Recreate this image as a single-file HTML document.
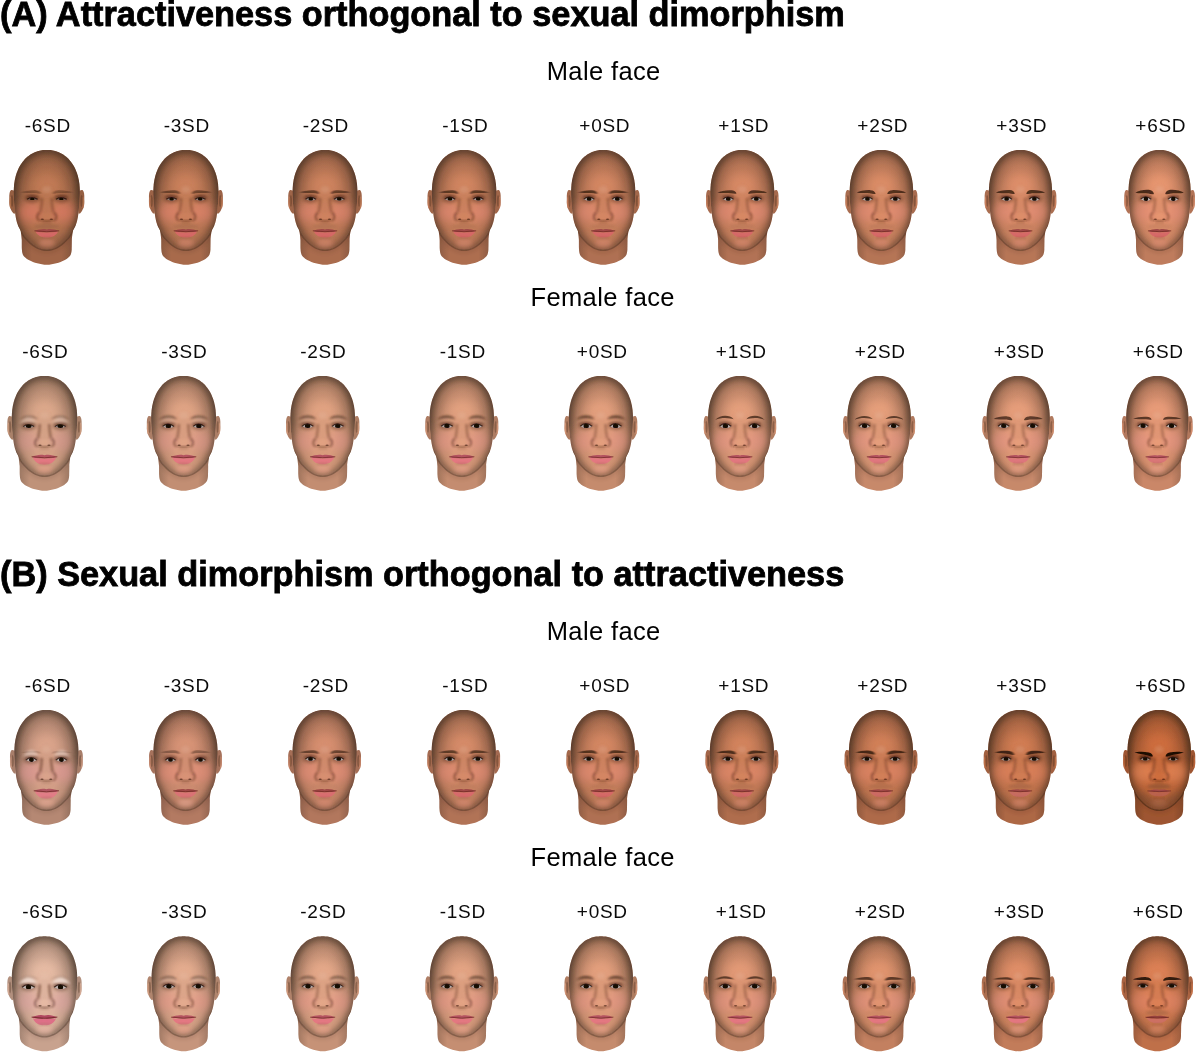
<!DOCTYPE html>
<html><head><meta charset="utf-8"><title>Attractiveness and sexual dimorphism</title>
<style>
html,body{margin:0;padding:0;background:#fff;}
body{width:1200px;height:1056px;overflow:hidden;}
svg{display:block;}
.t{font-family:"Liberation Sans",Arial,sans-serif;font-weight:bold;font-size:34.3px;letter-spacing:0.0px;fill:#000;stroke:#000;stroke-width:0.8px;}
.s{font-family:"Liberation Sans",Arial,sans-serif;font-size:25.5px;letter-spacing:0.38px;fill:#000;}
.l{font-family:"Liberation Sans",Arial,sans-serif;font-size:19px;letter-spacing:0.7px;fill:#0a0a0a;}
</style></head><body>
<svg width="1200" height="1056" viewBox="0 0 1200 1056">
<defs>
<filter id="bf" x="-10%" y="-10%" width="120%" height="120%"><feGaussianBlur stdDeviation="0.45"/></filter>
<filter id="b04" x="-50%" y="-50%" width="200%" height="200%"><feGaussianBlur stdDeviation="0.4"/></filter>
<filter id="b05" x="-50%" y="-50%" width="200%" height="200%"><feGaussianBlur stdDeviation="0.5"/></filter>
<filter id="b06" x="-50%" y="-50%" width="200%" height="200%"><feGaussianBlur stdDeviation="0.6"/></filter>
<filter id="b08" x="-50%" y="-50%" width="200%" height="200%"><feGaussianBlur stdDeviation="0.8"/></filter>
<filter id="b1" x="-50%" y="-50%" width="200%" height="200%"><feGaussianBlur stdDeviation="1"/></filter>
<filter id="b12" x="-50%" y="-50%" width="200%" height="200%"><feGaussianBlur stdDeviation="1.2"/></filter>
<filter id="b15" x="-50%" y="-50%" width="200%" height="200%"><feGaussianBlur stdDeviation="1.5"/></filter>
<filter id="b2" x="-50%" y="-50%" width="200%" height="200%"><feGaussianBlur stdDeviation="2"/></filter>
<filter id="b3" x="-50%" y="-50%" width="200%" height="200%"><feGaussianBlur stdDeviation="3"/></filter>
<filter id="b4" x="-50%" y="-50%" width="200%" height="200%"><feGaussianBlur stdDeviation="4"/></filter>
<radialGradient id="rimg" cx="0" cy="0" r="1" gradientUnits="userSpaceOnUse" gradientTransform="translate(0,62) scale(33,75)"><stop offset="0" stop-color="#2a2018" stop-opacity="0"/><stop offset="0.35" stop-color="#2a2018" stop-opacity="0"/><stop offset="0.56" stop-color="#2a2018" stop-opacity="0.10"/><stop offset="0.77" stop-color="#2a2018" stop-opacity="0.23"/><stop offset="0.93" stop-color="#2a2018" stop-opacity="0.34"/><stop offset="1" stop-color="#2a2018" stop-opacity="0.44"/></radialGradient>
<linearGradient id="topg" x1="0" x2="0" y1="4" y2="40" gradientUnits="userSpaceOnUse"><stop offset="0" stop-color="#24160e" stop-opacity="0.12"/><stop offset="0.5" stop-color="#24160e" stop-opacity="0.04"/><stop offset="1" stop-color="#24160e" stop-opacity="0"/></linearGradient>
<linearGradient id="neckg" x1="-24" x2="24" y1="0" y2="0" gradientUnits="userSpaceOnUse"><stop offset="0" stop-color="#2a2018" stop-opacity="0.22"/><stop offset="0.2" stop-color="#2a2018" stop-opacity="0"/><stop offset="0.8" stop-color="#2a2018" stop-opacity="0"/><stop offset="1" stop-color="#2a2018" stop-opacity="0.22"/></linearGradient>
<radialGradient id="cranig" cx="0" cy="0" r="1" gradientUnits="userSpaceOnUse" gradientTransform="translate(0,40) scale(32,42)"><stop offset="0" stop-color="#2a2018" stop-opacity="0"/><stop offset="0.6" stop-color="#2a2018" stop-opacity="0"/><stop offset="0.85" stop-color="#2a2018" stop-opacity="0.17"/><stop offset="0.97" stop-color="#2a2018" stop-opacity="0.17"/><stop offset="1" stop-color="#2a2018" stop-opacity="0"/></radialGradient>
<path id="head" d="M0.0,4.9C0.8,4.9 1.7,4.9 2.5,5.0C3.3,5.0 4.1,5.1 4.8,5.2C5.6,5.4 6.3,5.5 7.0,5.7C7.7,5.8 8.4,6.0 9.1,6.2C9.8,6.5 10.5,6.7 11.2,7.0C11.8,7.3 12.5,7.6 13.1,7.9C13.8,8.2 14.4,8.6 15.0,8.9C15.6,9.3 16.3,9.7 16.9,10.2C17.4,10.6 18.0,11.1 18.6,11.5C19.1,12.0 19.7,12.5 20.2,13.1C20.8,13.6 21.3,14.1 21.8,14.7C22.3,15.3 22.8,15.9 23.2,16.5C23.7,17.1 24.2,17.8 24.6,18.4C25.1,19.1 25.5,19.8 25.9,20.5C26.3,21.2 26.7,21.9 27.0,22.6C27.4,23.4 27.8,24.1 28.1,24.9C28.4,25.7 28.7,26.5 29.0,27.3C29.3,28.1 29.6,28.9 29.8,29.8C30.1,30.6 30.3,31.5 30.5,32.4C30.7,33.2 30.9,34.1 31.1,35.0C31.2,35.9 31.4,36.9 31.5,37.8C31.7,38.7 31.8,39.7 31.8,40.7C31.9,41.7 32.0,42.5 32.0,43.7C32.1,44.8 32.1,45.4 32.1,47.5C32.1,49.6 31.9,53.6 31.8,56.0C31.7,58.4 31.5,59.8 31.3,62.0C31.1,64.2 30.9,66.8 30.6,69.0C30.3,71.2 30.0,73.2 29.6,75.0C29.2,76.8 28.8,78.2 28.3,79.5C27.9,80.8 27.4,81.7 26.9,82.8C26.4,83.9 25.8,84.9 25.2,86.0C24.6,87.1 24.2,88.4 23.6,89.4C23.0,90.4 22.2,91.3 21.6,92.1C21.0,92.9 20.8,93.2 19.9,94.2C19.0,95.2 17.4,96.8 16.2,98.0C14.9,99.2 13.7,100.2 12.4,101.1C11.1,102.0 9.9,102.7 8.6,103.3C7.3,103.9 5.9,104.4 4.5,104.7C3.1,105.0 1.5,105.2 0.0,105.2C-1.5,105.2 -3.1,105.0 -4.5,104.7C-5.9,104.4 -7.3,103.9 -8.6,103.3C-9.9,102.7 -11.1,102.0 -12.4,101.1C-13.7,100.2 -14.9,99.2 -16.2,98.0C-17.4,96.8 -19.0,95.2 -19.9,94.2C-20.8,93.2 -21.0,92.9 -21.6,92.1C-22.2,91.3 -23.0,90.4 -23.6,89.4C-24.2,88.4 -24.6,87.1 -25.2,86.0C-25.8,84.9 -26.4,83.9 -26.9,82.8C-27.4,81.7 -27.9,80.8 -28.3,79.5C-28.8,78.2 -29.2,76.8 -29.6,75.0C-30.0,73.2 -30.3,71.2 -30.6,69.0C-30.9,66.8 -31.1,64.2 -31.3,62.0C-31.5,59.8 -31.7,58.4 -31.8,56.0C-31.9,53.6 -32.1,49.6 -32.1,47.5C-32.1,45.4 -32.1,44.8 -32.0,43.7C-32.0,42.5 -31.9,41.7 -31.8,40.7C-31.8,39.7 -31.7,38.7 -31.5,37.8C-31.4,36.9 -31.2,35.9 -31.1,35.0C-30.9,34.1 -30.7,33.2 -30.5,32.4C-30.3,31.5 -30.1,30.6 -29.8,29.8C-29.6,28.9 -29.3,28.1 -29.0,27.3C-28.7,26.5 -28.4,25.7 -28.1,24.9C-27.8,24.1 -27.4,23.4 -27.0,22.6C-26.7,21.9 -26.3,21.2 -25.9,20.5C-25.5,19.8 -25.1,19.1 -24.6,18.4C-24.2,17.8 -23.7,17.1 -23.2,16.5C-22.8,15.9 -22.3,15.3 -21.8,14.7C-21.3,14.1 -20.8,13.6 -20.2,13.1C-19.7,12.5 -19.1,12.0 -18.6,11.5C-18.0,11.1 -17.4,10.6 -16.9,10.2C-16.3,9.7 -15.6,9.3 -15.0,8.9C-14.4,8.6 -13.8,8.2 -13.1,7.9C-12.5,7.6 -11.8,7.3 -11.2,7.0C-10.5,6.7 -9.8,6.5 -9.1,6.2C-8.4,6.0 -7.7,5.8 -7.0,5.7C-6.3,5.5 -5.6,5.4 -4.8,5.2C-4.1,5.1 -3.3,5.0 -2.5,5.0C-1.7,4.9 -0.8,4.9 0.0,4.9Z"/>
<path id="cran" d="M-31.8,56.0C-31.9,54.6 -32.1,49.6 -32.1,47.5C-32.1,45.4 -32.1,44.8 -32.0,43.7C-32.0,42.5 -31.9,41.7 -31.8,40.7C-31.8,39.7 -31.7,38.7 -31.5,37.8C-31.4,36.9 -31.2,35.9 -31.1,35.0C-30.9,34.1 -30.7,33.2 -30.5,32.4C-30.3,31.5 -30.1,30.6 -29.8,29.8C-29.6,28.9 -29.3,28.1 -29.0,27.3C-28.7,26.5 -28.4,25.7 -28.1,24.9C-27.8,24.1 -27.4,23.4 -27.0,22.6C-26.7,21.9 -26.3,21.2 -25.9,20.5C-25.5,19.8 -25.1,19.1 -24.6,18.4C-24.2,17.8 -23.7,17.1 -23.2,16.5C-22.8,15.9 -22.3,15.3 -21.8,14.7C-21.3,14.1 -20.8,13.6 -20.2,13.1C-19.7,12.5 -19.1,12.0 -18.6,11.5C-18.0,11.1 -17.4,10.6 -16.9,10.2C-16.3,9.7 -15.6,9.3 -15.0,8.9C-14.4,8.6 -13.8,8.2 -13.1,7.9C-12.5,7.6 -11.8,7.3 -11.2,7.0C-10.5,6.7 -9.8,6.5 -9.1,6.2C-8.4,6.0 -7.7,5.8 -7.0,5.7C-6.3,5.5 -5.6,5.4 -4.8,5.2C-4.1,5.1 -3.3,5.0 -2.5,5.0C-1.7,4.9 -0.8,4.9 0.0,4.9C0.8,4.9 1.7,4.9 2.5,5.0C3.3,5.0 4.1,5.1 4.8,5.2C5.6,5.4 6.3,5.5 7.0,5.7C7.7,5.8 8.4,6.0 9.1,6.2C9.8,6.5 10.5,6.7 11.2,7.0C11.8,7.3 12.5,7.6 13.1,7.9C13.8,8.2 14.4,8.6 15.0,8.9C15.6,9.3 16.3,9.7 16.9,10.2C17.4,10.6 18.0,11.1 18.6,11.5C19.1,12.0 19.7,12.5 20.2,13.1C20.8,13.6 21.3,14.1 21.8,14.7C22.3,15.3 22.8,15.9 23.2,16.5C23.7,17.1 24.2,17.8 24.6,18.4C25.1,19.1 25.5,19.8 25.9,20.5C26.3,21.2 26.7,21.9 27.0,22.6C27.4,23.4 27.8,24.1 28.1,24.9C28.4,25.7 28.7,26.5 29.0,27.3C29.3,28.1 29.6,28.9 29.8,29.8C30.1,30.6 30.3,31.5 30.5,32.4C30.7,33.2 30.9,34.1 31.1,35.0C31.2,35.9 31.4,36.9 31.5,37.8C31.7,38.7 31.8,39.7 31.8,40.7C31.9,41.7 32.0,42.5 32.0,43.7C32.1,44.8 32.1,45.4 32.1,47.5C32.1,49.6 31.9,54.6 31.8,56.0" fill="none"/>
<path id="neck" d="M0.0,70.0C8.1,70.0 20.1,65.8 24.2,70.0C28.2,74.2 24.3,89.3 24.3,95.0C24.3,100.7 24.3,101.7 24.2,104.0C24.1,106.3 23.9,107.4 23.5,108.7C23.1,110.0 22.6,110.8 21.5,111.9C20.4,113.0 19.0,114.1 17.0,115.2C15.0,116.3 12.1,117.5 9.3,118.3C6.5,119.1 3.1,119.8 0.0,119.8C-3.1,119.8 -6.5,119.1 -9.3,118.3C-12.1,117.5 -15.0,116.3 -17.0,115.2C-19.0,114.1 -20.4,113.0 -21.5,111.9C-22.6,110.8 -23.1,110.0 -23.5,108.7C-23.9,107.4 -24.1,106.3 -24.2,104.0C-24.3,101.7 -24.3,100.7 -24.3,95.0C-24.3,89.3 -28.2,74.2 -24.2,70.0C-20.1,65.8 -8.1,70.0 0.0,70.0Z"/>
<path id="jaw" d="M28.3,79.5C28.1,80.0 27.4,81.7 26.9,82.8C26.4,83.9 25.8,84.9 25.2,86.0C24.6,87.1 24.2,88.4 23.6,89.4C23.0,90.4 22.2,91.3 21.6,92.1C21.0,92.9 20.8,93.2 19.9,94.2C19.0,95.2 17.4,96.8 16.2,98.0C14.9,99.2 13.7,100.2 12.4,101.1C11.1,102.0 9.9,102.7 8.6,103.3C7.3,103.9 5.9,104.4 4.5,104.7C3.1,105.0 1.5,105.2 0.0,105.2C-1.5,105.2 -3.1,105.0 -4.5,104.7C-5.9,104.4 -7.3,103.9 -8.6,103.3C-9.9,102.7 -11.1,102.0 -12.4,101.1C-13.7,100.2 -14.9,99.2 -16.2,98.0C-17.4,96.8 -19.0,95.2 -19.9,94.2C-20.8,93.2 -21.0,92.9 -21.6,92.1C-22.2,91.3 -23.0,90.4 -23.6,89.4C-24.2,88.4 -24.6,87.1 -25.2,86.0C-25.8,84.9 -26.4,83.9 -26.9,82.8C-27.4,81.7 -28.1,80.0 -28.3,79.5" fill="none"/>
<path id="earL" d="M-32.2,45.6C-32.9,45.1 -33.9,44.6 -34.6,45.1C-35.3,45.6 -35.9,47.1 -36.2,48.5C-36.5,49.9 -36.4,51.4 -36.4,53.3C-36.4,55.2 -36.5,58.0 -36.2,59.9C-35.9,61.8 -35.3,63.5 -34.6,64.9C-33.9,66.4 -32.6,68.4 -31.9,68.6C-31.2,68.8 -30.7,69.4 -30.5,66.0C-30.3,62.6 -30.2,51.4 -30.5,48.0C-30.8,44.6 -31.5,46.1 -32.2,45.6Z"/>
<path id="earR" d="M32.2,45.6C32.9,45.1 33.9,44.6 34.6,45.1C35.3,45.6 35.9,47.1 36.2,48.5C36.5,49.9 36.4,51.4 36.4,53.3C36.4,55.2 36.5,58.0 36.2,59.9C35.9,61.8 35.3,63.5 34.6,64.9C33.9,66.4 32.6,68.4 31.9,68.6C31.2,68.8 30.7,69.4 30.5,66.0C30.3,62.6 30.2,51.4 30.5,48.0C30.8,44.6 31.5,46.1 32.2,45.6Z"/>
<clipPath id="hc"><use href="#head"/></clipPath>
<clipPath id="nc"><use href="#neck"/></clipPath>
<clipPath id="hnc"><use href="#neck"/><use href="#head"/></clipPath>
<g id="earsh"><ellipse cx="-33.8" cy="56" rx="1.2" ry="6"/><ellipse cx="33.8" cy="56" rx="1.2" ry="6"/></g>
<g id="cheeks"><ellipse cx="-16.5" cy="67" rx="10" ry="9"/><ellipse cx="16.5" cy="67" rx="10" ry="9"/></g>
<g id="sockets"><ellipse cx="-14.1" cy="53.5" rx="7.8" ry="4.4"/><ellipse cx="14.1" cy="53.5" rx="7.8" ry="4.4"/></g>
<path id="fbrowL" d="M-24.8,48.2 C-22.2,45.5 -18.5,44 -15,44 C-11.3,44 -8.4,45.1 -6.4,47.6 C-8.4,47.3 -11.4,46.4 -15,46.4 C-18.5,46.4 -21.6,47.1 -24.8,48.2Z"/><path id="fbrowR" d="M24.8,48.2 C22.2,45.5 18.5,44 15,44 C11.3,44 8.4,45.1 6.4,47.6 C8.4,47.3 11.4,46.4 15,46.4 C18.5,46.4 21.6,47.1 24.8,48.2Z"/>
<path id="browL" d="M-25,47.6 C-22,45.4 -16,44.0 -11,44.4 C-8.2,44.7 -6.4,46.2 -5.8,48.8 C-7.6,49.6 -9.6,48.6 -11.8,48.3 C-16.5,47.8 -21,48.5 -25,47.6Z"/><path id="browR" d="M25,47.6 C22,45.4 16,44.0 11,44.4 C8.2,44.7 6.4,46.2 5.8,48.8 C7.6,49.6 9.6,48.6 11.8,48.3 C16.5,47.8 21,48.5 25,47.6Z"/>
<g id="nsides" fill="none"><path d="M-4.6,53 Q-4.8,60 -6.2,67"/><path d="M4.6,53 Q4.8,60 6.2,67"/></g>
<g id="alae" fill="none"><path d="M-6.6,67.6 C-10,69 -10.2,73.8 -7.4,75.5"/><path d="M6.6,67.6 C10,69 10.2,73.8 7.4,75.5"/></g>
<g id="nostrils"><ellipse cx="-4.4" cy="74.3" rx="1.6" ry="0.8"/><ellipse cx="4.4" cy="74.3" rx="1.6" ry="0.8"/></g>
<path id="nostril" d="M-7,75.2 Q-3,75.3 0,76.4 Q3,75.3 7,75.2" fill="none"/>
<g id="lidhi"><ellipse cx="-14.5" cy="49.4" rx="8.5" ry="2.3"/><ellipse cx="14.5" cy="49.4" rx="8.5" ry="2.3"/></g>
<g id="lids"><ellipse cx="-14.1" cy="52" rx="6" ry="1.4"/><ellipse cx="14.1" cy="52" rx="6" ry="1.4"/></g>
<path id="lipu" d="M-12.3,86 C-8,84.6 -4,83.6 0,84.6 C4,83.6 8,84.6 12.1,86 C8,87.2 4,87.3 0,87.2 C-4,87.3 -8,87.2 -12.3,86Z"/>
<path id="lipl" d="M-10.8,86.7 C-6,87.6 6,87.6 10.8,86.7 C9,90.5 5,92.2 0,92.2 C-5,92.2 -9,90.5 -10.8,86.7Z"/>
<path id="lipline" d="M-12,85.8 Q0,87.6 12,85.8" fill="none"/>
</defs>
<text class="t" x="0" y="25.8">(A) Attractiveness orthogonal to sexual dimorphism</text>
<text class="s" x="603.7" y="79.7" text-anchor="middle">Male face</text>
<text class="s" x="602.7" y="305.8" text-anchor="middle">Female face</text>
<text class="t" x="0" y="585.8">(B) Sexual dimorphism orthogonal to attractiveness</text>
<text class="s" x="603.7" y="639.5" text-anchor="middle">Male face</text>
<text class="s" x="602.7" y="865.8" text-anchor="middle">Female face</text>

<text class="l" x="47.8" y="132.2" text-anchor="middle">-6SD</text>
<text class="l" x="186.8" y="132.2" text-anchor="middle">-3SD</text>
<text class="l" x="325.8" y="132.2" text-anchor="middle">-2SD</text>
<text class="l" x="465.3" y="132.2" text-anchor="middle">-1SD</text>
<text class="l" x="604.8" y="132.2" text-anchor="middle">+0SD</text>
<text class="l" x="743.8" y="132.2" text-anchor="middle">+1SD</text>
<text class="l" x="882.8" y="132.2" text-anchor="middle">+2SD</text>
<text class="l" x="1021.8" y="132.2" text-anchor="middle">+3SD</text>
<text class="l" x="1160.8" y="132.2" text-anchor="middle">+6SD</text>
<text class="l" x="45.3" y="358.0" text-anchor="middle">-6SD</text>
<text class="l" x="184.3" y="358.0" text-anchor="middle">-3SD</text>
<text class="l" x="323.3" y="358.0" text-anchor="middle">-2SD</text>
<text class="l" x="462.8" y="358.0" text-anchor="middle">-1SD</text>
<text class="l" x="602.3" y="358.0" text-anchor="middle">+0SD</text>
<text class="l" x="741.3" y="358.0" text-anchor="middle">+1SD</text>
<text class="l" x="880.3" y="358.0" text-anchor="middle">+2SD</text>
<text class="l" x="1019.3" y="358.0" text-anchor="middle">+3SD</text>
<text class="l" x="1158.3" y="358.0" text-anchor="middle">+6SD</text>
<text class="l" x="47.8" y="692.2" text-anchor="middle">-6SD</text>
<text class="l" x="186.8" y="692.2" text-anchor="middle">-3SD</text>
<text class="l" x="325.8" y="692.2" text-anchor="middle">-2SD</text>
<text class="l" x="465.3" y="692.2" text-anchor="middle">-1SD</text>
<text class="l" x="604.8" y="692.2" text-anchor="middle">+0SD</text>
<text class="l" x="743.8" y="692.2" text-anchor="middle">+1SD</text>
<text class="l" x="882.8" y="692.2" text-anchor="middle">+2SD</text>
<text class="l" x="1021.8" y="692.2" text-anchor="middle">+3SD</text>
<text class="l" x="1160.8" y="692.2" text-anchor="middle">+6SD</text>
<text class="l" x="45.3" y="918.2" text-anchor="middle">-6SD</text>
<text class="l" x="184.3" y="918.2" text-anchor="middle">-3SD</text>
<text class="l" x="323.3" y="918.2" text-anchor="middle">-2SD</text>
<text class="l" x="462.8" y="918.2" text-anchor="middle">-1SD</text>
<text class="l" x="602.3" y="918.2" text-anchor="middle">+0SD</text>
<text class="l" x="741.3" y="918.2" text-anchor="middle">+1SD</text>
<text class="l" x="880.3" y="918.2" text-anchor="middle">+2SD</text>
<text class="l" x="1019.3" y="918.2" text-anchor="middle">+3SD</text>
<text class="l" x="1158.3" y="918.2" text-anchor="middle">+6SD</text>
<g transform="translate(46.80,145.00) scale(1.030,1)" filter="url(#bf)"><defs><clipPath id="f0e0"><path d="M-19.30,54.20 Q-14.62,51.44 -8.90,54.20 Q-13.58,56.02 -19.30,54.20 Z"/></clipPath><clipPath id="f0e2"><path d="M8.90,54.20 Q13.58,51.44 19.30,54.20 Q14.62,56.02 8.90,54.20 Z"/></clipPath></defs><use href="#neck" fill="#a06547"/><use href="#neck" fill="url(#neckg)"/><g clip-path="url(#nc)"><use href="#jaw" stroke="#2a1008" stroke-width="5" opacity="0.12" filter="url(#b2)"/></g><use href="#earL" fill="#955e42"/><use href="#earR" fill="#955e42"/><g fill="#b67450" opacity="0.8" filter="url(#b06)"><ellipse cx="-35.2" cy="57.5" rx="1.1" ry="6"/><ellipse cx="35.2" cy="57.5" rx="1.1" ry="6"/></g><use href="#earsh" fill="#3a2010" opacity="0.3" filter="url(#b05)"/><use href="#head" fill="#ba7652"/><g clip-path="url(#hc)"><rect x="-33" y="0" width="66" height="42" fill="url(#topg)" opacity="1.00"/><use href="#head" fill="url(#rimg)" opacity="1.00"/><use href="#cran" stroke="#2a2018" stroke-width="12" opacity="0.22" filter="url(#b4)"/><use href="#head" fill="none" stroke="#2a2018" stroke-width="7" opacity="0.30" filter="url(#b2)"/><ellipse cx="0" cy="38" rx="13" ry="9" fill="#c57d57" opacity="0.60" filter="url(#b4)"/><ellipse cx="0" cy="44.5" rx="4.5" ry="3.5" fill="#cb9070" opacity="0.60" filter="url(#b15)"/><g fill="#e47c68" opacity="0.60" filter="url(#b4)"><ellipse cx="-16" cy="67.0" rx="11" ry="10"/><ellipse cx="16" cy="67.0" rx="11" ry="10"/></g><g fill="#3a1a10" opacity="0.32" filter="url(#b15)"><ellipse cx="-14.10" cy="53.50" rx="7.8" ry="4.4"/><ellipse cx="14.10" cy="53.50" rx="7.8" ry="4.4"/></g><g fill="#301a0e" opacity="0.35" filter="url(#b08)" transform="translate(0,46.90) scale(1,0.70) translate(0,-46.6)"><use href="#browL" transform="rotate(0.00,-15,46.6)"/><use href="#browR" transform="rotate(-0.00,15,46.6)"/></g><path d="M0,49 L0,69" stroke="#c97f59" stroke-width="3.5" opacity="0.35" filter="url(#b1)"/><use href="#nsides" stroke="#4a2010" stroke-width="2.6" opacity="0.30" filter="url(#b1)"/><ellipse cx="0" cy="71.3" rx="4.6" ry="3.6" fill="#c97f59" opacity="0.45" filter="url(#b1)"/><use href="#alae" stroke="#3a140a" stroke-width="1.8" opacity="0.45" filter="url(#b1)"/><use href="#nostril" stroke="#3a140a" stroke-width="1.3" opacity="0.39" filter="url(#b08)"/><use href="#nostrils" fill="#2a0a04" opacity="0.55" filter="url(#b06)"/><g fill="#3a1208" opacity="0.45" filter="url(#b08)"><ellipse cx="-14.10" cy="52.00" rx="5.98" ry="1.4"/><ellipse cx="14.10" cy="52.00" rx="5.98" ry="1.4"/></g><ellipse cx="0" cy="77" rx="5" ry="1.3" fill="#4a2012" opacity="0.15" filter="url(#b08)"/><ellipse cx="0" cy="81.4" rx="12" ry="3" fill="#3a3028" opacity="0.16" filter="url(#b15)"/><path d="M-22,84 Q-16,100 0,104 Q16,100 22,84 Q12,90 0,95 Q-12,90 -22,84Z" fill="#3a3028" opacity="0.14" filter="url(#b3)"/><g transform="translate(0,86.3) scale(1.00,1.05) translate(0,-86.3)"><use href="#lipu" fill="#a04a46" filter="url(#b05)"/><use href="#lipl" fill="#d66868" opacity="0.95" filter="url(#b06)"/><use href="#lipline" stroke="#5a1a14" stroke-width="0.8" opacity="0.60" filter="url(#b04)"/></g><ellipse cx="0" cy="93.2" rx="6" ry="1.2" fill="#4a2012" opacity="0.20" filter="url(#b08)"/><ellipse cx="0" cy="98" rx="8" ry="4.5" fill="#dc8c76" opacity="0.50" filter="url(#b2)"/><g filter="url(#b04)"><path d="M-19.30,54.20 Q-14.62,51.44 -8.90,54.20 Q-13.58,56.02 -19.30,54.20 Z" fill="#785a50"/><ellipse cx="-14.10" cy="53.90" rx="2.00" ry="2.10" fill="#140806" clip-path="url(#f0e0)"/><path d="M-19.30,54.20 Q-14.62,51.44 -8.90,54.20" stroke="#1e0c06" stroke-width="1.10" fill="none" opacity="0.8"/></g><g filter="url(#b04)"><path d="M8.90,54.20 Q13.58,51.44 19.30,54.20 Q14.62,56.02 8.90,54.20 Z" fill="#785a50"/><ellipse cx="14.10" cy="53.90" rx="2.00" ry="2.10" fill="#140806" clip-path="url(#f0e2)"/><path d="M8.90,54.20 Q13.58,51.44 19.30,54.20" stroke="#1e0c06" stroke-width="1.10" fill="none" opacity="0.8"/></g></g><g clip-path="url(#hnc)"><use href="#jaw" stroke="#2a1a10" stroke-width="1.3" opacity="0.32" filter="url(#b06)" transform="translate(0,0.2)"/></g></g>
<g transform="translate(185.90,145.00) scale(1.015,1)" filter="url(#bf)"><defs><clipPath id="f1e0"><path d="M-19.30,54.20 Q-14.62,50.67 -8.90,54.20 Q-13.58,56.62 -19.30,54.20 Z"/></clipPath><clipPath id="f1e2"><path d="M8.90,54.20 Q13.58,50.67 19.30,54.20 Q14.62,56.62 8.90,54.20 Z"/></clipPath></defs><use href="#neck" fill="#a86b4c"/><use href="#neck" fill="url(#neckg)"/><g clip-path="url(#nc)"><use href="#jaw" stroke="#2a1008" stroke-width="5" opacity="0.12" filter="url(#b2)"/></g><use href="#earL" fill="#9c6347"/><use href="#earR" fill="#9c6347"/><g fill="#bf7a57" opacity="0.8" filter="url(#b06)"><ellipse cx="-35.2" cy="57.5" rx="1.1" ry="6"/><ellipse cx="35.2" cy="57.5" rx="1.1" ry="6"/></g><use href="#earsh" fill="#3a2010" opacity="0.3" filter="url(#b05)"/><use href="#head" fill="#c37c58"/><g clip-path="url(#hc)"><rect x="-33" y="0" width="66" height="42" fill="url(#topg)" opacity="1.00"/><use href="#head" fill="url(#rimg)" opacity="1.00"/><use href="#cran" stroke="#2a2018" stroke-width="12" opacity="0.22" filter="url(#b4)"/><use href="#head" fill="none" stroke="#2a2018" stroke-width="7" opacity="0.30" filter="url(#b2)"/><ellipse cx="0" cy="38" rx="13" ry="9" fill="#cf835e" opacity="0.60" filter="url(#b4)"/><ellipse cx="0" cy="44.5" rx="4.5" ry="3.5" fill="#d29474" opacity="0.60" filter="url(#b15)"/><g fill="#e88673" opacity="0.55" filter="url(#b4)"><ellipse cx="-16" cy="67.0" rx="11" ry="10"/><ellipse cx="16" cy="67.0" rx="11" ry="10"/></g><g fill="#3a1a10" opacity="0.32" filter="url(#b15)"><ellipse cx="-14.10" cy="53.50" rx="7.8" ry="4.4"/><ellipse cx="14.10" cy="53.50" rx="7.8" ry="4.4"/></g><g fill="#301a0e" opacity="0.55" filter="url(#b08)" transform="translate(0,46.90) scale(1,0.71) translate(0,-46.6)"><use href="#browL" transform="rotate(0.00,-15,46.6)"/><use href="#browR" transform="rotate(-0.00,15,46.6)"/></g><path d="M0,49 L0,69" stroke="#d38660" stroke-width="3.5" opacity="0.35" filter="url(#b1)"/><use href="#nsides" stroke="#4a2010" stroke-width="2.6" opacity="0.30" filter="url(#b1)"/><ellipse cx="0" cy="71.3" rx="4.6" ry="3.6" fill="#d38660" opacity="0.45" filter="url(#b1)"/><use href="#alae" stroke="#3a140a" stroke-width="1.8" opacity="0.45" filter="url(#b1)"/><use href="#nostril" stroke="#3a140a" stroke-width="1.3" opacity="0.39" filter="url(#b08)"/><use href="#nostrils" fill="#2a0a04" opacity="0.55" filter="url(#b06)"/><g fill="#3a1208" opacity="0.45" filter="url(#b08)"><ellipse cx="-14.10" cy="52.00" rx="5.98" ry="1.4"/><ellipse cx="14.10" cy="52.00" rx="5.98" ry="1.4"/></g><ellipse cx="0" cy="77" rx="5" ry="1.3" fill="#4a2012" opacity="0.15" filter="url(#b08)"/><ellipse cx="0" cy="81.4" rx="12" ry="3" fill="#3a3028" opacity="0.13" filter="url(#b15)"/><path d="M-22,84 Q-16,100 0,104 Q16,100 22,84 Q12,90 0,95 Q-12,90 -22,84Z" fill="#3a3028" opacity="0.10" filter="url(#b3)"/><g transform="translate(0,86.3) scale(1.00,1.05) translate(0,-86.3)"><use href="#lipu" fill="#a04a46" filter="url(#b05)"/><use href="#lipl" fill="#d66868" opacity="0.95" filter="url(#b06)"/><use href="#lipline" stroke="#5a1a14" stroke-width="0.8" opacity="0.60" filter="url(#b04)"/></g><ellipse cx="0" cy="93.2" rx="6" ry="1.2" fill="#4a2012" opacity="0.20" filter="url(#b08)"/><ellipse cx="0" cy="98" rx="8" ry="4.5" fill="#dc8c76" opacity="0.50" filter="url(#b2)"/><g filter="url(#b04)"><path d="M-19.30,54.20 Q-14.62,50.67 -8.90,54.20 Q-13.58,56.62 -19.30,54.20 Z" fill="#94807a"/><ellipse cx="-14.10" cy="53.90" rx="2.15" ry="2.26" fill="#140806" clip-path="url(#f1e0)"/><path d="M-19.30,54.20 Q-14.62,50.67 -8.90,54.20" stroke="#1e0c06" stroke-width="1.10" fill="none" opacity="0.8"/></g><g filter="url(#b04)"><path d="M8.90,54.20 Q13.58,50.67 19.30,54.20 Q14.62,56.62 8.90,54.20 Z" fill="#94807a"/><ellipse cx="14.10" cy="53.90" rx="2.15" ry="2.26" fill="#140806" clip-path="url(#f1e2)"/><path d="M8.90,54.20 Q13.58,50.67 19.30,54.20" stroke="#1e0c06" stroke-width="1.10" fill="none" opacity="0.8"/></g></g><g clip-path="url(#hnc)"><use href="#jaw" stroke="#2a1a10" stroke-width="1.3" opacity="0.32" filter="url(#b06)" transform="translate(0,0.2)"/></g></g>
<g transform="translate(325.00,145.00) scale(1.010,1)" filter="url(#bf)"><defs><clipPath id="f2e0"><path d="M-19.30,54.20 Q-14.62,50.42 -8.90,54.20 Q-13.58,56.83 -19.30,54.20 Z"/></clipPath><clipPath id="f2e2"><path d="M8.90,54.20 Q13.58,50.42 19.30,54.20 Q14.62,56.83 8.90,54.20 Z"/></clipPath></defs><use href="#neck" fill="#aa6c4e"/><use href="#neck" fill="url(#neckg)"/><g clip-path="url(#nc)"><use href="#jaw" stroke="#2a1008" stroke-width="5" opacity="0.12" filter="url(#b2)"/></g><use href="#earL" fill="#9e6549"/><use href="#earR" fill="#9e6549"/><g fill="#c27b59" opacity="0.8" filter="url(#b06)"><ellipse cx="-35.2" cy="57.5" rx="1.1" ry="6"/><ellipse cx="35.2" cy="57.5" rx="1.1" ry="6"/></g><use href="#earsh" fill="#3a2010" opacity="0.3" filter="url(#b05)"/><use href="#head" fill="#c67e5b"/><g clip-path="url(#hc)"><rect x="-33" y="0" width="66" height="42" fill="url(#topg)" opacity="1.00"/><use href="#head" fill="url(#rimg)" opacity="1.00"/><use href="#cran" stroke="#2a2018" stroke-width="12" opacity="0.22" filter="url(#b4)"/><use href="#head" fill="none" stroke="#2a2018" stroke-width="7" opacity="0.30" filter="url(#b2)"/><ellipse cx="0" cy="38" rx="13" ry="9" fill="#d28660" opacity="0.60" filter="url(#b4)"/><ellipse cx="0" cy="44.5" rx="4.5" ry="3.5" fill="#d49676" opacity="0.60" filter="url(#b15)"/><g fill="#e98977" opacity="0.53" filter="url(#b4)"><ellipse cx="-16" cy="67.0" rx="11" ry="10"/><ellipse cx="16" cy="67.0" rx="11" ry="10"/></g><g fill="#3a1a10" opacity="0.32" filter="url(#b15)"><ellipse cx="-14.10" cy="53.50" rx="7.8" ry="4.4"/><ellipse cx="14.10" cy="53.50" rx="7.8" ry="4.4"/></g><g fill="#301a0e" opacity="0.62" filter="url(#b08)" transform="translate(0,46.90) scale(1,0.71) translate(0,-46.6)"><use href="#browL" transform="rotate(0.00,-15,46.6)"/><use href="#browR" transform="rotate(-0.00,15,46.6)"/></g><path d="M0,49 L0,69" stroke="#d68862" stroke-width="3.5" opacity="0.35" filter="url(#b1)"/><use href="#nsides" stroke="#4a2010" stroke-width="2.6" opacity="0.30" filter="url(#b1)"/><ellipse cx="0" cy="71.3" rx="4.6" ry="3.6" fill="#d68862" opacity="0.45" filter="url(#b1)"/><use href="#alae" stroke="#3a140a" stroke-width="1.8" opacity="0.45" filter="url(#b1)"/><use href="#nostril" stroke="#3a140a" stroke-width="1.3" opacity="0.39" filter="url(#b08)"/><use href="#nostrils" fill="#2a0a04" opacity="0.55" filter="url(#b06)"/><g fill="#3a1208" opacity="0.45" filter="url(#b08)"><ellipse cx="-14.10" cy="52.00" rx="5.98" ry="1.4"/><ellipse cx="14.10" cy="52.00" rx="5.98" ry="1.4"/></g><ellipse cx="0" cy="77" rx="5" ry="1.3" fill="#4a2012" opacity="0.15" filter="url(#b08)"/><ellipse cx="0" cy="81.4" rx="12" ry="3" fill="#3a3028" opacity="0.12" filter="url(#b15)"/><path d="M-22,84 Q-16,100 0,104 Q16,100 22,84 Q12,90 0,95 Q-12,90 -22,84Z" fill="#3a3028" opacity="0.09" filter="url(#b3)"/><g transform="translate(0,86.3) scale(1.00,1.05) translate(0,-86.3)"><use href="#lipu" fill="#a04a46" filter="url(#b05)"/><use href="#lipl" fill="#d66868" opacity="0.95" filter="url(#b06)"/><use href="#lipline" stroke="#5a1a14" stroke-width="0.8" opacity="0.60" filter="url(#b04)"/></g><ellipse cx="0" cy="93.2" rx="6" ry="1.2" fill="#4a2012" opacity="0.20" filter="url(#b08)"/><ellipse cx="0" cy="98" rx="8" ry="4.5" fill="#dc8c76" opacity="0.50" filter="url(#b2)"/><g filter="url(#b04)"><path d="M-19.30,54.20 Q-14.62,50.42 -8.90,54.20 Q-13.58,56.83 -19.30,54.20 Z" fill="#9d8d88"/><ellipse cx="-14.10" cy="53.90" rx="2.20" ry="2.31" fill="#140806" clip-path="url(#f2e0)"/><path d="M-19.30,54.20 Q-14.62,50.42 -8.90,54.20" stroke="#1e0c06" stroke-width="1.10" fill="none" opacity="0.8"/></g><g filter="url(#b04)"><path d="M8.90,54.20 Q13.58,50.42 19.30,54.20 Q14.62,56.83 8.90,54.20 Z" fill="#9d8d88"/><ellipse cx="14.10" cy="53.90" rx="2.20" ry="2.31" fill="#140806" clip-path="url(#f2e2)"/><path d="M8.90,54.20 Q13.58,50.42 19.30,54.20" stroke="#1e0c06" stroke-width="1.10" fill="none" opacity="0.8"/></g></g><g clip-path="url(#hnc)"><use href="#jaw" stroke="#2a1a10" stroke-width="1.3" opacity="0.32" filter="url(#b06)" transform="translate(0,0.2)"/></g></g>
<g transform="translate(464.10,145.00) scale(1.005,1)" filter="url(#bf)"><defs><clipPath id="f3e0"><path d="M-19.30,54.20 Q-14.62,50.17 -8.90,54.20 Q-13.58,57.02 -19.30,54.20 Z"/></clipPath><clipPath id="f3e2"><path d="M8.90,54.20 Q13.58,50.17 19.30,54.20 Q14.62,57.02 8.90,54.20 Z"/></clipPath></defs><use href="#neck" fill="#ad6e50"/><use href="#neck" fill="url(#neckg)"/><g clip-path="url(#nc)"><use href="#jaw" stroke="#2a1008" stroke-width="5" opacity="0.12" filter="url(#b2)"/></g><use href="#earL" fill="#a1664a"/><use href="#earR" fill="#a1664a"/><g fill="#c57d5b" opacity="0.8" filter="url(#b06)"><ellipse cx="-35.2" cy="57.5" rx="1.1" ry="6"/><ellipse cx="35.2" cy="57.5" rx="1.1" ry="6"/></g><use href="#earsh" fill="#3a2010" opacity="0.3" filter="url(#b05)"/><use href="#head" fill="#c9805d"/><g clip-path="url(#hc)"><rect x="-33" y="0" width="66" height="42" fill="url(#topg)" opacity="1.00"/><use href="#head" fill="url(#rimg)" opacity="1.00"/><use href="#cran" stroke="#2a2018" stroke-width="12" opacity="0.22" filter="url(#b4)"/><use href="#head" fill="none" stroke="#2a2018" stroke-width="7" opacity="0.30" filter="url(#b2)"/><ellipse cx="0" cy="38" rx="13" ry="9" fill="#d58862" opacity="0.60" filter="url(#b4)"/><ellipse cx="0" cy="44.5" rx="4.5" ry="3.5" fill="#d69778" opacity="0.60" filter="url(#b15)"/><g fill="#eb8d7a" opacity="0.52" filter="url(#b4)"><ellipse cx="-16" cy="67.0" rx="11" ry="10"/><ellipse cx="16" cy="67.0" rx="11" ry="10"/></g><g fill="#3a1a10" opacity="0.32" filter="url(#b15)"><ellipse cx="-14.10" cy="53.50" rx="7.8" ry="4.4"/><ellipse cx="14.10" cy="53.50" rx="7.8" ry="4.4"/></g><g fill="#301a0e" opacity="0.68" filter="url(#b08)" transform="translate(0,46.90) scale(1,0.72) translate(0,-46.6)"><use href="#browL" transform="rotate(0.00,-15,46.6)"/><use href="#browR" transform="rotate(-0.00,15,46.6)"/></g><path d="M0,49 L0,69" stroke="#d98a64" stroke-width="3.5" opacity="0.35" filter="url(#b1)"/><use href="#nsides" stroke="#4a2010" stroke-width="2.6" opacity="0.30" filter="url(#b1)"/><ellipse cx="0" cy="71.3" rx="4.6" ry="3.6" fill="#d98a64" opacity="0.45" filter="url(#b1)"/><use href="#alae" stroke="#3a140a" stroke-width="1.8" opacity="0.45" filter="url(#b1)"/><use href="#nostril" stroke="#3a140a" stroke-width="1.3" opacity="0.39" filter="url(#b08)"/><use href="#nostrils" fill="#2a0a04" opacity="0.55" filter="url(#b06)"/><g fill="#3a1208" opacity="0.45" filter="url(#b08)"><ellipse cx="-14.10" cy="52.00" rx="5.98" ry="1.4"/><ellipse cx="14.10" cy="52.00" rx="5.98" ry="1.4"/></g><ellipse cx="0" cy="77" rx="5" ry="1.3" fill="#4a2012" opacity="0.15" filter="url(#b08)"/><ellipse cx="0" cy="81.4" rx="12" ry="3" fill="#3a3028" opacity="0.11" filter="url(#b15)"/><path d="M-22,84 Q-16,100 0,104 Q16,100 22,84 Q12,90 0,95 Q-12,90 -22,84Z" fill="#3a3028" opacity="0.07" filter="url(#b3)"/><g transform="translate(0,86.3) scale(1.00,1.05) translate(0,-86.3)"><use href="#lipu" fill="#a04a46" filter="url(#b05)"/><use href="#lipl" fill="#d66868" opacity="0.95" filter="url(#b06)"/><use href="#lipline" stroke="#5a1a14" stroke-width="0.8" opacity="0.60" filter="url(#b04)"/></g><ellipse cx="0" cy="93.2" rx="6" ry="1.2" fill="#4a2012" opacity="0.20" filter="url(#b08)"/><ellipse cx="0" cy="98" rx="8" ry="4.5" fill="#dc8c76" opacity="0.50" filter="url(#b2)"/><g filter="url(#b04)"><path d="M-19.30,54.20 Q-14.62,50.17 -8.90,54.20 Q-13.58,57.02 -19.30,54.20 Z" fill="#a79996"/><ellipse cx="-14.10" cy="53.90" rx="2.25" ry="2.36" fill="#140806" clip-path="url(#f3e0)"/><path d="M-19.30,54.20 Q-14.62,50.17 -8.90,54.20" stroke="#1e0c06" stroke-width="1.10" fill="none" opacity="0.8"/></g><g filter="url(#b04)"><path d="M8.90,54.20 Q13.58,50.17 19.30,54.20 Q14.62,57.02 8.90,54.20 Z" fill="#a79996"/><ellipse cx="14.10" cy="53.90" rx="2.25" ry="2.36" fill="#140806" clip-path="url(#f3e2)"/><path d="M8.90,54.20 Q13.58,50.17 19.30,54.20" stroke="#1e0c06" stroke-width="1.10" fill="none" opacity="0.8"/></g></g><g clip-path="url(#hnc)"><use href="#jaw" stroke="#2a1a10" stroke-width="1.3" opacity="0.32" filter="url(#b06)" transform="translate(0,0.2)"/></g></g>
<g transform="translate(603.20,145.00) scale(1.000,1)" filter="url(#bf)"><defs><clipPath id="f4e0"><path d="M-19.30,54.20 Q-14.62,49.91 -8.90,54.20 Q-13.58,57.23 -19.30,54.20 Z"/></clipPath><clipPath id="f4e2"><path d="M8.90,54.20 Q13.58,49.91 19.30,54.20 Q14.62,57.23 8.90,54.20 Z"/></clipPath></defs><use href="#neck" fill="#af7052"/><use href="#neck" fill="url(#neckg)"/><g clip-path="url(#nc)"><use href="#jaw" stroke="#2a1008" stroke-width="5" opacity="0.12" filter="url(#b2)"/></g><use href="#earL" fill="#a3684c"/><use href="#earR" fill="#a3684c"/><g fill="#c87f5d" opacity="0.8" filter="url(#b06)"><ellipse cx="-35.2" cy="57.5" rx="1.1" ry="6"/><ellipse cx="35.2" cy="57.5" rx="1.1" ry="6"/></g><use href="#earsh" fill="#3a2010" opacity="0.3" filter="url(#b05)"/><use href="#head" fill="#cc825f"/><g clip-path="url(#hc)"><rect x="-33" y="0" width="66" height="42" fill="url(#topg)" opacity="1.00"/><use href="#head" fill="url(#rimg)" opacity="1.00"/><use href="#cran" stroke="#2a2018" stroke-width="12" opacity="0.22" filter="url(#b4)"/><use href="#head" fill="none" stroke="#2a2018" stroke-width="7" opacity="0.30" filter="url(#b2)"/><ellipse cx="0" cy="38" rx="13" ry="9" fill="#d88a65" opacity="0.60" filter="url(#b4)"/><ellipse cx="0" cy="44.5" rx="4.5" ry="3.5" fill="#d99879" opacity="0.60" filter="url(#b15)"/><g fill="#ec907e" opacity="0.50" filter="url(#b4)"><ellipse cx="-16" cy="67.0" rx="11" ry="10"/><ellipse cx="16" cy="67.0" rx="11" ry="10"/></g><g fill="#3a1a10" opacity="0.32" filter="url(#b15)"><ellipse cx="-14.10" cy="53.50" rx="7.8" ry="4.4"/><ellipse cx="14.10" cy="53.50" rx="7.8" ry="4.4"/></g><g fill="#301a0e" opacity="0.75" filter="url(#b08)" transform="translate(0,46.90) scale(1,0.72) translate(0,-46.6)"><use href="#browL" transform="rotate(0.00,-15,46.6)"/><use href="#browR" transform="rotate(-0.00,15,46.6)"/></g><path d="M0,49 L0,69" stroke="#dc8c67" stroke-width="3.5" opacity="0.35" filter="url(#b1)"/><use href="#nsides" stroke="#4a2010" stroke-width="2.6" opacity="0.30" filter="url(#b1)"/><ellipse cx="0" cy="71.3" rx="4.6" ry="3.6" fill="#dc8c67" opacity="0.45" filter="url(#b1)"/><use href="#alae" stroke="#3a140a" stroke-width="1.8" opacity="0.45" filter="url(#b1)"/><use href="#nostril" stroke="#3a140a" stroke-width="1.3" opacity="0.39" filter="url(#b08)"/><use href="#nostrils" fill="#2a0a04" opacity="0.55" filter="url(#b06)"/><g fill="#3a1208" opacity="0.45" filter="url(#b08)"><ellipse cx="-14.10" cy="52.00" rx="5.98" ry="1.4"/><ellipse cx="14.10" cy="52.00" rx="5.98" ry="1.4"/></g><ellipse cx="0" cy="77" rx="5" ry="1.3" fill="#4a2012" opacity="0.15" filter="url(#b08)"/><ellipse cx="0" cy="81.4" rx="12" ry="3" fill="#3a3028" opacity="0.10" filter="url(#b15)"/><path d="M-22,84 Q-16,100 0,104 Q16,100 22,84 Q12,90 0,95 Q-12,90 -22,84Z" fill="#3a3028" opacity="0.06" filter="url(#b3)"/><g transform="translate(0,86.3) scale(1.00,1.05) translate(0,-86.3)"><use href="#lipu" fill="#a04a46" filter="url(#b05)"/><use href="#lipl" fill="#d66868" opacity="0.95" filter="url(#b06)"/><use href="#lipline" stroke="#5a1a14" stroke-width="0.8" opacity="0.60" filter="url(#b04)"/></g><ellipse cx="0" cy="93.2" rx="6" ry="1.2" fill="#4a2012" opacity="0.20" filter="url(#b08)"/><ellipse cx="0" cy="98" rx="8" ry="4.5" fill="#dc8c76" opacity="0.50" filter="url(#b2)"/><g filter="url(#b04)"><path d="M-19.30,54.20 Q-14.62,49.91 -8.90,54.20 Q-13.58,57.23 -19.30,54.20 Z" fill="#b0a6a4"/><ellipse cx="-14.10" cy="53.90" rx="2.30" ry="2.42" fill="#140806" clip-path="url(#f4e0)"/><path d="M-19.30,54.20 Q-14.62,49.91 -8.90,54.20" stroke="#1e0c06" stroke-width="1.10" fill="none" opacity="0.8"/></g><g filter="url(#b04)"><path d="M8.90,54.20 Q13.58,49.91 19.30,54.20 Q14.62,57.23 8.90,54.20 Z" fill="#b0a6a4"/><ellipse cx="14.10" cy="53.90" rx="2.30" ry="2.42" fill="#140806" clip-path="url(#f4e2)"/><path d="M8.90,54.20 Q13.58,49.91 19.30,54.20" stroke="#1e0c06" stroke-width="1.10" fill="none" opacity="0.8"/></g></g><g clip-path="url(#hnc)"><use href="#jaw" stroke="#2a1a10" stroke-width="1.3" opacity="0.32" filter="url(#b06)" transform="translate(0,0.2)"/></g></g>
<g transform="translate(742.30,145.00) scale(0.995,1)" filter="url(#bf)"><defs><clipPath id="f5e0"><path d="M-19.33,54.20 Q-14.62,49.84 -8.87,54.20 Q-13.58,57.29 -19.33,54.20 Z"/></clipPath><clipPath id="f5e2"><path d="M8.87,54.20 Q13.58,49.84 19.33,54.20 Q14.62,57.29 8.87,54.20 Z"/></clipPath></defs><use href="#neck" fill="#b27254"/><use href="#neck" fill="url(#neckg)"/><g clip-path="url(#nc)"><use href="#jaw" stroke="#2a1008" stroke-width="5" opacity="0.12" filter="url(#b2)"/></g><use href="#earL" fill="#a66a4e"/><use href="#earR" fill="#a66a4e"/><g fill="#cb825f" opacity="0.8" filter="url(#b06)"><ellipse cx="-35.2" cy="57.5" rx="1.1" ry="6"/><ellipse cx="35.2" cy="57.5" rx="1.1" ry="6"/></g><use href="#earsh" fill="#3a2010" opacity="0.3" filter="url(#b05)"/><use href="#head" fill="#cf8461"/><g clip-path="url(#hc)"><rect x="-33" y="0" width="66" height="42" fill="url(#topg)" opacity="1.00"/><use href="#head" fill="url(#rimg)" opacity="1.00"/><use href="#cran" stroke="#2a2018" stroke-width="12" opacity="0.22" filter="url(#b4)"/><use href="#head" fill="none" stroke="#2a2018" stroke-width="7" opacity="0.30" filter="url(#b2)"/><ellipse cx="0" cy="38" rx="13" ry="9" fill="#db8c67" opacity="0.60" filter="url(#b4)"/><ellipse cx="0" cy="44.5" rx="4.5" ry="3.5" fill="#db9a7b" opacity="0.60" filter="url(#b15)"/><g fill="#ec907e" opacity="0.49" filter="url(#b4)"><ellipse cx="-16" cy="67.0" rx="11" ry="10"/><ellipse cx="16" cy="67.0" rx="11" ry="10"/></g><g fill="#3a1a10" opacity="0.32" filter="url(#b15)"><ellipse cx="-14.10" cy="53.50" rx="7.8" ry="4.4"/><ellipse cx="14.10" cy="53.50" rx="7.8" ry="4.4"/></g><g fill="#301a0e" opacity="0.77" filter="url(#b08)" transform="translate(0,46.90) scale(1,0.76) translate(0,-46.6)"><use href="#browL" transform="rotate(0.00,-15,46.6)"/><use href="#browR" transform="rotate(-0.00,15,46.6)"/></g><path d="M0,49 L0,69" stroke="#e08f69" stroke-width="3.5" opacity="0.35" filter="url(#b1)"/><use href="#nsides" stroke="#4a2010" stroke-width="2.6" opacity="0.30" filter="url(#b1)"/><ellipse cx="0" cy="71.3" rx="4.6" ry="3.6" fill="#e08f69" opacity="0.45" filter="url(#b1)"/><use href="#alae" stroke="#3a140a" stroke-width="1.8" opacity="0.45" filter="url(#b1)"/><use href="#nostril" stroke="#3a140a" stroke-width="1.3" opacity="0.39" filter="url(#b08)"/><use href="#nostrils" fill="#2a0a04" opacity="0.55" filter="url(#b06)"/><g fill="#3a1208" opacity="0.35" filter="url(#b08)"><ellipse cx="-14.10" cy="52.00" rx="6.02" ry="1.4"/><ellipse cx="14.10" cy="52.00" rx="6.02" ry="1.4"/></g><ellipse cx="0" cy="77" rx="5" ry="1.3" fill="#4a2012" opacity="0.15" filter="url(#b08)"/><ellipse cx="0" cy="81.4" rx="12" ry="3" fill="#3a3028" opacity="0.10" filter="url(#b15)"/><path d="M-22,84 Q-16,100 0,104 Q16,100 22,84 Q12,90 0,95 Q-12,90 -22,84Z" fill="#3a3028" opacity="0.06" filter="url(#b3)"/><g transform="translate(0,86.3) scale(1.00,1.05) translate(0,-86.3)"><use href="#lipu" fill="#a04a46" filter="url(#b05)"/><use href="#lipl" fill="#d66868" opacity="0.95" filter="url(#b06)"/><use href="#lipline" stroke="#5a1a14" stroke-width="0.8" opacity="0.60" filter="url(#b04)"/></g><ellipse cx="0" cy="93.2" rx="6" ry="1.2" fill="#4a2012" opacity="0.20" filter="url(#b08)"/><ellipse cx="0" cy="98" rx="8" ry="4.5" fill="#dc8c76" opacity="0.50" filter="url(#b2)"/><g filter="url(#b04)"><path d="M-19.33,54.20 Q-14.62,49.84 -8.87,54.20 Q-13.58,57.29 -19.33,54.20 Z" fill="#b3a9a7"/><ellipse cx="-14.10" cy="53.90" rx="2.30" ry="2.42" fill="#140806" clip-path="url(#f5e0)"/><path d="M-19.33,54.20 Q-14.62,49.84 -8.87,54.20" stroke="#1e0c06" stroke-width="1.10" fill="none" opacity="0.8"/></g><g filter="url(#b04)"><path d="M8.87,54.20 Q13.58,49.84 19.33,54.20 Q14.62,57.29 8.87,54.20 Z" fill="#b3a9a7"/><ellipse cx="14.10" cy="53.90" rx="2.30" ry="2.42" fill="#140806" clip-path="url(#f5e2)"/><path d="M8.87,54.20 Q13.58,49.84 19.33,54.20" stroke="#1e0c06" stroke-width="1.10" fill="none" opacity="0.8"/></g></g><g clip-path="url(#hnc)"><use href="#jaw" stroke="#2a1a10" stroke-width="1.3" opacity="0.32" filter="url(#b06)" transform="translate(0,0.2)"/></g></g>
<g transform="translate(881.40,145.00) scale(0.990,1)" filter="url(#bf)"><defs><clipPath id="f6e0"><path d="M-19.37,54.20 Q-14.63,49.76 -8.83,54.20 Q-13.57,57.35 -19.37,54.20 Z"/></clipPath><clipPath id="f6e2"><path d="M8.83,54.20 Q13.57,49.76 19.37,54.20 Q14.63,57.35 8.83,54.20 Z"/></clipPath></defs><use href="#neck" fill="#b57455"/><use href="#neck" fill="url(#neckg)"/><g clip-path="url(#nc)"><use href="#jaw" stroke="#2a1008" stroke-width="5" opacity="0.12" filter="url(#b2)"/></g><use href="#earL" fill="#a86c4f"/><use href="#earR" fill="#a86c4f"/><g fill="#ce8461" opacity="0.8" filter="url(#b06)"><ellipse cx="-35.2" cy="57.5" rx="1.1" ry="6"/><ellipse cx="35.2" cy="57.5" rx="1.1" ry="6"/></g><use href="#earsh" fill="#3a2010" opacity="0.3" filter="url(#b05)"/><use href="#head" fill="#d28763"/><g clip-path="url(#hc)"><rect x="-33" y="0" width="66" height="42" fill="url(#topg)" opacity="1.00"/><use href="#head" fill="url(#rimg)" opacity="1.00"/><use href="#cran" stroke="#2a2018" stroke-width="12" opacity="0.22" filter="url(#b4)"/><use href="#head" fill="none" stroke="#2a2018" stroke-width="7" opacity="0.30" filter="url(#b2)"/><ellipse cx="0" cy="38" rx="13" ry="9" fill="#df8f69" opacity="0.60" filter="url(#b4)"/><ellipse cx="0" cy="44.5" rx="4.5" ry="3.5" fill="#dd9c7c" opacity="0.60" filter="url(#b15)"/><g fill="#ec907e" opacity="0.48" filter="url(#b4)"><ellipse cx="-16" cy="67.0" rx="11" ry="10"/><ellipse cx="16" cy="67.0" rx="11" ry="10"/></g><g fill="#3a1a10" opacity="0.32" filter="url(#b15)"><ellipse cx="-14.10" cy="53.50" rx="7.8" ry="4.4"/><ellipse cx="14.10" cy="53.50" rx="7.8" ry="4.4"/></g><g fill="#301a0e" opacity="0.78" filter="url(#b08)" transform="translate(0,46.90) scale(1,0.80) translate(0,-46.6)"><use href="#browL" transform="rotate(0.00,-15,46.6)"/><use href="#browR" transform="rotate(-0.00,15,46.6)"/></g><path d="M0,49 L0,69" stroke="#e3916b" stroke-width="3.5" opacity="0.35" filter="url(#b1)"/><use href="#nsides" stroke="#4a2010" stroke-width="2.6" opacity="0.30" filter="url(#b1)"/><ellipse cx="0" cy="71.3" rx="4.6" ry="3.6" fill="#e3916b" opacity="0.45" filter="url(#b1)"/><use href="#alae" stroke="#3a140a" stroke-width="1.8" opacity="0.45" filter="url(#b1)"/><use href="#nostril" stroke="#3a140a" stroke-width="1.3" opacity="0.39" filter="url(#b08)"/><use href="#nostrils" fill="#2a0a04" opacity="0.55" filter="url(#b06)"/><g fill="#3a1208" opacity="0.35" filter="url(#b08)"><ellipse cx="-14.10" cy="52.00" rx="6.06" ry="1.4"/><ellipse cx="14.10" cy="52.00" rx="6.06" ry="1.4"/></g><ellipse cx="0" cy="77" rx="5" ry="1.3" fill="#4a2012" opacity="0.15" filter="url(#b08)"/><ellipse cx="0" cy="81.4" rx="12" ry="3" fill="#3a3028" opacity="0.10" filter="url(#b15)"/><path d="M-22,84 Q-16,100 0,104 Q16,100 22,84 Q12,90 0,95 Q-12,90 -22,84Z" fill="#3a3028" opacity="0.06" filter="url(#b3)"/><g transform="translate(0,86.3) scale(1.00,1.05) translate(0,-86.3)"><use href="#lipu" fill="#a04a46" filter="url(#b05)"/><use href="#lipl" fill="#d66868" opacity="0.95" filter="url(#b06)"/><use href="#lipline" stroke="#5a1a14" stroke-width="0.8" opacity="0.60" filter="url(#b04)"/></g><ellipse cx="0" cy="93.2" rx="6" ry="1.2" fill="#4a2012" opacity="0.20" filter="url(#b08)"/><ellipse cx="0" cy="98" rx="8" ry="4.5" fill="#dc8c76" opacity="0.50" filter="url(#b2)"/><g filter="url(#b04)"><path d="M-19.37,54.20 Q-14.63,49.76 -8.83,54.20 Q-13.57,57.35 -19.37,54.20 Z" fill="#b7adab"/><ellipse cx="-14.10" cy="53.90" rx="2.30" ry="2.42" fill="#140806" clip-path="url(#f6e0)"/><path d="M-19.37,54.20 Q-14.63,49.76 -8.83,54.20" stroke="#1e0c06" stroke-width="1.10" fill="none" opacity="0.8"/></g><g filter="url(#b04)"><path d="M8.83,54.20 Q13.57,49.76 19.37,54.20 Q14.63,57.35 8.83,54.20 Z" fill="#b7adab"/><ellipse cx="14.10" cy="53.90" rx="2.30" ry="2.42" fill="#140806" clip-path="url(#f6e2)"/><path d="M8.83,54.20 Q13.57,49.76 19.37,54.20" stroke="#1e0c06" stroke-width="1.10" fill="none" opacity="0.8"/></g></g><g clip-path="url(#hnc)"><use href="#jaw" stroke="#2a1a10" stroke-width="1.3" opacity="0.32" filter="url(#b06)" transform="translate(0,0.2)"/></g></g>
<g transform="translate(1020.50,145.00) scale(0.985,1)" filter="url(#bf)"><defs><clipPath id="f7e0"><path d="M-19.40,54.20 Q-14.63,49.68 -8.80,54.20 Q-13.57,57.41 -19.40,54.20 Z"/></clipPath><clipPath id="f7e2"><path d="M8.80,54.20 Q13.57,49.68 19.40,54.20 Q14.63,57.41 8.80,54.20 Z"/></clipPath></defs><use href="#neck" fill="#b77657"/><use href="#neck" fill="url(#neckg)"/><g clip-path="url(#nc)"><use href="#jaw" stroke="#2a1008" stroke-width="5" opacity="0.12" filter="url(#b2)"/></g><use href="#earL" fill="#aa6e51"/><use href="#earR" fill="#aa6e51"/><g fill="#d18663" opacity="0.8" filter="url(#b06)"><ellipse cx="-35.2" cy="57.5" rx="1.1" ry="6"/><ellipse cx="35.2" cy="57.5" rx="1.1" ry="6"/></g><use href="#earsh" fill="#3a2010" opacity="0.3" filter="url(#b05)"/><use href="#head" fill="#d58966"/><g clip-path="url(#hc)"><rect x="-33" y="0" width="66" height="42" fill="url(#topg)" opacity="1.00"/><use href="#head" fill="url(#rimg)" opacity="1.00"/><use href="#cran" stroke="#2a2018" stroke-width="12" opacity="0.22" filter="url(#b4)"/><use href="#head" fill="none" stroke="#2a2018" stroke-width="7" opacity="0.30" filter="url(#b2)"/><ellipse cx="0" cy="38" rx="13" ry="9" fill="#e2916c" opacity="0.60" filter="url(#b4)"/><ellipse cx="0" cy="44.5" rx="4.5" ry="3.5" fill="#e09e7e" opacity="0.60" filter="url(#b15)"/><g fill="#ec907e" opacity="0.47" filter="url(#b4)"><ellipse cx="-16" cy="67.0" rx="11" ry="10"/><ellipse cx="16" cy="67.0" rx="11" ry="10"/></g><g fill="#3a1a10" opacity="0.32" filter="url(#b15)"><ellipse cx="-14.10" cy="53.50" rx="7.8" ry="4.4"/><ellipse cx="14.10" cy="53.50" rx="7.8" ry="4.4"/></g><g fill="#301a0e" opacity="0.80" filter="url(#b08)" transform="translate(0,46.90) scale(1,0.83) translate(0,-46.6)"><use href="#browL" transform="rotate(0.00,-15,46.6)"/><use href="#browR" transform="rotate(-0.00,15,46.6)"/></g><path d="M0,49 L0,69" stroke="#e6946e" stroke-width="3.5" opacity="0.35" filter="url(#b1)"/><use href="#nsides" stroke="#4a2010" stroke-width="2.6" opacity="0.30" filter="url(#b1)"/><ellipse cx="0" cy="71.3" rx="4.6" ry="3.6" fill="#e6946e" opacity="0.45" filter="url(#b1)"/><use href="#alae" stroke="#3a140a" stroke-width="1.8" opacity="0.45" filter="url(#b1)"/><use href="#nostril" stroke="#3a140a" stroke-width="1.3" opacity="0.39" filter="url(#b08)"/><use href="#nostrils" fill="#2a0a04" opacity="0.55" filter="url(#b06)"/><g fill="#3a1208" opacity="0.35" filter="url(#b08)"><ellipse cx="-14.10" cy="52.00" rx="6.10" ry="1.4"/><ellipse cx="14.10" cy="52.00" rx="6.10" ry="1.4"/></g><ellipse cx="0" cy="77" rx="5" ry="1.3" fill="#4a2012" opacity="0.15" filter="url(#b08)"/><ellipse cx="0" cy="81.4" rx="12" ry="3" fill="#3a3028" opacity="0.10" filter="url(#b15)"/><path d="M-22,84 Q-16,100 0,104 Q16,100 22,84 Q12,90 0,95 Q-12,90 -22,84Z" fill="#3a3028" opacity="0.06" filter="url(#b3)"/><g transform="translate(0,86.3) scale(1.00,1.05) translate(0,-86.3)"><use href="#lipu" fill="#a04a46" filter="url(#b05)"/><use href="#lipl" fill="#d66868" opacity="0.95" filter="url(#b06)"/><use href="#lipline" stroke="#5a1a14" stroke-width="0.8" opacity="0.60" filter="url(#b04)"/></g><ellipse cx="0" cy="93.2" rx="6" ry="1.2" fill="#4a2012" opacity="0.20" filter="url(#b08)"/><ellipse cx="0" cy="98" rx="8" ry="4.5" fill="#dc8c76" opacity="0.50" filter="url(#b2)"/><g filter="url(#b04)"><path d="M-19.40,54.20 Q-14.63,49.68 -8.80,54.20 Q-13.57,57.41 -19.40,54.20 Z" fill="#bab0ae"/><ellipse cx="-14.10" cy="53.90" rx="2.30" ry="2.42" fill="#140806" clip-path="url(#f7e0)"/><path d="M-19.40,54.20 Q-14.63,49.68 -8.80,54.20" stroke="#1e0c06" stroke-width="1.10" fill="none" opacity="0.8"/></g><g filter="url(#b04)"><path d="M8.80,54.20 Q13.57,49.68 19.40,54.20 Q14.63,57.41 8.80,54.20 Z" fill="#bab0ae"/><ellipse cx="14.10" cy="53.90" rx="2.30" ry="2.42" fill="#140806" clip-path="url(#f7e2)"/><path d="M8.80,54.20 Q13.57,49.68 19.40,54.20" stroke="#1e0c06" stroke-width="1.10" fill="none" opacity="0.8"/></g></g><g clip-path="url(#hnc)"><use href="#jaw" stroke="#2a1a10" stroke-width="1.3" opacity="0.32" filter="url(#b06)" transform="translate(0,0.2)"/></g></g>
<g transform="translate(1159.60,145.00) scale(0.970,1)" filter="url(#bf)"><defs><clipPath id="f8e0"><path d="M-19.50,54.20 Q-14.64,49.44 -8.70,54.20 Q-13.56,57.60 -19.50,54.20 Z"/></clipPath><clipPath id="f8e2"><path d="M8.70,54.20 Q13.56,49.44 19.50,54.20 Q14.64,57.60 8.70,54.20 Z"/></clipPath></defs><use href="#neck" fill="#bf7c5d"/><use href="#neck" fill="url(#neckg)"/><g clip-path="url(#nc)"><use href="#jaw" stroke="#2a1008" stroke-width="5" opacity="0.12" filter="url(#b2)"/></g><use href="#earL" fill="#b27356"/><use href="#earR" fill="#b27356"/><g fill="#da8d6a" opacity="0.8" filter="url(#b06)"><ellipse cx="-35.2" cy="57.5" rx="1.1" ry="6"/><ellipse cx="35.2" cy="57.5" rx="1.1" ry="6"/></g><use href="#earsh" fill="#3a2010" opacity="0.3" filter="url(#b05)"/><use href="#head" fill="#de906c"/><g clip-path="url(#hc)"><rect x="-33" y="0" width="66" height="42" fill="url(#topg)" opacity="1.00"/><use href="#head" fill="url(#rimg)" opacity="1.00"/><use href="#cran" stroke="#2a2018" stroke-width="12" opacity="0.22" filter="url(#b4)"/><use href="#head" fill="none" stroke="#2a2018" stroke-width="7" opacity="0.30" filter="url(#b2)"/><ellipse cx="0" cy="38" rx="13" ry="9" fill="#eb9972" opacity="0.60" filter="url(#b4)"/><ellipse cx="0" cy="44.5" rx="4.5" ry="3.5" fill="#e6a383" opacity="0.60" filter="url(#b15)"/><g fill="#ec907e" opacity="0.45" filter="url(#b4)"><ellipse cx="-16" cy="67.0" rx="11" ry="10"/><ellipse cx="16" cy="67.0" rx="11" ry="10"/></g><g fill="#3a1a10" opacity="0.32" filter="url(#b15)"><ellipse cx="-14.10" cy="53.50" rx="7.8" ry="4.4"/><ellipse cx="14.10" cy="53.50" rx="7.8" ry="4.4"/></g><g fill="#301a0e" opacity="0.85" filter="url(#b08)" transform="translate(0,46.90) scale(1,0.95) translate(0,-46.6)"><use href="#browL" transform="rotate(0.00,-15,46.6)"/><use href="#browR" transform="rotate(-0.00,15,46.6)"/></g><path d="M0,49 L0,69" stroke="#f09c75" stroke-width="3.5" opacity="0.35" filter="url(#b1)"/><use href="#nsides" stroke="#4a2010" stroke-width="2.6" opacity="0.30" filter="url(#b1)"/><ellipse cx="0" cy="71.3" rx="4.6" ry="3.6" fill="#f09c75" opacity="0.45" filter="url(#b1)"/><use href="#alae" stroke="#3a140a" stroke-width="1.8" opacity="0.45" filter="url(#b1)"/><use href="#nostril" stroke="#3a140a" stroke-width="1.3" opacity="0.39" filter="url(#b08)"/><use href="#nostrils" fill="#2a0a04" opacity="0.55" filter="url(#b06)"/><g fill="#3a1208" opacity="0.35" filter="url(#b08)"><ellipse cx="-14.10" cy="52.00" rx="6.21" ry="1.4"/><ellipse cx="14.10" cy="52.00" rx="6.21" ry="1.4"/></g><ellipse cx="0" cy="77" rx="5" ry="1.3" fill="#4a2012" opacity="0.15" filter="url(#b08)"/><ellipse cx="0" cy="81.4" rx="12" ry="3" fill="#3a3028" opacity="0.10" filter="url(#b15)"/><path d="M-22,84 Q-16,100 0,104 Q16,100 22,84 Q12,90 0,95 Q-12,90 -22,84Z" fill="#3a3028" opacity="0.05" filter="url(#b3)"/><g transform="translate(0,86.3) scale(1.00,1.05) translate(0,-86.3)"><use href="#lipu" fill="#a04a46" filter="url(#b05)"/><use href="#lipl" fill="#d66868" opacity="0.95" filter="url(#b06)"/><use href="#lipline" stroke="#5a1a14" stroke-width="0.8" opacity="0.60" filter="url(#b04)"/></g><ellipse cx="0" cy="93.2" rx="6" ry="1.2" fill="#4a2012" opacity="0.20" filter="url(#b08)"/><ellipse cx="0" cy="98" rx="8" ry="4.5" fill="#dc8c76" opacity="0.50" filter="url(#b2)"/><g filter="url(#b04)"><path d="M-19.50,54.20 Q-14.64,49.44 -8.70,54.20 Q-13.56,57.60 -19.50,54.20 Z" fill="#c4bab8"/><ellipse cx="-14.10" cy="53.90" rx="2.30" ry="2.42" fill="#140806" clip-path="url(#f8e0)"/><path d="M-19.50,54.20 Q-14.64,49.44 -8.70,54.20" stroke="#1e0c06" stroke-width="1.10" fill="none" opacity="0.8"/></g><g filter="url(#b04)"><path d="M8.70,54.20 Q13.56,49.44 19.50,54.20 Q14.64,57.60 8.70,54.20 Z" fill="#c4bab8"/><ellipse cx="14.10" cy="53.90" rx="2.30" ry="2.42" fill="#140806" clip-path="url(#f8e2)"/><path d="M8.70,54.20 Q13.56,49.44 19.50,54.20" stroke="#1e0c06" stroke-width="1.10" fill="none" opacity="0.8"/></g></g><g clip-path="url(#hnc)"><use href="#jaw" stroke="#2a1a10" stroke-width="1.3" opacity="0.32" filter="url(#b06)" transform="translate(0,0.2)"/></g></g>
<g transform="translate(44.50,371.00) scale(1.020,1)" filter="url(#bf)"><defs><clipPath id="f9e0"><path d="M-20.80,55.60 Q-16.03,51.60 -10.20,55.60 Q-14.97,58.40 -20.80,55.60 Z"/></clipPath><clipPath id="f9e2"><path d="M10.20,55.60 Q14.97,51.60 20.80,55.60 Q16.03,58.40 10.20,55.60 Z"/></clipPath></defs><use href="#neck" fill="#bf9279"/><use href="#neck" fill="url(#neckg)"/><g clip-path="url(#nc)"><use href="#jaw" stroke="#2a1008" stroke-width="5" opacity="0.12" filter="url(#b2)"/></g><use href="#earL" fill="#aa826b"/><use href="#earR" fill="#aa826b"/><g fill="#d09f83" opacity="0.8" filter="url(#b06)"><ellipse cx="-35.2" cy="57.5" rx="1.1" ry="6"/><ellipse cx="35.2" cy="57.5" rx="1.1" ry="6"/></g><use href="#earsh" fill="#3a2010" opacity="0.3" filter="url(#b05)"/><use href="#head" fill="#d4a286"/><g clip-path="url(#hc)"><rect x="-33" y="0" width="66" height="42" fill="url(#topg)" opacity="1.00"/><use href="#head" fill="url(#rimg)" opacity="1.00"/><use href="#cran" stroke="#2a2018" stroke-width="12" opacity="0.22" filter="url(#b4)"/><use href="#head" fill="none" stroke="#2a2018" stroke-width="7" opacity="0.30" filter="url(#b2)"/><ellipse cx="0" cy="38" rx="13" ry="9" fill="#e1ac8e" opacity="0.60" filter="url(#b4)"/><ellipse cx="0" cy="44.5" rx="4.5" ry="3.5" fill="#dfb096" opacity="0.60" filter="url(#b15)"/><g fill="#dc9696" opacity="0.42" filter="url(#b4)"><ellipse cx="-16" cy="70.0" rx="11" ry="10"/><ellipse cx="16" cy="70.0" rx="11" ry="10"/></g><g fill="#3a1a10" opacity="0.32" filter="url(#b15)"><ellipse cx="-15.50" cy="54.90" rx="7.8" ry="4.4"/><ellipse cx="15.50" cy="54.90" rx="7.8" ry="4.4"/></g><g fill="#3a2214" opacity="0.35" filter="url(#b08)" transform="translate(0,47.20) scale(1,1.00) translate(0,-46.6)"><use href="#fbrowL" transform="rotate(0.00,-15,46.6)"/><use href="#fbrowR" transform="rotate(-0.00,15,46.6)"/></g><path d="M0,49 L0,69" stroke="#e5af91" stroke-width="3.5" opacity="0.35" filter="url(#b1)"/><use href="#nsides" stroke="#4a2010" stroke-width="2.6" opacity="0.40" filter="url(#b1)"/><ellipse cx="0" cy="71.3" rx="4.6" ry="3.6" fill="#e5af91" opacity="0.45" filter="url(#b1)"/><use href="#alae" stroke="#3a140a" stroke-width="1.8" opacity="0.45" filter="url(#b1)"/><use href="#nostril" stroke="#3a140a" stroke-width="1.3" opacity="0.39" filter="url(#b08)"/><use href="#nostrils" fill="#2a0a04" opacity="0.55" filter="url(#b06)"/><g fill="#f4e4dc" opacity="0.35" filter="url(#b15)"><path d="M-24.00,52.20 Q-15.50,38.90 -7.85,51.80 Q-15.50,50.80 -24.00,52.20 Z"/><path d="M24.00,52.20 Q15.50,38.90 7.85,51.80 Q15.50,50.80 24.00,52.20 Z"/></g><g fill="#3a1208" opacity="0.35" filter="url(#b08)"><ellipse cx="-15.50" cy="53.40" rx="6.09" ry="1.4"/><ellipse cx="15.50" cy="53.40" rx="6.09" ry="1.4"/></g><ellipse cx="0" cy="77" rx="5" ry="1.3" fill="#4a2012" opacity="0.15" filter="url(#b08)"/><ellipse cx="0" cy="81.4" rx="12" ry="3" fill="#3a3028" opacity="0.00" filter="url(#b15)"/><path d="M-22,84 Q-16,100 0,104 Q16,100 22,84 Q12,90 0,95 Q-12,90 -22,84Z" fill="#3a3028" opacity="0.00" filter="url(#b3)"/><g transform="translate(0,86.3) scale(1.05,1.25) translate(0,-86.3)"><use href="#lipu" fill="#b45260" filter="url(#b05)"/><use href="#lipl" fill="#e47682" opacity="0.95" filter="url(#b06)"/><use href="#lipline" stroke="#5a1a14" stroke-width="0.8" opacity="0.60" filter="url(#b04)"/></g><ellipse cx="0" cy="93.2" rx="6" ry="1.2" fill="#4a2012" opacity="0.20" filter="url(#b08)"/><ellipse cx="0" cy="98" rx="8" ry="4.5" fill="#e8a08c" opacity="0.50" filter="url(#b2)"/><g filter="url(#b04)"><path d="M-20.80,55.60 Q-16.03,51.60 -10.20,55.60 Q-14.97,58.40 -20.80,55.60 Z" fill="#b4aaa8"/><ellipse cx="-15.50" cy="55.30" rx="2.65" ry="2.78" fill="#140806" clip-path="url(#f9e0)"/><path d="M-20.80,55.60 Q-16.03,51.60 -10.20,55.60" stroke="#1e0c06" stroke-width="1.20" fill="none" opacity="0.8"/></g><g filter="url(#b04)"><path d="M10.20,55.60 Q14.97,51.60 20.80,55.60 Q16.03,58.40 10.20,55.60 Z" fill="#b4aaa8"/><ellipse cx="15.50" cy="55.30" rx="2.65" ry="2.78" fill="#140806" clip-path="url(#f9e2)"/><path d="M10.20,55.60 Q14.97,51.60 20.80,55.60" stroke="#1e0c06" stroke-width="1.20" fill="none" opacity="0.8"/></g></g><g clip-path="url(#hnc)"><use href="#jaw" stroke="#2a1a10" stroke-width="1.3" opacity="0.32" filter="url(#b06)" transform="translate(0,0.2)"/></g></g>
<g transform="translate(183.60,371.00) scale(1.010,1)" filter="url(#bf)"><defs><clipPath id="f10e0"><path d="M-20.70,55.40 Q-15.66,50.83 -9.50,55.40 Q-14.54,58.65 -20.70,55.40 Z"/></clipPath><clipPath id="f10e2"><path d="M9.50,55.40 Q14.54,50.83 20.70,55.40 Q15.66,58.65 9.50,55.40 Z"/></clipPath></defs><use href="#neck" fill="#c28e73"/><use href="#neck" fill="url(#neckg)"/><g clip-path="url(#nc)"><use href="#jaw" stroke="#2a1008" stroke-width="5" opacity="0.12" filter="url(#b2)"/></g><use href="#earL" fill="#ac7e66"/><use href="#earR" fill="#ac7e66"/><g fill="#d39b7d" opacity="0.8" filter="url(#b06)"><ellipse cx="-35.2" cy="57.5" rx="1.1" ry="6"/><ellipse cx="35.2" cy="57.5" rx="1.1" ry="6"/></g><use href="#earsh" fill="#3a2010" opacity="0.3" filter="url(#b05)"/><use href="#head" fill="#d89e80"/><g clip-path="url(#hc)"><rect x="-33" y="0" width="66" height="42" fill="url(#topg)" opacity="1.00"/><use href="#head" fill="url(#rimg)" opacity="1.00"/><use href="#cran" stroke="#2a2018" stroke-width="12" opacity="0.22" filter="url(#b4)"/><use href="#head" fill="none" stroke="#2a2018" stroke-width="7" opacity="0.30" filter="url(#b2)"/><ellipse cx="0" cy="38" rx="13" ry="9" fill="#e4a787" opacity="0.60" filter="url(#b4)"/><ellipse cx="0" cy="44.5" rx="4.5" ry="3.5" fill="#e1ae92" opacity="0.60" filter="url(#b15)"/><g fill="#e49691" opacity="0.42" filter="url(#b4)"><ellipse cx="-16" cy="70.0" rx="11" ry="10"/><ellipse cx="16" cy="70.0" rx="11" ry="10"/></g><g fill="#3a1a10" opacity="0.32" filter="url(#b15)"><ellipse cx="-15.10" cy="54.70" rx="7.8" ry="4.4"/><ellipse cx="15.10" cy="54.70" rx="7.8" ry="4.4"/></g><g fill="#3a2214" opacity="0.55" filter="url(#b08)" transform="translate(0,47.20) scale(1,1.00) translate(0,-46.6)"><use href="#fbrowL" transform="rotate(0.00,-15,46.6)"/><use href="#fbrowR" transform="rotate(-0.00,15,46.6)"/></g><path d="M0,49 L0,69" stroke="#e9ab8a" stroke-width="3.5" opacity="0.35" filter="url(#b1)"/><use href="#nsides" stroke="#4a2010" stroke-width="2.6" opacity="0.35" filter="url(#b1)"/><ellipse cx="0" cy="71.3" rx="4.6" ry="3.6" fill="#e9ab8a" opacity="0.45" filter="url(#b1)"/><use href="#alae" stroke="#3a140a" stroke-width="1.8" opacity="0.45" filter="url(#b1)"/><use href="#nostril" stroke="#3a140a" stroke-width="1.3" opacity="0.39" filter="url(#b08)"/><use href="#nostrils" fill="#2a0a04" opacity="0.55" filter="url(#b06)"/><g fill="#f4e4dc" opacity="0.17" filter="url(#b15)"><path d="M-23.60,52.00 Q-15.10,38.70 -7.45,51.60 Q-15.10,50.60 -23.60,52.00 Z"/><path d="M23.60,52.00 Q15.10,38.70 7.45,51.60 Q15.10,50.60 23.60,52.00 Z"/></g><g fill="#3a1208" opacity="0.35" filter="url(#b08)"><ellipse cx="-15.10" cy="53.20" rx="6.44" ry="1.4"/><ellipse cx="15.10" cy="53.20" rx="6.44" ry="1.4"/></g><ellipse cx="0" cy="77" rx="5" ry="1.3" fill="#4a2012" opacity="0.15" filter="url(#b08)"/><ellipse cx="0" cy="81.4" rx="12" ry="3" fill="#3a3028" opacity="0.00" filter="url(#b15)"/><path d="M-22,84 Q-16,100 0,104 Q16,100 22,84 Q12,90 0,95 Q-12,90 -22,84Z" fill="#3a3028" opacity="0.00" filter="url(#b3)"/><g transform="translate(0,86.3) scale(1.04,1.20) translate(0,-86.3)"><use href="#lipu" fill="#b45260" filter="url(#b05)"/><use href="#lipl" fill="#e47682" opacity="0.95" filter="url(#b06)"/><use href="#lipline" stroke="#5a1a14" stroke-width="0.8" opacity="0.60" filter="url(#b04)"/></g><ellipse cx="0" cy="93.2" rx="6" ry="1.2" fill="#4a2012" opacity="0.20" filter="url(#b08)"/><ellipse cx="0" cy="98" rx="8" ry="4.5" fill="#e8a08c" opacity="0.50" filter="url(#b2)"/><g filter="url(#b04)"><path d="M-20.70,55.40 Q-15.66,50.83 -9.50,55.40 Q-14.54,58.65 -20.70,55.40 Z" fill="#b4aaa8"/><ellipse cx="-15.10" cy="55.10" rx="2.65" ry="2.78" fill="#140806" clip-path="url(#f10e0)"/><path d="M-20.70,55.40 Q-15.66,50.83 -9.50,55.40" stroke="#1e0c06" stroke-width="1.20" fill="none" opacity="0.8"/></g><g filter="url(#b04)"><path d="M9.50,55.40 Q14.54,50.83 20.70,55.40 Q15.66,58.65 9.50,55.40 Z" fill="#b4aaa8"/><ellipse cx="15.10" cy="55.10" rx="2.65" ry="2.78" fill="#140806" clip-path="url(#f10e2)"/><path d="M9.50,55.40 Q14.54,50.83 20.70,55.40" stroke="#1e0c06" stroke-width="1.20" fill="none" opacity="0.8"/></g></g><g clip-path="url(#hnc)"><use href="#jaw" stroke="#2a1a10" stroke-width="1.3" opacity="0.32" filter="url(#b06)" transform="translate(0,0.2)"/></g></g>
<g transform="translate(322.70,371.00) scale(1.007,1)" filter="url(#bf)"><defs><clipPath id="f11e0"><path d="M-20.67,55.33 Q-15.54,50.57 -9.27,55.33 Q-14.40,58.73 -20.67,55.33 Z"/></clipPath><clipPath id="f11e2"><path d="M9.27,55.33 Q14.40,50.57 20.67,55.33 Q15.54,58.73 9.27,55.33 Z"/></clipPath></defs><use href="#neck" fill="#c38d71"/><use href="#neck" fill="url(#neckg)"/><g clip-path="url(#nc)"><use href="#jaw" stroke="#2a1008" stroke-width="5" opacity="0.12" filter="url(#b2)"/></g><use href="#earL" fill="#ad7d64"/><use href="#earR" fill="#ad7d64"/><g fill="#d49a7b" opacity="0.8" filter="url(#b06)"><ellipse cx="-35.2" cy="57.5" rx="1.1" ry="6"/><ellipse cx="35.2" cy="57.5" rx="1.1" ry="6"/></g><use href="#earsh" fill="#3a2010" opacity="0.3" filter="url(#b05)"/><use href="#head" fill="#d99d7d"/><g clip-path="url(#hc)"><rect x="-33" y="0" width="66" height="42" fill="url(#topg)" opacity="1.00"/><use href="#head" fill="url(#rimg)" opacity="1.00"/><use href="#cran" stroke="#2a2018" stroke-width="12" opacity="0.22" filter="url(#b4)"/><use href="#head" fill="none" stroke="#2a2018" stroke-width="7" opacity="0.30" filter="url(#b2)"/><ellipse cx="0" cy="38" rx="13" ry="9" fill="#e6a685" opacity="0.60" filter="url(#b4)"/><ellipse cx="0" cy="44.5" rx="4.5" ry="3.5" fill="#e2ac90" opacity="0.60" filter="url(#b15)"/><g fill="#e7968f" opacity="0.42" filter="url(#b4)"><ellipse cx="-16" cy="70.0" rx="11" ry="10"/><ellipse cx="16" cy="70.0" rx="11" ry="10"/></g><g fill="#3a1a10" opacity="0.32" filter="url(#b15)"><ellipse cx="-14.97" cy="54.63" rx="7.8" ry="4.4"/><ellipse cx="14.97" cy="54.63" rx="7.8" ry="4.4"/></g><g fill="#3a2214" opacity="0.62" filter="url(#b08)" transform="translate(0,47.20) scale(1,1.00) translate(0,-46.6)"><use href="#fbrowL" transform="rotate(0.00,-15,46.6)"/><use href="#fbrowR" transform="rotate(-0.00,15,46.6)"/></g><path d="M0,49 L0,69" stroke="#eaa987" stroke-width="3.5" opacity="0.35" filter="url(#b1)"/><use href="#nsides" stroke="#4a2010" stroke-width="2.6" opacity="0.33" filter="url(#b1)"/><ellipse cx="0" cy="71.3" rx="4.6" ry="3.6" fill="#eaa987" opacity="0.45" filter="url(#b1)"/><use href="#alae" stroke="#3a140a" stroke-width="1.8" opacity="0.45" filter="url(#b1)"/><use href="#nostril" stroke="#3a140a" stroke-width="1.3" opacity="0.39" filter="url(#b08)"/><use href="#nostrils" fill="#2a0a04" opacity="0.55" filter="url(#b06)"/><g fill="#f4e4dc" opacity="0.12" filter="url(#b15)"><path d="M-23.47,51.93 Q-14.97,38.63 -7.32,51.53 Q-14.97,50.53 -23.47,51.93 Z"/><path d="M23.47,51.93 Q14.97,38.63 7.32,51.53 Q14.97,50.53 23.47,51.93 Z"/></g><g fill="#3a1208" opacity="0.35" filter="url(#b08)"><ellipse cx="-14.97" cy="53.13" rx="6.55" ry="1.4"/><ellipse cx="14.97" cy="53.13" rx="6.55" ry="1.4"/></g><ellipse cx="0" cy="77" rx="5" ry="1.3" fill="#4a2012" opacity="0.15" filter="url(#b08)"/><ellipse cx="0" cy="81.4" rx="12" ry="3" fill="#3a3028" opacity="0.00" filter="url(#b15)"/><path d="M-22,84 Q-16,100 0,104 Q16,100 22,84 Q12,90 0,95 Q-12,90 -22,84Z" fill="#3a3028" opacity="0.00" filter="url(#b3)"/><g transform="translate(0,86.3) scale(1.04,1.18) translate(0,-86.3)"><use href="#lipu" fill="#b45260" filter="url(#b05)"/><use href="#lipl" fill="#e47682" opacity="0.95" filter="url(#b06)"/><use href="#lipline" stroke="#5a1a14" stroke-width="0.8" opacity="0.60" filter="url(#b04)"/></g><ellipse cx="0" cy="93.2" rx="6" ry="1.2" fill="#4a2012" opacity="0.20" filter="url(#b08)"/><ellipse cx="0" cy="98" rx="8" ry="4.5" fill="#e8a08c" opacity="0.50" filter="url(#b2)"/><g filter="url(#b04)"><path d="M-20.67,55.33 Q-15.54,50.57 -9.27,55.33 Q-14.40,58.73 -20.67,55.33 Z" fill="#b4aaa8"/><ellipse cx="-14.97" cy="55.03" rx="2.65" ry="2.78" fill="#140806" clip-path="url(#f11e0)"/><path d="M-20.67,55.33 Q-15.54,50.57 -9.27,55.33" stroke="#1e0c06" stroke-width="1.20" fill="none" opacity="0.8"/></g><g filter="url(#b04)"><path d="M9.27,55.33 Q14.40,50.57 20.67,55.33 Q15.54,58.73 9.27,55.33 Z" fill="#b4aaa8"/><ellipse cx="14.97" cy="55.03" rx="2.65" ry="2.78" fill="#140806" clip-path="url(#f11e2)"/><path d="M9.27,55.33 Q14.40,50.57 20.67,55.33" stroke="#1e0c06" stroke-width="1.20" fill="none" opacity="0.8"/></g></g><g clip-path="url(#hnc)"><use href="#jaw" stroke="#2a1a10" stroke-width="1.3" opacity="0.32" filter="url(#b06)" transform="translate(0,0.2)"/></g></g>
<g transform="translate(461.80,371.00) scale(1.003,1)" filter="url(#bf)"><defs><clipPath id="f12e0"><path d="M-20.63,55.27 Q-15.41,50.32 -9.03,55.27 Q-14.25,58.82 -20.63,55.27 Z"/></clipPath><clipPath id="f12e2"><path d="M9.03,55.27 Q14.25,50.32 20.63,55.27 Q15.41,58.82 9.03,55.27 Z"/></clipPath></defs><use href="#neck" fill="#c48c6f"/><use href="#neck" fill="url(#neckg)"/><g clip-path="url(#nc)"><use href="#jaw" stroke="#2a1008" stroke-width="5" opacity="0.12" filter="url(#b2)"/></g><use href="#earL" fill="#ae7c63"/><use href="#earR" fill="#ae7c63"/><g fill="#d59879" opacity="0.8" filter="url(#b06)"><ellipse cx="-35.2" cy="57.5" rx="1.1" ry="6"/><ellipse cx="35.2" cy="57.5" rx="1.1" ry="6"/></g><use href="#earsh" fill="#3a2010" opacity="0.3" filter="url(#b05)"/><use href="#head" fill="#da9b7b"/><g clip-path="url(#hc)"><rect x="-33" y="0" width="66" height="42" fill="url(#topg)" opacity="1.00"/><use href="#head" fill="url(#rimg)" opacity="1.00"/><use href="#cran" stroke="#2a2018" stroke-width="12" opacity="0.22" filter="url(#b4)"/><use href="#head" fill="none" stroke="#2a2018" stroke-width="7" opacity="0.30" filter="url(#b2)"/><ellipse cx="0" cy="38" rx="13" ry="9" fill="#e7a583" opacity="0.60" filter="url(#b4)"/><ellipse cx="0" cy="44.5" rx="4.5" ry="3.5" fill="#e3ac8e" opacity="0.60" filter="url(#b15)"/><g fill="#e9968e" opacity="0.42" filter="url(#b4)"><ellipse cx="-16" cy="70.0" rx="11" ry="10"/><ellipse cx="16" cy="70.0" rx="11" ry="10"/></g><g fill="#3a1a10" opacity="0.32" filter="url(#b15)"><ellipse cx="-14.83" cy="54.57" rx="7.8" ry="4.4"/><ellipse cx="14.83" cy="54.57" rx="7.8" ry="4.4"/></g><g fill="#3a2214" opacity="0.68" filter="url(#b08)" transform="translate(0,47.20) scale(1,1.00) translate(0,-46.6)"><use href="#fbrowL" transform="rotate(0.00,-15,46.6)"/><use href="#fbrowR" transform="rotate(-0.00,15,46.6)"/></g><path d="M0,49 L0,69" stroke="#eba885" stroke-width="3.5" opacity="0.35" filter="url(#b1)"/><use href="#nsides" stroke="#4a2010" stroke-width="2.6" opacity="0.32" filter="url(#b1)"/><ellipse cx="0" cy="71.3" rx="4.6" ry="3.6" fill="#eba885" opacity="0.45" filter="url(#b1)"/><use href="#alae" stroke="#3a140a" stroke-width="1.8" opacity="0.45" filter="url(#b1)"/><use href="#nostril" stroke="#3a140a" stroke-width="1.3" opacity="0.39" filter="url(#b08)"/><use href="#nostrils" fill="#2a0a04" opacity="0.55" filter="url(#b06)"/><g fill="#f4e4dc" opacity="0.06" filter="url(#b15)"><path d="M-23.33,51.87 Q-14.83,38.57 -7.18,51.47 Q-14.83,50.47 -23.33,51.87 Z"/><path d="M23.33,51.87 Q14.83,38.57 7.18,51.47 Q14.83,50.47 23.33,51.87 Z"/></g><g fill="#3a1208" opacity="0.35" filter="url(#b08)"><ellipse cx="-14.83" cy="53.07" rx="6.67" ry="1.4"/><ellipse cx="14.83" cy="53.07" rx="6.67" ry="1.4"/></g><ellipse cx="0" cy="77" rx="5" ry="1.3" fill="#4a2012" opacity="0.15" filter="url(#b08)"/><ellipse cx="0" cy="81.4" rx="12" ry="3" fill="#3a3028" opacity="0.00" filter="url(#b15)"/><path d="M-22,84 Q-16,100 0,104 Q16,100 22,84 Q12,90 0,95 Q-12,90 -22,84Z" fill="#3a3028" opacity="0.00" filter="url(#b3)"/><g transform="translate(0,86.3) scale(1.04,1.17) translate(0,-86.3)"><use href="#lipu" fill="#b45260" filter="url(#b05)"/><use href="#lipl" fill="#e47682" opacity="0.95" filter="url(#b06)"/><use href="#lipline" stroke="#5a1a14" stroke-width="0.8" opacity="0.60" filter="url(#b04)"/></g><ellipse cx="0" cy="93.2" rx="6" ry="1.2" fill="#4a2012" opacity="0.20" filter="url(#b08)"/><ellipse cx="0" cy="98" rx="8" ry="4.5" fill="#e8a08c" opacity="0.50" filter="url(#b2)"/><g filter="url(#b04)"><path d="M-20.63,55.27 Q-15.41,50.32 -9.03,55.27 Q-14.25,58.82 -20.63,55.27 Z" fill="#b4aaa8"/><ellipse cx="-14.83" cy="54.97" rx="2.65" ry="2.78" fill="#140806" clip-path="url(#f12e0)"/><path d="M-20.63,55.27 Q-15.41,50.32 -9.03,55.27" stroke="#1e0c06" stroke-width="1.20" fill="none" opacity="0.8"/></g><g filter="url(#b04)"><path d="M9.03,55.27 Q14.25,50.32 20.63,55.27 Q15.41,58.82 9.03,55.27 Z" fill="#b4aaa8"/><ellipse cx="14.83" cy="54.97" rx="2.65" ry="2.78" fill="#140806" clip-path="url(#f12e2)"/><path d="M9.03,55.27 Q14.25,50.32 20.63,55.27" stroke="#1e0c06" stroke-width="1.20" fill="none" opacity="0.8"/></g></g><g clip-path="url(#hnc)"><use href="#jaw" stroke="#2a1a10" stroke-width="1.3" opacity="0.32" filter="url(#b06)" transform="translate(0,0.2)"/></g></g>
<g transform="translate(600.90,371.00) scale(1.000,1)" filter="url(#bf)"><defs><clipPath id="f13e0"><path d="M-20.60,55.20 Q-15.29,50.06 -8.80,55.20 Q-14.11,58.90 -20.60,55.20 Z"/></clipPath><clipPath id="f13e2"><path d="M8.80,55.20 Q14.11,50.06 20.60,55.20 Q15.29,58.90 8.80,55.20 Z"/></clipPath></defs><use href="#neck" fill="#c58b6d"/><use href="#neck" fill="url(#neckg)"/><g clip-path="url(#nc)"><use href="#jaw" stroke="#2a1008" stroke-width="5" opacity="0.12" filter="url(#b2)"/></g><use href="#earL" fill="#af7b61"/><use href="#earR" fill="#af7b61"/><g fill="#d79777" opacity="0.8" filter="url(#b06)"><ellipse cx="-35.2" cy="57.5" rx="1.1" ry="6"/><ellipse cx="35.2" cy="57.5" rx="1.1" ry="6"/></g><use href="#earsh" fill="#3a2010" opacity="0.3" filter="url(#b05)"/><use href="#head" fill="#db9a79"/><g clip-path="url(#hc)"><rect x="-33" y="0" width="66" height="42" fill="url(#topg)" opacity="1.00"/><use href="#head" fill="url(#rimg)" opacity="1.00"/><use href="#cran" stroke="#2a2018" stroke-width="12" opacity="0.22" filter="url(#b4)"/><use href="#head" fill="none" stroke="#2a2018" stroke-width="7" opacity="0.30" filter="url(#b2)"/><ellipse cx="0" cy="38" rx="13" ry="9" fill="#e8a380" opacity="0.60" filter="url(#b4)"/><ellipse cx="0" cy="44.5" rx="4.5" ry="3.5" fill="#e4aa8d" opacity="0.60" filter="url(#b15)"/><g fill="#ec968c" opacity="0.42" filter="url(#b4)"><ellipse cx="-16" cy="70.0" rx="11" ry="10"/><ellipse cx="16" cy="70.0" rx="11" ry="10"/></g><g fill="#3a1a10" opacity="0.32" filter="url(#b15)"><ellipse cx="-14.70" cy="54.50" rx="7.8" ry="4.4"/><ellipse cx="14.70" cy="54.50" rx="7.8" ry="4.4"/></g><g fill="#3a2214" opacity="0.75" filter="url(#b08)" transform="translate(0,47.20) scale(1,1.00) translate(0,-46.6)"><use href="#fbrowL" transform="rotate(0.00,-15,46.6)"/><use href="#fbrowR" transform="rotate(-0.00,15,46.6)"/></g><path d="M0,49 L0,69" stroke="#eda683" stroke-width="3.5" opacity="0.35" filter="url(#b1)"/><use href="#nsides" stroke="#4a2010" stroke-width="2.6" opacity="0.30" filter="url(#b1)"/><ellipse cx="0" cy="71.3" rx="4.6" ry="3.6" fill="#eda683" opacity="0.45" filter="url(#b1)"/><use href="#alae" stroke="#3a140a" stroke-width="1.8" opacity="0.45" filter="url(#b1)"/><use href="#nostril" stroke="#3a140a" stroke-width="1.3" opacity="0.39" filter="url(#b08)"/><use href="#nostrils" fill="#2a0a04" opacity="0.55" filter="url(#b06)"/><g fill="#3a1208" opacity="0.35" filter="url(#b08)"><ellipse cx="-14.70" cy="53.00" rx="6.79" ry="1.4"/><ellipse cx="14.70" cy="53.00" rx="6.79" ry="1.4"/></g><ellipse cx="0" cy="77" rx="5" ry="1.3" fill="#4a2012" opacity="0.15" filter="url(#b08)"/><ellipse cx="0" cy="81.4" rx="12" ry="3" fill="#3a3028" opacity="0.00" filter="url(#b15)"/><path d="M-22,84 Q-16,100 0,104 Q16,100 22,84 Q12,90 0,95 Q-12,90 -22,84Z" fill="#3a3028" opacity="0.00" filter="url(#b3)"/><g transform="translate(0,86.3) scale(1.04,1.15) translate(0,-86.3)"><use href="#lipu" fill="#b45260" filter="url(#b05)"/><use href="#lipl" fill="#e47682" opacity="0.95" filter="url(#b06)"/><use href="#lipline" stroke="#5a1a14" stroke-width="0.8" opacity="0.60" filter="url(#b04)"/></g><ellipse cx="0" cy="93.2" rx="6" ry="1.2" fill="#4a2012" opacity="0.20" filter="url(#b08)"/><ellipse cx="0" cy="98" rx="8" ry="4.5" fill="#e8a08c" opacity="0.50" filter="url(#b2)"/><g filter="url(#b04)"><path d="M-20.60,55.20 Q-15.29,50.06 -8.80,55.20 Q-14.11,58.90 -20.60,55.20 Z" fill="#b4aaa8"/><ellipse cx="-14.70" cy="54.90" rx="2.65" ry="2.78" fill="#140806" clip-path="url(#f13e0)"/><path d="M-20.60,55.20 Q-15.29,50.06 -8.80,55.20" stroke="#1e0c06" stroke-width="1.20" fill="none" opacity="0.8"/></g><g filter="url(#b04)"><path d="M8.80,55.20 Q14.11,50.06 20.60,55.20 Q15.29,58.90 8.80,55.20 Z" fill="#b4aaa8"/><ellipse cx="14.70" cy="54.90" rx="2.65" ry="2.78" fill="#140806" clip-path="url(#f13e2)"/><path d="M8.80,55.20 Q14.11,50.06 20.60,55.20" stroke="#1e0c06" stroke-width="1.20" fill="none" opacity="0.8"/></g></g><g clip-path="url(#hnc)"><use href="#jaw" stroke="#2a1a10" stroke-width="1.3" opacity="0.32" filter="url(#b06)" transform="translate(0,0.2)"/></g></g>
<g transform="translate(740.00,371.00) scale(0.995,1)" filter="url(#bf)"><defs><clipPath id="f14e0"><path d="M-20.53,55.20 Q-15.28,50.09 -8.87,55.20 Q-14.12,58.88 -20.53,55.20 Z"/></clipPath><clipPath id="f14e2"><path d="M8.87,55.20 Q14.12,50.09 20.53,55.20 Q15.28,58.88 8.87,55.20 Z"/></clipPath></defs><use href="#neck" fill="#c68a6c"/><use href="#neck" fill="url(#neckg)"/><g clip-path="url(#nc)"><use href="#jaw" stroke="#2a1008" stroke-width="5" opacity="0.12" filter="url(#b2)"/></g><use href="#earL" fill="#b07b60"/><use href="#earR" fill="#b07b60"/><g fill="#d79676" opacity="0.8" filter="url(#b06)"><ellipse cx="-35.2" cy="57.5" rx="1.1" ry="6"/><ellipse cx="35.2" cy="57.5" rx="1.1" ry="6"/></g><use href="#earsh" fill="#3a2010" opacity="0.3" filter="url(#b05)"/><use href="#head" fill="#dc9978"/><g clip-path="url(#hc)"><rect x="-33" y="0" width="66" height="42" fill="url(#topg)" opacity="1.00"/><use href="#head" fill="url(#rimg)" opacity="1.00"/><use href="#cran" stroke="#2a2018" stroke-width="12" opacity="0.22" filter="url(#b4)"/><use href="#head" fill="none" stroke="#2a2018" stroke-width="7" opacity="0.30" filter="url(#b2)"/><ellipse cx="0" cy="38" rx="13" ry="9" fill="#e9a37f" opacity="0.60" filter="url(#b4)"/><ellipse cx="0" cy="44.5" rx="4.5" ry="3.5" fill="#e5aa8c" opacity="0.60" filter="url(#b15)"/><g fill="#ec968c" opacity="0.42" filter="url(#b4)"><ellipse cx="-16" cy="70.0" rx="11" ry="10"/><ellipse cx="16" cy="70.0" rx="11" ry="10"/></g><g fill="#3a1a10" opacity="0.32" filter="url(#b15)"><ellipse cx="-14.70" cy="54.50" rx="7.8" ry="4.4"/><ellipse cx="14.70" cy="54.50" rx="7.8" ry="4.4"/></g><g fill="#3a2214" opacity="0.76" filter="url(#b08)" transform="translate(0,47.20) scale(1,0.94) translate(0,-46.6)"><use href="#fbrowL" transform="rotate(0.00,-15,46.6)"/><use href="#fbrowR" transform="rotate(-0.00,15,46.6)"/></g><path d="M0,49 L0,69" stroke="#eda682" stroke-width="3.5" opacity="0.35" filter="url(#b1)"/><use href="#nsides" stroke="#4a2010" stroke-width="2.6" opacity="0.30" filter="url(#b1)"/><ellipse cx="0" cy="71.3" rx="4.6" ry="3.6" fill="#eda682" opacity="0.45" filter="url(#b1)"/><use href="#alae" stroke="#3a140a" stroke-width="1.8" opacity="0.45" filter="url(#b1)"/><use href="#nostril" stroke="#3a140a" stroke-width="1.3" opacity="0.39" filter="url(#b08)"/><use href="#nostrils" fill="#2a0a04" opacity="0.55" filter="url(#b06)"/><g fill="#3a1208" opacity="0.35" filter="url(#b08)"><ellipse cx="-14.70" cy="53.00" rx="6.71" ry="1.4"/><ellipse cx="14.70" cy="53.00" rx="6.71" ry="1.4"/></g><ellipse cx="0" cy="77" rx="5" ry="1.3" fill="#4a2012" opacity="0.15" filter="url(#b08)"/><ellipse cx="0" cy="81.4" rx="12" ry="3" fill="#3a3028" opacity="0.00" filter="url(#b15)"/><path d="M-22,84 Q-16,100 0,104 Q16,100 22,84 Q12,90 0,95 Q-12,90 -22,84Z" fill="#3a3028" opacity="0.00" filter="url(#b3)"/><g transform="translate(0,86.3) scale(1.03,1.12) translate(0,-86.3)"><use href="#lipu" fill="#b45260" filter="url(#b05)"/><use href="#lipl" fill="#e27680" opacity="0.95" filter="url(#b06)"/><use href="#lipline" stroke="#5a1a14" stroke-width="0.8" opacity="0.60" filter="url(#b04)"/></g><ellipse cx="0" cy="93.2" rx="6" ry="1.2" fill="#4a2012" opacity="0.20" filter="url(#b08)"/><ellipse cx="0" cy="98" rx="8" ry="4.5" fill="#e8a08c" opacity="0.50" filter="url(#b2)"/><g filter="url(#b04)"><path d="M-20.53,55.20 Q-15.28,50.09 -8.87,55.20 Q-14.12,58.88 -20.53,55.20 Z" fill="#b7adab"/><ellipse cx="-14.70" cy="54.90" rx="2.65" ry="2.78" fill="#140806" clip-path="url(#f14e0)"/><path d="M-20.53,55.20 Q-15.28,50.09 -8.87,55.20" stroke="#1e0c06" stroke-width="1.20" fill="none" opacity="0.8"/></g><g filter="url(#b04)"><path d="M8.87,55.20 Q14.12,50.09 20.53,55.20 Q15.28,58.88 8.87,55.20 Z" fill="#b7adab"/><ellipse cx="14.70" cy="54.90" rx="2.65" ry="2.78" fill="#140806" clip-path="url(#f14e2)"/><path d="M8.87,55.20 Q14.12,50.09 20.53,55.20" stroke="#1e0c06" stroke-width="1.20" fill="none" opacity="0.8"/></g></g><g clip-path="url(#hnc)"><use href="#jaw" stroke="#2a1a10" stroke-width="1.3" opacity="0.32" filter="url(#b06)" transform="translate(0,0.2)"/></g></g>
<g transform="translate(879.10,371.00) scale(0.990,1)" filter="url(#bf)"><defs><clipPath id="f15e0"><path d="M-20.47,55.20 Q-15.28,50.12 -8.93,55.20 Q-14.12,58.85 -20.47,55.20 Z"/></clipPath><clipPath id="f15e2"><path d="M8.93,55.20 Q14.12,50.12 20.47,55.20 Q15.28,58.85 8.93,55.20 Z"/></clipPath></defs><use href="#neck" fill="#c7896b"/><use href="#neck" fill="url(#neckg)"/><g clip-path="url(#nc)"><use href="#jaw" stroke="#2a1008" stroke-width="5" opacity="0.12" filter="url(#b2)"/></g><use href="#earL" fill="#b17a5f"/><use href="#earR" fill="#b17a5f"/><g fill="#d89675" opacity="0.8" filter="url(#b06)"><ellipse cx="-35.2" cy="57.5" rx="1.1" ry="6"/><ellipse cx="35.2" cy="57.5" rx="1.1" ry="6"/></g><use href="#earsh" fill="#3a2010" opacity="0.3" filter="url(#b05)"/><use href="#head" fill="#dd9977"/><g clip-path="url(#hc)"><rect x="-33" y="0" width="66" height="42" fill="url(#topg)" opacity="1.00"/><use href="#head" fill="url(#rimg)" opacity="1.00"/><use href="#cran" stroke="#2a2018" stroke-width="12" opacity="0.22" filter="url(#b4)"/><use href="#head" fill="none" stroke="#2a2018" stroke-width="7" opacity="0.30" filter="url(#b2)"/><ellipse cx="0" cy="38" rx="13" ry="9" fill="#eaa27e" opacity="0.60" filter="url(#b4)"/><ellipse cx="0" cy="44.5" rx="4.5" ry="3.5" fill="#e5aa8c" opacity="0.60" filter="url(#b15)"/><g fill="#ec968c" opacity="0.42" filter="url(#b4)"><ellipse cx="-16" cy="70.0" rx="11" ry="10"/><ellipse cx="16" cy="70.0" rx="11" ry="10"/></g><g fill="#3a1a10" opacity="0.32" filter="url(#b15)"><ellipse cx="-14.70" cy="54.50" rx="7.8" ry="4.4"/><ellipse cx="14.70" cy="54.50" rx="7.8" ry="4.4"/></g><g fill="#3a2214" opacity="0.77" filter="url(#b08)" transform="translate(0,47.20) scale(1,0.88) translate(0,-46.6)"><use href="#fbrowL" transform="rotate(0.00,-15,46.6)"/><use href="#fbrowR" transform="rotate(-0.00,15,46.6)"/></g><path d="M0,49 L0,69" stroke="#eea581" stroke-width="3.5" opacity="0.35" filter="url(#b1)"/><use href="#nsides" stroke="#4a2010" stroke-width="2.6" opacity="0.30" filter="url(#b1)"/><ellipse cx="0" cy="71.3" rx="4.6" ry="3.6" fill="#eea581" opacity="0.45" filter="url(#b1)"/><use href="#alae" stroke="#3a140a" stroke-width="1.8" opacity="0.45" filter="url(#b1)"/><use href="#nostril" stroke="#3a140a" stroke-width="1.3" opacity="0.39" filter="url(#b08)"/><use href="#nostrils" fill="#2a0a04" opacity="0.55" filter="url(#b06)"/><g fill="#3a1208" opacity="0.35" filter="url(#b08)"><ellipse cx="-14.70" cy="53.00" rx="6.63" ry="1.4"/><ellipse cx="14.70" cy="53.00" rx="6.63" ry="1.4"/></g><ellipse cx="0" cy="77" rx="5" ry="1.3" fill="#4a2012" opacity="0.15" filter="url(#b08)"/><ellipse cx="0" cy="81.4" rx="12" ry="3" fill="#3a3028" opacity="0.00" filter="url(#b15)"/><path d="M-22,84 Q-16,100 0,104 Q16,100 22,84 Q12,90 0,95 Q-12,90 -22,84Z" fill="#3a3028" opacity="0.00" filter="url(#b3)"/><g transform="translate(0,86.3) scale(1.03,1.10) translate(0,-86.3)"><use href="#lipu" fill="#b45260" filter="url(#b05)"/><use href="#lipl" fill="#e0757f" opacity="0.95" filter="url(#b06)"/><use href="#lipline" stroke="#5a1a14" stroke-width="0.8" opacity="0.60" filter="url(#b04)"/></g><ellipse cx="0" cy="93.2" rx="6" ry="1.2" fill="#4a2012" opacity="0.20" filter="url(#b08)"/><ellipse cx="0" cy="98" rx="8" ry="4.5" fill="#e8a08c" opacity="0.50" filter="url(#b2)"/><g filter="url(#b04)"><path d="M-20.47,55.20 Q-15.28,50.12 -8.93,55.20 Q-14.12,58.85 -20.47,55.20 Z" fill="#b9afad"/><ellipse cx="-14.70" cy="54.90" rx="2.65" ry="2.78" fill="#140806" clip-path="url(#f15e0)"/><path d="M-20.47,55.20 Q-15.28,50.12 -8.93,55.20" stroke="#1e0c06" stroke-width="1.20" fill="none" opacity="0.8"/></g><g filter="url(#b04)"><path d="M8.93,55.20 Q14.12,50.12 20.47,55.20 Q15.28,58.85 8.93,55.20 Z" fill="#b9afad"/><ellipse cx="14.70" cy="54.90" rx="2.65" ry="2.78" fill="#140806" clip-path="url(#f15e2)"/><path d="M8.93,55.20 Q14.12,50.12 20.47,55.20" stroke="#1e0c06" stroke-width="1.20" fill="none" opacity="0.8"/></g></g><g clip-path="url(#hnc)"><use href="#jaw" stroke="#2a1a10" stroke-width="1.3" opacity="0.32" filter="url(#b06)" transform="translate(0,0.2)"/></g></g>
<g transform="translate(1018.20,371.00) scale(0.985,1)" filter="url(#bf)"><defs><clipPath id="f16e0"><path d="M-20.40,55.20 Q-15.27,50.16 -9.00,55.20 Q-14.13,58.83 -20.40,55.20 Z"/></clipPath><clipPath id="f16e2"><path d="M9.00,55.20 Q14.13,50.16 20.40,55.20 Q15.27,58.83 9.00,55.20 Z"/></clipPath></defs><use href="#neck" fill="#c7896b"/><use href="#neck" fill="url(#neckg)"/><g clip-path="url(#nc)"><use href="#jaw" stroke="#2a1008" stroke-width="5" opacity="0.12" filter="url(#b2)"/></g><use href="#earL" fill="#b17a5f"/><use href="#earR" fill="#b17a5f"/><g fill="#d99574" opacity="0.8" filter="url(#b06)"><ellipse cx="-35.2" cy="57.5" rx="1.1" ry="6"/><ellipse cx="35.2" cy="57.5" rx="1.1" ry="6"/></g><use href="#earsh" fill="#3a2010" opacity="0.3" filter="url(#b05)"/><use href="#head" fill="#de9876"/><g clip-path="url(#hc)"><rect x="-33" y="0" width="66" height="42" fill="url(#topg)" opacity="1.00"/><use href="#head" fill="url(#rimg)" opacity="1.00"/><use href="#cran" stroke="#2a2018" stroke-width="12" opacity="0.22" filter="url(#b4)"/><use href="#head" fill="none" stroke="#2a2018" stroke-width="7" opacity="0.30" filter="url(#b2)"/><ellipse cx="0" cy="38" rx="13" ry="9" fill="#eba17e" opacity="0.60" filter="url(#b4)"/><ellipse cx="0" cy="44.5" rx="4.5" ry="3.5" fill="#e6a98b" opacity="0.60" filter="url(#b15)"/><g fill="#ec968c" opacity="0.42" filter="url(#b4)"><ellipse cx="-16" cy="70.0" rx="11" ry="10"/><ellipse cx="16" cy="70.0" rx="11" ry="10"/></g><g fill="#3a1a10" opacity="0.32" filter="url(#b15)"><ellipse cx="-14.70" cy="54.50" rx="7.8" ry="4.4"/><ellipse cx="14.70" cy="54.50" rx="7.8" ry="4.4"/></g><g fill="#3a2014" opacity="0.78" filter="url(#b08)" transform="translate(0,47.20) scale(1,0.82) translate(0,-46.6)"><use href="#browL" transform="rotate(0.00,-15,46.6)"/><use href="#browR" transform="rotate(-0.00,15,46.6)"/></g><path d="M0,49 L0,69" stroke="#efa480" stroke-width="3.5" opacity="0.35" filter="url(#b1)"/><use href="#nsides" stroke="#4a2010" stroke-width="2.6" opacity="0.30" filter="url(#b1)"/><ellipse cx="0" cy="71.3" rx="4.6" ry="3.6" fill="#efa480" opacity="0.45" filter="url(#b1)"/><use href="#alae" stroke="#3a140a" stroke-width="1.8" opacity="0.45" filter="url(#b1)"/><use href="#nostril" stroke="#3a140a" stroke-width="1.3" opacity="0.39" filter="url(#b08)"/><use href="#nostrils" fill="#2a0a04" opacity="0.55" filter="url(#b06)"/><g fill="#3a1208" opacity="0.35" filter="url(#b08)"><ellipse cx="-14.70" cy="53.00" rx="6.55" ry="1.4"/><ellipse cx="14.70" cy="53.00" rx="6.55" ry="1.4"/></g><ellipse cx="0" cy="77" rx="5" ry="1.3" fill="#4a2012" opacity="0.15" filter="url(#b08)"/><ellipse cx="0" cy="81.4" rx="12" ry="3" fill="#3a3028" opacity="0.00" filter="url(#b15)"/><path d="M-22,84 Q-16,100 0,104 Q16,100 22,84 Q12,90 0,95 Q-12,90 -22,84Z" fill="#3a3028" opacity="0.00" filter="url(#b3)"/><g transform="translate(0,86.3) scale(1.02,1.07) translate(0,-86.3)"><use href="#lipu" fill="#b45260" filter="url(#b05)"/><use href="#lipl" fill="#de757d" opacity="0.95" filter="url(#b06)"/><use href="#lipline" stroke="#5a1a14" stroke-width="0.8" opacity="0.60" filter="url(#b04)"/></g><ellipse cx="0" cy="93.2" rx="6" ry="1.2" fill="#4a2012" opacity="0.20" filter="url(#b08)"/><ellipse cx="0" cy="98" rx="8" ry="4.5" fill="#e8a08c" opacity="0.50" filter="url(#b2)"/><g filter="url(#b04)"><path d="M-20.40,55.20 Q-15.27,50.16 -9.00,55.20 Q-14.13,58.83 -20.40,55.20 Z" fill="#bcb2b0"/><ellipse cx="-14.70" cy="54.90" rx="2.65" ry="2.78" fill="#140806" clip-path="url(#f16e0)"/><path d="M-20.40,55.20 Q-15.27,50.16 -9.00,55.20" stroke="#1e0c06" stroke-width="1.20" fill="none" opacity="0.8"/></g><g filter="url(#b04)"><path d="M9.00,55.20 Q14.13,50.16 20.40,55.20 Q15.27,58.83 9.00,55.20 Z" fill="#bcb2b0"/><ellipse cx="14.70" cy="54.90" rx="2.65" ry="2.78" fill="#140806" clip-path="url(#f16e2)"/><path d="M9.00,55.20 Q14.13,50.16 20.40,55.20" stroke="#1e0c06" stroke-width="1.20" fill="none" opacity="0.8"/></g></g><g clip-path="url(#hnc)"><use href="#jaw" stroke="#2a1a10" stroke-width="1.3" opacity="0.32" filter="url(#b06)" transform="translate(0,0.2)"/></g></g>
<g transform="translate(1157.30,371.00) scale(0.970,1)" filter="url(#bf)"><defs><clipPath id="f17e0"><path d="M-20.20,55.20 Q-15.25,50.25 -9.20,55.20 Q-14.15,58.75 -20.20,55.20 Z"/></clipPath><clipPath id="f17e2"><path d="M9.20,55.20 Q14.15,50.25 20.20,55.20 Q15.25,58.75 9.20,55.20 Z"/></clipPath></defs><use href="#neck" fill="#ca8768"/><use href="#neck" fill="url(#neckg)"/><g clip-path="url(#nc)"><use href="#jaw" stroke="#2a1008" stroke-width="5" opacity="0.12" filter="url(#b2)"/></g><use href="#earL" fill="#b3785d"/><use href="#earR" fill="#b3785d"/><g fill="#dc9372" opacity="0.8" filter="url(#b06)"><ellipse cx="-35.2" cy="57.5" rx="1.1" ry="6"/><ellipse cx="35.2" cy="57.5" rx="1.1" ry="6"/></g><use href="#earsh" fill="#3a2010" opacity="0.3" filter="url(#b05)"/><use href="#head" fill="#e09674"/><g clip-path="url(#hc)"><rect x="-33" y="0" width="66" height="42" fill="url(#topg)" opacity="1.00"/><use href="#head" fill="url(#rimg)" opacity="1.00"/><use href="#cran" stroke="#2a2018" stroke-width="12" opacity="0.22" filter="url(#b4)"/><use href="#head" fill="none" stroke="#2a2018" stroke-width="7" opacity="0.30" filter="url(#b2)"/><ellipse cx="0" cy="38" rx="13" ry="9" fill="#ed9f7b" opacity="0.60" filter="url(#b4)"/><ellipse cx="0" cy="44.5" rx="4.5" ry="3.5" fill="#e8a889" opacity="0.60" filter="url(#b15)"/><g fill="#ec968c" opacity="0.42" filter="url(#b4)"><ellipse cx="-16" cy="70.0" rx="11" ry="10"/><ellipse cx="16" cy="70.0" rx="11" ry="10"/></g><g fill="#3a1a10" opacity="0.32" filter="url(#b15)"><ellipse cx="-14.70" cy="54.50" rx="7.8" ry="4.4"/><ellipse cx="14.70" cy="54.50" rx="7.8" ry="4.4"/></g><g fill="#3a2014" opacity="0.80" filter="url(#b08)" transform="translate(0,47.20) scale(1,0.65) translate(0,-46.6)"><use href="#browL" transform="rotate(0.00,-15,46.6)"/><use href="#browR" transform="rotate(-0.00,15,46.6)"/></g><path d="M0,49 L0,69" stroke="#f2a27d" stroke-width="3.5" opacity="0.35" filter="url(#b1)"/><use href="#nsides" stroke="#4a2010" stroke-width="2.6" opacity="0.30" filter="url(#b1)"/><ellipse cx="0" cy="71.3" rx="4.6" ry="3.6" fill="#f2a27d" opacity="0.45" filter="url(#b1)"/><use href="#alae" stroke="#3a140a" stroke-width="1.8" opacity="0.45" filter="url(#b1)"/><use href="#nostril" stroke="#3a140a" stroke-width="1.3" opacity="0.39" filter="url(#b08)"/><use href="#nostrils" fill="#2a0a04" opacity="0.55" filter="url(#b06)"/><g fill="#3a1208" opacity="0.35" filter="url(#b08)"><ellipse cx="-14.70" cy="53.00" rx="6.32" ry="1.4"/><ellipse cx="14.70" cy="53.00" rx="6.32" ry="1.4"/></g><ellipse cx="0" cy="77" rx="5" ry="1.3" fill="#4a2012" opacity="0.15" filter="url(#b08)"/><ellipse cx="0" cy="81.4" rx="12" ry="3" fill="#3a3028" opacity="0.00" filter="url(#b15)"/><path d="M-22,84 Q-16,100 0,104 Q16,100 22,84 Q12,90 0,95 Q-12,90 -22,84Z" fill="#3a3028" opacity="0.00" filter="url(#b3)"/><g transform="translate(0,86.3) scale(1.00,1.00) translate(0,-86.3)"><use href="#lipu" fill="#b45260" filter="url(#b05)"/><use href="#lipl" fill="#d87478" opacity="0.95" filter="url(#b06)"/><use href="#lipline" stroke="#5a1a14" stroke-width="0.8" opacity="0.60" filter="url(#b04)"/></g><ellipse cx="0" cy="93.2" rx="6" ry="1.2" fill="#4a2012" opacity="0.20" filter="url(#b08)"/><ellipse cx="0" cy="98" rx="8" ry="4.5" fill="#e8a08c" opacity="0.50" filter="url(#b2)"/><g filter="url(#b04)"><path d="M-20.20,55.20 Q-15.25,50.25 -9.20,55.20 Q-14.15,58.75 -20.20,55.20 Z" fill="#c4bab8"/><ellipse cx="-14.70" cy="54.90" rx="2.65" ry="2.78" fill="#140806" clip-path="url(#f17e0)"/><path d="M-20.20,55.20 Q-15.25,50.25 -9.20,55.20" stroke="#1e0c06" stroke-width="1.20" fill="none" opacity="0.8"/></g><g filter="url(#b04)"><path d="M9.20,55.20 Q14.15,50.25 20.20,55.20 Q15.25,58.75 9.20,55.20 Z" fill="#c4bab8"/><ellipse cx="14.70" cy="54.90" rx="2.65" ry="2.78" fill="#140806" clip-path="url(#f17e2)"/><path d="M9.20,55.20 Q14.15,50.25 20.20,55.20" stroke="#1e0c06" stroke-width="1.20" fill="none" opacity="0.8"/></g></g><g clip-path="url(#hnc)"><use href="#jaw" stroke="#2a1a10" stroke-width="1.3" opacity="0.32" filter="url(#b06)" transform="translate(0,0.2)"/></g></g>
<g transform="translate(46.40,705.00) scale(1.000,1)" filter="url(#bf)"><defs><clipPath id="f18e0"><path d="M-20.50,55.10 Q-15.55,50.15 -9.50,55.10 Q-14.45,58.65 -20.50,55.10 Z"/></clipPath><clipPath id="f18e2"><path d="M9.50,55.10 Q14.45,50.15 20.50,55.10 Q15.55,58.65 9.50,55.10 Z"/></clipPath></defs><use href="#neck" fill="#b58873"/><use href="#neck" fill="url(#neckg)"/><g clip-path="url(#nc)"><use href="#jaw" stroke="#2a1008" stroke-width="5" opacity="0.12" filter="url(#b2)"/></g><use href="#earL" fill="#a87e6b"/><use href="#earR" fill="#a87e6b"/><g fill="#ce9b83" opacity="0.8" filter="url(#b06)"><ellipse cx="-35.2" cy="57.5" rx="1.1" ry="6"/><ellipse cx="35.2" cy="57.5" rx="1.1" ry="6"/></g><use href="#earsh" fill="#3a2010" opacity="0.3" filter="url(#b05)"/><use href="#head" fill="#d29e86"/><g clip-path="url(#hc)"><rect x="-33" y="0" width="66" height="42" fill="url(#topg)" opacity="1.00"/><use href="#head" fill="url(#rimg)" opacity="1.00"/><use href="#cran" stroke="#2a2018" stroke-width="12" opacity="0.22" filter="url(#b4)"/><use href="#head" fill="none" stroke="#2a2018" stroke-width="7" opacity="0.30" filter="url(#b2)"/><ellipse cx="0" cy="38" rx="13" ry="9" fill="#dfa78e" opacity="0.60" filter="url(#b4)"/><ellipse cx="0" cy="44.5" rx="4.5" ry="3.5" fill="#ddae96" opacity="0.60" filter="url(#b15)"/><g fill="#de9696" opacity="0.60" filter="url(#b4)"><ellipse cx="-16" cy="67.0" rx="11" ry="10"/><ellipse cx="16" cy="67.0" rx="11" ry="10"/></g><g fill="#3a1a10" opacity="0.32" filter="url(#b15)"><ellipse cx="-15.00" cy="54.40" rx="7.8" ry="4.4"/><ellipse cx="15.00" cy="54.40" rx="7.8" ry="4.4"/></g><g fill="#5a3a2a" opacity="0.25" filter="url(#b08)" transform="translate(0,47.10) scale(1,0.60) translate(0,-46.6)"><use href="#browL" transform="rotate(0.00,-15,46.6)"/><use href="#browR" transform="rotate(-0.00,15,46.6)"/></g><path d="M0,49 L0,69" stroke="#e3ab91" stroke-width="3.5" opacity="0.35" filter="url(#b1)"/><use href="#nsides" stroke="#4a2010" stroke-width="2.6" opacity="0.45" filter="url(#b1)"/><ellipse cx="0" cy="71.3" rx="4.6" ry="3.6" fill="#e3ab91" opacity="0.45" filter="url(#b1)"/><use href="#alae" stroke="#3a140a" stroke-width="1.8" opacity="0.45" filter="url(#b1)"/><use href="#nostril" stroke="#3a140a" stroke-width="1.3" opacity="0.39" filter="url(#b08)"/><use href="#nostrils" fill="#2a0a04" opacity="0.55" filter="url(#b06)"/><g fill="#f4e4dc" opacity="0.50" filter="url(#b15)"><path d="M-23.50,51.70 Q-15.00,38.40 -7.35,51.30 Q-15.00,50.30 -23.50,51.70 Z"/><path d="M23.50,51.70 Q15.00,38.40 7.35,51.30 Q15.00,50.30 23.50,51.70 Z"/></g><g fill="#3a1208" opacity="0.35" filter="url(#b08)"><ellipse cx="-15.00" cy="52.90" rx="6.32" ry="1.4"/><ellipse cx="15.00" cy="52.90" rx="6.32" ry="1.4"/></g><ellipse cx="0" cy="77" rx="5" ry="1.3" fill="#4a2012" opacity="0.15" filter="url(#b08)"/><ellipse cx="0" cy="81.4" rx="12" ry="3" fill="#3a3028" opacity="0.00" filter="url(#b15)"/><path d="M-22,84 Q-16,100 0,104 Q16,100 22,84 Q12,90 0,95 Q-12,90 -22,84Z" fill="#3a3028" opacity="0.00" filter="url(#b3)"/><g transform="translate(0,86.3) scale(1.05,1.25) translate(0,-86.3)"><use href="#lipu" fill="#b05460" filter="url(#b05)"/><use href="#lipl" fill="#e47a88" opacity="0.90" filter="url(#b06)"/><use href="#lipline" stroke="#5a1a14" stroke-width="0.8" opacity="0.60" filter="url(#b04)"/></g><ellipse cx="0" cy="93.2" rx="6" ry="1.2" fill="#4a2012" opacity="0.20" filter="url(#b08)"/><ellipse cx="0" cy="98" rx="8" ry="4.5" fill="#e8aa96" opacity="0.50" filter="url(#b2)"/><g filter="url(#b04)"><path d="M-20.50,55.10 Q-15.55,50.15 -9.50,55.10 Q-14.45,58.65 -20.50,55.10 Z" fill="#beb4b2"/><ellipse cx="-15.00" cy="54.80" rx="2.40" ry="2.52" fill="#140806" clip-path="url(#f18e0)"/><path d="M-20.50,55.10 Q-15.55,50.15 -9.50,55.10" stroke="#1e0c06" stroke-width="1.10" fill="none" opacity="0.8"/></g><g filter="url(#b04)"><path d="M9.50,55.10 Q14.45,50.15 20.50,55.10 Q15.55,58.65 9.50,55.10 Z" fill="#beb4b2"/><ellipse cx="15.00" cy="54.80" rx="2.40" ry="2.52" fill="#140806" clip-path="url(#f18e2)"/><path d="M9.50,55.10 Q14.45,50.15 20.50,55.10" stroke="#1e0c06" stroke-width="1.10" fill="none" opacity="0.8"/></g></g><g clip-path="url(#hnc)"><use href="#jaw" stroke="#2a1a10" stroke-width="1.3" opacity="0.32" filter="url(#b06)" transform="translate(0,0.2)"/></g></g>
<g transform="translate(185.50,705.00) scale(1.000,1)" filter="url(#bf)"><defs><clipPath id="f19e0"><path d="M-20.20,55.10 Q-15.52,50.72 -9.80,55.10 Q-14.48,58.20 -20.20,55.10 Z"/></clipPath><clipPath id="f19e2"><path d="M9.80,55.10 Q14.48,50.72 20.20,55.10 Q15.52,58.20 9.80,55.10 Z"/></clipPath></defs><use href="#neck" fill="#b37a62"/><use href="#neck" fill="url(#neckg)"/><g clip-path="url(#nc)"><use href="#jaw" stroke="#2a1008" stroke-width="5" opacity="0.12" filter="url(#b2)"/></g><use href="#earL" fill="#a6725b"/><use href="#earR" fill="#a6725b"/><g fill="#cc8b70" opacity="0.8" filter="url(#b06)"><ellipse cx="-35.2" cy="57.5" rx="1.1" ry="6"/><ellipse cx="35.2" cy="57.5" rx="1.1" ry="6"/></g><use href="#earsh" fill="#3a2010" opacity="0.3" filter="url(#b05)"/><use href="#head" fill="#d08e72"/><g clip-path="url(#hc)"><rect x="-33" y="0" width="66" height="42" fill="url(#topg)" opacity="1.00"/><use href="#head" fill="url(#rimg)" opacity="1.00"/><use href="#cran" stroke="#2a2018" stroke-width="12" opacity="0.22" filter="url(#b4)"/><use href="#head" fill="none" stroke="#2a2018" stroke-width="7" opacity="0.30" filter="url(#b2)"/><ellipse cx="0" cy="38" rx="13" ry="9" fill="#dc9779" opacity="0.60" filter="url(#b4)"/><ellipse cx="0" cy="44.5" rx="4.5" ry="3.5" fill="#dca288" opacity="0.60" filter="url(#b15)"/><g fill="#ec907e" opacity="0.50" filter="url(#b4)"><ellipse cx="-16" cy="67.0" rx="11" ry="10"/><ellipse cx="16" cy="67.0" rx="11" ry="10"/></g><g fill="#3a1a10" opacity="0.32" filter="url(#b15)"><ellipse cx="-15.00" cy="54.40" rx="7.8" ry="4.4"/><ellipse cx="15.00" cy="54.40" rx="7.8" ry="4.4"/></g><g fill="#5a3a2a" opacity="0.55" filter="url(#b08)" transform="translate(0,46.90) scale(1,0.72) translate(0,-46.6)"><use href="#browL" transform="rotate(0.00,-15,46.6)"/><use href="#browR" transform="rotate(-0.00,15,46.6)"/></g><path d="M0,49 L0,69" stroke="#e1997b" stroke-width="3.5" opacity="0.35" filter="url(#b1)"/><use href="#nsides" stroke="#4a2010" stroke-width="2.6" opacity="0.30" filter="url(#b1)"/><ellipse cx="0" cy="71.3" rx="4.6" ry="3.6" fill="#e1997b" opacity="0.45" filter="url(#b1)"/><use href="#alae" stroke="#3a140a" stroke-width="1.8" opacity="0.45" filter="url(#b1)"/><use href="#nostril" stroke="#3a140a" stroke-width="1.3" opacity="0.39" filter="url(#b08)"/><use href="#nostrils" fill="#2a0a04" opacity="0.55" filter="url(#b06)"/><g fill="#3a1208" opacity="0.35" filter="url(#b08)"><ellipse cx="-15.00" cy="52.90" rx="5.98" ry="1.4"/><ellipse cx="15.00" cy="52.90" rx="5.98" ry="1.4"/></g><ellipse cx="0" cy="77" rx="5" ry="1.3" fill="#4a2012" opacity="0.15" filter="url(#b08)"/><ellipse cx="0" cy="81.4" rx="12" ry="3" fill="#3a3028" opacity="0.03" filter="url(#b15)"/><path d="M-22,84 Q-16,100 0,104 Q16,100 22,84 Q12,90 0,95 Q-12,90 -22,84Z" fill="#3a3028" opacity="0.02" filter="url(#b3)"/><g transform="translate(0,86.3) scale(1.02,1.10) translate(0,-86.3)"><use href="#lipu" fill="#a04a46" filter="url(#b05)"/><use href="#lipl" fill="#dc7076" opacity="0.90" filter="url(#b06)"/><use href="#lipline" stroke="#5a1a14" stroke-width="0.8" opacity="0.60" filter="url(#b04)"/></g><ellipse cx="0" cy="93.2" rx="6" ry="1.2" fill="#4a2012" opacity="0.20" filter="url(#b08)"/><ellipse cx="0" cy="98" rx="8" ry="4.5" fill="#e8aa96" opacity="0.50" filter="url(#b2)"/><g filter="url(#b04)"><path d="M-20.20,55.10 Q-15.52,50.72 -9.80,55.10 Q-14.48,58.20 -20.20,55.10 Z" fill="#b0a6a4"/><ellipse cx="-15.00" cy="54.80" rx="2.30" ry="2.42" fill="#140806" clip-path="url(#f19e0)"/><path d="M-20.20,55.10 Q-15.52,50.72 -9.80,55.10" stroke="#1e0c06" stroke-width="1.10" fill="none" opacity="0.8"/></g><g filter="url(#b04)"><path d="M9.80,55.10 Q14.48,50.72 20.20,55.10 Q15.52,58.20 9.80,55.10 Z" fill="#b0a6a4"/><ellipse cx="15.00" cy="54.80" rx="2.30" ry="2.42" fill="#140806" clip-path="url(#f19e2)"/><path d="M9.80,55.10 Q14.48,50.72 20.20,55.10" stroke="#1e0c06" stroke-width="1.10" fill="none" opacity="0.8"/></g></g><g clip-path="url(#hnc)"><use href="#jaw" stroke="#2a1a10" stroke-width="1.3" opacity="0.32" filter="url(#b06)" transform="translate(0,0.2)"/></g></g>
<g transform="translate(324.60,705.00) scale(1.000,1)" filter="url(#bf)"><defs><clipPath id="f20e0"><path d="M-19.30,54.20 Q-14.62,49.85 -8.90,54.20 Q-13.58,57.27 -19.30,54.20 Z"/></clipPath><clipPath id="f20e2"><path d="M8.90,54.20 Q13.58,49.85 19.30,54.20 Q14.62,57.27 8.90,54.20 Z"/></clipPath></defs><use href="#neck" fill="#b2775d"/><use href="#neck" fill="url(#neckg)"/><g clip-path="url(#nc)"><use href="#jaw" stroke="#2a1008" stroke-width="5" opacity="0.12" filter="url(#b2)"/></g><use href="#earL" fill="#a56e56"/><use href="#earR" fill="#a56e56"/><g fill="#cb876a" opacity="0.8" filter="url(#b06)"><ellipse cx="-35.2" cy="57.5" rx="1.1" ry="6"/><ellipse cx="35.2" cy="57.5" rx="1.1" ry="6"/></g><use href="#earsh" fill="#3a2010" opacity="0.3" filter="url(#b05)"/><use href="#head" fill="#cf8a6c"/><g clip-path="url(#hc)"><rect x="-33" y="0" width="66" height="42" fill="url(#topg)" opacity="1.00"/><use href="#head" fill="url(#rimg)" opacity="1.00"/><use href="#cran" stroke="#2a2018" stroke-width="12" opacity="0.22" filter="url(#b4)"/><use href="#head" fill="none" stroke="#2a2018" stroke-width="7" opacity="0.30" filter="url(#b2)"/><ellipse cx="0" cy="38" rx="13" ry="9" fill="#db9272" opacity="0.60" filter="url(#b4)"/><ellipse cx="0" cy="44.5" rx="4.5" ry="3.5" fill="#db9e83" opacity="0.60" filter="url(#b15)"/><g fill="#ec907e" opacity="0.50" filter="url(#b4)"><ellipse cx="-16" cy="67.0" rx="11" ry="10"/><ellipse cx="16" cy="67.0" rx="11" ry="10"/></g><g fill="#3a1a10" opacity="0.32" filter="url(#b15)"><ellipse cx="-14.10" cy="53.50" rx="7.8" ry="4.4"/><ellipse cx="14.10" cy="53.50" rx="7.8" ry="4.4"/></g><g fill="#301a0e" opacity="0.62" filter="url(#b08)" transform="translate(0,46.90) scale(1,0.72) translate(0,-46.6)"><use href="#browL" transform="rotate(0.00,-15,46.6)"/><use href="#browR" transform="rotate(-0.00,15,46.6)"/></g><path d="M0,49 L0,69" stroke="#df9574" stroke-width="3.5" opacity="0.35" filter="url(#b1)"/><use href="#nsides" stroke="#4a2010" stroke-width="2.6" opacity="0.30" filter="url(#b1)"/><ellipse cx="0" cy="71.3" rx="4.6" ry="3.6" fill="#df9574" opacity="0.45" filter="url(#b1)"/><use href="#alae" stroke="#3a140a" stroke-width="1.8" opacity="0.45" filter="url(#b1)"/><use href="#nostril" stroke="#3a140a" stroke-width="1.3" opacity="0.39" filter="url(#b08)"/><use href="#nostrils" fill="#2a0a04" opacity="0.55" filter="url(#b06)"/><g fill="#3a1208" opacity="0.35" filter="url(#b08)"><ellipse cx="-14.10" cy="52.00" rx="5.98" ry="1.4"/><ellipse cx="14.10" cy="52.00" rx="5.98" ry="1.4"/></g><ellipse cx="0" cy="77" rx="5" ry="1.3" fill="#4a2012" opacity="0.15" filter="url(#b08)"/><ellipse cx="0" cy="81.4" rx="12" ry="3" fill="#3a3028" opacity="0.05" filter="url(#b15)"/><path d="M-22,84 Q-16,100 0,104 Q16,100 22,84 Q12,90 0,95 Q-12,90 -22,84Z" fill="#3a3028" opacity="0.03" filter="url(#b3)"/><g transform="translate(0,86.3) scale(1.01,1.08) translate(0,-86.3)"><use href="#lipu" fill="#a04a46" filter="url(#b05)"/><use href="#lipl" fill="#da6d71" opacity="0.95" filter="url(#b06)"/><use href="#lipline" stroke="#5a1a14" stroke-width="0.8" opacity="0.60" filter="url(#b04)"/></g><ellipse cx="0" cy="93.2" rx="6" ry="1.2" fill="#4a2012" opacity="0.20" filter="url(#b08)"/><ellipse cx="0" cy="98" rx="8" ry="4.5" fill="#dc8c76" opacity="0.50" filter="url(#b2)"/><g filter="url(#b04)"><path d="M-19.30,54.20 Q-14.62,49.85 -8.90,54.20 Q-13.58,57.27 -19.30,54.20 Z" fill="#b0a6a4"/><ellipse cx="-14.10" cy="53.90" rx="2.30" ry="2.42" fill="#140806" clip-path="url(#f20e0)"/><path d="M-19.30,54.20 Q-14.62,49.85 -8.90,54.20" stroke="#1e0c06" stroke-width="1.10" fill="none" opacity="0.8"/></g><g filter="url(#b04)"><path d="M8.90,54.20 Q13.58,49.85 19.30,54.20 Q14.62,57.27 8.90,54.20 Z" fill="#b0a6a4"/><ellipse cx="14.10" cy="53.90" rx="2.30" ry="2.42" fill="#140806" clip-path="url(#f20e2)"/><path d="M8.90,54.20 Q13.58,49.85 19.30,54.20" stroke="#1e0c06" stroke-width="1.10" fill="none" opacity="0.8"/></g></g><g clip-path="url(#hnc)"><use href="#jaw" stroke="#2a1a10" stroke-width="1.3" opacity="0.32" filter="url(#b06)" transform="translate(0,0.2)"/></g></g>
<g transform="translate(463.70,705.00) scale(1.000,1)" filter="url(#bf)"><defs><clipPath id="f21e0"><path d="M-19.30,54.20 Q-14.62,49.88 -8.90,54.20 Q-13.58,57.25 -19.30,54.20 Z"/></clipPath><clipPath id="f21e2"><path d="M8.90,54.20 Q13.58,49.88 19.30,54.20 Q14.62,57.25 8.90,54.20 Z"/></clipPath></defs><use href="#neck" fill="#b17357"/><use href="#neck" fill="url(#neckg)"/><g clip-path="url(#nc)"><use href="#jaw" stroke="#2a1008" stroke-width="5" opacity="0.12" filter="url(#b2)"/></g><use href="#earL" fill="#a46b51"/><use href="#earR" fill="#a46b51"/><g fill="#c98363" opacity="0.8" filter="url(#b06)"><ellipse cx="-35.2" cy="57.5" rx="1.1" ry="6"/><ellipse cx="35.2" cy="57.5" rx="1.1" ry="6"/></g><use href="#earsh" fill="#3a2010" opacity="0.3" filter="url(#b05)"/><use href="#head" fill="#cd8665"/><g clip-path="url(#hc)"><rect x="-33" y="0" width="66" height="42" fill="url(#topg)" opacity="1.00"/><use href="#head" fill="url(#rimg)" opacity="1.00"/><use href="#cran" stroke="#2a2018" stroke-width="12" opacity="0.22" filter="url(#b4)"/><use href="#head" fill="none" stroke="#2a2018" stroke-width="7" opacity="0.30" filter="url(#b2)"/><ellipse cx="0" cy="38" rx="13" ry="9" fill="#da8e6b" opacity="0.60" filter="url(#b4)"/><ellipse cx="0" cy="44.5" rx="4.5" ry="3.5" fill="#da9c7e" opacity="0.60" filter="url(#b15)"/><g fill="#ec907e" opacity="0.50" filter="url(#b4)"><ellipse cx="-16" cy="67.0" rx="11" ry="10"/><ellipse cx="16" cy="67.0" rx="11" ry="10"/></g><g fill="#3a1a10" opacity="0.32" filter="url(#b15)"><ellipse cx="-14.10" cy="53.50" rx="7.8" ry="4.4"/><ellipse cx="14.10" cy="53.50" rx="7.8" ry="4.4"/></g><g fill="#301a0e" opacity="0.68" filter="url(#b08)" transform="translate(0,46.90) scale(1,0.72) translate(0,-46.6)"><use href="#browL" transform="rotate(0.00,-15,46.6)"/><use href="#browR" transform="rotate(-0.00,15,46.6)"/></g><path d="M0,49 L0,69" stroke="#de916d" stroke-width="3.5" opacity="0.35" filter="url(#b1)"/><use href="#nsides" stroke="#4a2010" stroke-width="2.6" opacity="0.30" filter="url(#b1)"/><ellipse cx="0" cy="71.3" rx="4.6" ry="3.6" fill="#de916d" opacity="0.45" filter="url(#b1)"/><use href="#alae" stroke="#3a140a" stroke-width="1.8" opacity="0.45" filter="url(#b1)"/><use href="#nostril" stroke="#3a140a" stroke-width="1.3" opacity="0.39" filter="url(#b08)"/><use href="#nostrils" fill="#2a0a04" opacity="0.55" filter="url(#b06)"/><g fill="#3a1208" opacity="0.35" filter="url(#b08)"><ellipse cx="-14.10" cy="52.00" rx="5.98" ry="1.4"/><ellipse cx="14.10" cy="52.00" rx="5.98" ry="1.4"/></g><ellipse cx="0" cy="77" rx="5" ry="1.3" fill="#4a2012" opacity="0.15" filter="url(#b08)"/><ellipse cx="0" cy="81.4" rx="12" ry="3" fill="#3a3028" opacity="0.08" filter="url(#b15)"/><path d="M-22,84 Q-16,100 0,104 Q16,100 22,84 Q12,90 0,95 Q-12,90 -22,84Z" fill="#3a3028" opacity="0.05" filter="url(#b3)"/><g transform="translate(0,86.3) scale(1.01,1.07) translate(0,-86.3)"><use href="#lipu" fill="#a04a46" filter="url(#b05)"/><use href="#lipl" fill="#d86b6d" opacity="0.95" filter="url(#b06)"/><use href="#lipline" stroke="#5a1a14" stroke-width="0.8" opacity="0.60" filter="url(#b04)"/></g><ellipse cx="0" cy="93.2" rx="6" ry="1.2" fill="#4a2012" opacity="0.20" filter="url(#b08)"/><ellipse cx="0" cy="98" rx="8" ry="4.5" fill="#dc8c76" opacity="0.50" filter="url(#b2)"/><g filter="url(#b04)"><path d="M-19.30,54.20 Q-14.62,49.88 -8.90,54.20 Q-13.58,57.25 -19.30,54.20 Z" fill="#b0a6a4"/><ellipse cx="-14.10" cy="53.90" rx="2.30" ry="2.42" fill="#140806" clip-path="url(#f21e0)"/><path d="M-19.30,54.20 Q-14.62,49.88 -8.90,54.20" stroke="#1e0c06" stroke-width="1.10" fill="none" opacity="0.8"/></g><g filter="url(#b04)"><path d="M8.90,54.20 Q13.58,49.88 19.30,54.20 Q14.62,57.25 8.90,54.20 Z" fill="#b0a6a4"/><ellipse cx="14.10" cy="53.90" rx="2.30" ry="2.42" fill="#140806" clip-path="url(#f21e2)"/><path d="M8.90,54.20 Q13.58,49.88 19.30,54.20" stroke="#1e0c06" stroke-width="1.10" fill="none" opacity="0.8"/></g></g><g clip-path="url(#hnc)"><use href="#jaw" stroke="#2a1a10" stroke-width="1.3" opacity="0.32" filter="url(#b06)" transform="translate(0,0.2)"/></g></g>
<g transform="translate(602.80,705.00) scale(1.000,1)" filter="url(#bf)"><defs><clipPath id="f22e0"><path d="M-19.30,54.20 Q-14.62,49.91 -8.90,54.20 Q-13.58,57.23 -19.30,54.20 Z"/></clipPath><clipPath id="f22e2"><path d="M8.90,54.20 Q13.58,49.91 19.30,54.20 Q14.62,57.23 8.90,54.20 Z"/></clipPath></defs><use href="#neck" fill="#af7052"/><use href="#neck" fill="url(#neckg)"/><g clip-path="url(#nc)"><use href="#jaw" stroke="#2a1008" stroke-width="5" opacity="0.12" filter="url(#b2)"/></g><use href="#earL" fill="#a3684c"/><use href="#earR" fill="#a3684c"/><g fill="#c87f5d" opacity="0.8" filter="url(#b06)"><ellipse cx="-35.2" cy="57.5" rx="1.1" ry="6"/><ellipse cx="35.2" cy="57.5" rx="1.1" ry="6"/></g><use href="#earsh" fill="#3a2010" opacity="0.3" filter="url(#b05)"/><use href="#head" fill="#cc825f"/><g clip-path="url(#hc)"><rect x="-33" y="0" width="66" height="42" fill="url(#topg)" opacity="1.00"/><use href="#head" fill="url(#rimg)" opacity="1.00"/><use href="#cran" stroke="#2a2018" stroke-width="12" opacity="0.22" filter="url(#b4)"/><use href="#head" fill="none" stroke="#2a2018" stroke-width="7" opacity="0.30" filter="url(#b2)"/><ellipse cx="0" cy="38" rx="13" ry="9" fill="#d88a65" opacity="0.60" filter="url(#b4)"/><ellipse cx="0" cy="44.5" rx="4.5" ry="3.5" fill="#d99879" opacity="0.60" filter="url(#b15)"/><g fill="#ec907e" opacity="0.50" filter="url(#b4)"><ellipse cx="-16" cy="67.0" rx="11" ry="10"/><ellipse cx="16" cy="67.0" rx="11" ry="10"/></g><g fill="#3a1a10" opacity="0.32" filter="url(#b15)"><ellipse cx="-14.10" cy="53.50" rx="7.8" ry="4.4"/><ellipse cx="14.10" cy="53.50" rx="7.8" ry="4.4"/></g><g fill="#301a0e" opacity="0.75" filter="url(#b08)" transform="translate(0,46.90) scale(1,0.72) translate(0,-46.6)"><use href="#browL" transform="rotate(0.00,-15,46.6)"/><use href="#browR" transform="rotate(-0.00,15,46.6)"/></g><path d="M0,49 L0,69" stroke="#dc8c67" stroke-width="3.5" opacity="0.35" filter="url(#b1)"/><use href="#nsides" stroke="#4a2010" stroke-width="2.6" opacity="0.30" filter="url(#b1)"/><ellipse cx="0" cy="71.3" rx="4.6" ry="3.6" fill="#dc8c67" opacity="0.45" filter="url(#b1)"/><use href="#alae" stroke="#3a140a" stroke-width="1.8" opacity="0.45" filter="url(#b1)"/><use href="#nostril" stroke="#3a140a" stroke-width="1.3" opacity="0.39" filter="url(#b08)"/><use href="#nostrils" fill="#2a0a04" opacity="0.55" filter="url(#b06)"/><g fill="#3a1208" opacity="0.35" filter="url(#b08)"><ellipse cx="-14.10" cy="52.00" rx="5.98" ry="1.4"/><ellipse cx="14.10" cy="52.00" rx="5.98" ry="1.4"/></g><ellipse cx="0" cy="77" rx="5" ry="1.3" fill="#4a2012" opacity="0.15" filter="url(#b08)"/><ellipse cx="0" cy="81.4" rx="12" ry="3" fill="#3a3028" opacity="0.10" filter="url(#b15)"/><path d="M-22,84 Q-16,100 0,104 Q16,100 22,84 Q12,90 0,95 Q-12,90 -22,84Z" fill="#3a3028" opacity="0.06" filter="url(#b3)"/><g transform="translate(0,86.3) scale(1.00,1.05) translate(0,-86.3)"><use href="#lipu" fill="#a04a46" filter="url(#b05)"/><use href="#lipl" fill="#d66868" opacity="0.95" filter="url(#b06)"/><use href="#lipline" stroke="#5a1a14" stroke-width="0.8" opacity="0.60" filter="url(#b04)"/></g><ellipse cx="0" cy="93.2" rx="6" ry="1.2" fill="#4a2012" opacity="0.20" filter="url(#b08)"/><ellipse cx="0" cy="98" rx="8" ry="4.5" fill="#dc8c76" opacity="0.50" filter="url(#b2)"/><g filter="url(#b04)"><path d="M-19.30,54.20 Q-14.62,49.91 -8.90,54.20 Q-13.58,57.23 -19.30,54.20 Z" fill="#b0a6a4"/><ellipse cx="-14.10" cy="53.90" rx="2.30" ry="2.42" fill="#140806" clip-path="url(#f22e0)"/><path d="M-19.30,54.20 Q-14.62,49.91 -8.90,54.20" stroke="#1e0c06" stroke-width="1.10" fill="none" opacity="0.8"/></g><g filter="url(#b04)"><path d="M8.90,54.20 Q13.58,49.91 19.30,54.20 Q14.62,57.23 8.90,54.20 Z" fill="#b0a6a4"/><ellipse cx="14.10" cy="53.90" rx="2.30" ry="2.42" fill="#140806" clip-path="url(#f22e2)"/><path d="M8.90,54.20 Q13.58,49.91 19.30,54.20" stroke="#1e0c06" stroke-width="1.10" fill="none" opacity="0.8"/></g></g><g clip-path="url(#hnc)"><use href="#jaw" stroke="#2a1a10" stroke-width="1.3" opacity="0.32" filter="url(#b06)" transform="translate(0,0.2)"/></g></g>
<g transform="translate(741.90,705.00) scale(1.000,1)" filter="url(#bf)"><defs><clipPath id="f23e0"><path d="M-19.30,54.20 Q-14.62,49.91 -8.90,54.20 Q-13.58,57.23 -19.30,54.20 Z"/></clipPath><clipPath id="f23e2"><path d="M8.90,54.20 Q13.58,49.91 19.30,54.20 Q14.62,57.23 8.90,54.20 Z"/></clipPath></defs><use href="#neck" fill="#af6d4d"/><use href="#neck" fill="url(#neckg)"/><g clip-path="url(#nc)"><use href="#jaw" stroke="#2a1008" stroke-width="5" opacity="0.12" filter="url(#b2)"/></g><use href="#earL" fill="#a26548"/><use href="#earR" fill="#a26548"/><g fill="#c77c58" opacity="0.8" filter="url(#b06)"><ellipse cx="-35.2" cy="57.5" rx="1.1" ry="6"/><ellipse cx="35.2" cy="57.5" rx="1.1" ry="6"/></g><use href="#earsh" fill="#3a2010" opacity="0.3" filter="url(#b05)"/><use href="#head" fill="#cb7f5a"/><g clip-path="url(#hc)"><rect x="-33" y="0" width="66" height="42" fill="url(#topg)" opacity="1.00"/><use href="#head" fill="url(#rimg)" opacity="1.00"/><use href="#cran" stroke="#2a2018" stroke-width="12" opacity="0.22" filter="url(#b4)"/><use href="#head" fill="none" stroke="#2a2018" stroke-width="7" opacity="0.30" filter="url(#b2)"/><ellipse cx="0" cy="38" rx="13" ry="9" fill="#d7865f" opacity="0.60" filter="url(#b4)"/><ellipse cx="0" cy="44.5" rx="4.5" ry="3.5" fill="#d89676" opacity="0.60" filter="url(#b15)"/><g fill="#eb8d75" opacity="0.50" filter="url(#b4)"><ellipse cx="-16" cy="67.0" rx="11" ry="10"/><ellipse cx="16" cy="67.0" rx="11" ry="10"/></g><g fill="#3a1a10" opacity="0.35" filter="url(#b15)"><ellipse cx="-14.10" cy="53.50" rx="7.8" ry="4.4"/><ellipse cx="14.10" cy="53.50" rx="7.8" ry="4.4"/></g><g fill="#301a0e" opacity="0.80" filter="url(#b08)" transform="translate(0,47.10) scale(1,0.75) translate(0,-46.6)"><use href="#browL" transform="rotate(1.67,-15,46.6)"/><use href="#browR" transform="rotate(-1.67,15,46.6)"/></g><path d="M0,49 L0,69" stroke="#db8961" stroke-width="3.5" opacity="0.35" filter="url(#b1)"/><use href="#nsides" stroke="#4a2010" stroke-width="2.6" opacity="0.30" filter="url(#b1)"/><ellipse cx="0" cy="71.3" rx="4.6" ry="3.6" fill="#db8961" opacity="0.45" filter="url(#b1)"/><use href="#alae" stroke="#3a140a" stroke-width="1.8" opacity="0.45" filter="url(#b1)"/><use href="#nostril" stroke="#3a140a" stroke-width="1.3" opacity="0.39" filter="url(#b08)"/><use href="#nostrils" fill="#2a0a04" opacity="0.55" filter="url(#b06)"/><g fill="#3a1208" opacity="0.35" filter="url(#b08)"><ellipse cx="-14.10" cy="52.00" rx="5.98" ry="1.4"/><ellipse cx="14.10" cy="52.00" rx="5.98" ry="1.4"/></g><ellipse cx="0" cy="77" rx="5" ry="1.3" fill="#4a2012" opacity="0.15" filter="url(#b08)"/><ellipse cx="0" cy="81.4" rx="12" ry="3" fill="#3a3028" opacity="0.13" filter="url(#b15)"/><path d="M-22,84 Q-16,100 0,104 Q16,100 22,84 Q12,90 0,95 Q-12,90 -22,84Z" fill="#3a3028" opacity="0.08" filter="url(#b3)"/><g transform="translate(0,86.3) scale(1.00,1.02) translate(0,-86.3)"><use href="#lipu" fill="#a04a46" filter="url(#b05)"/><use href="#lipl" fill="#d16967" opacity="0.95" filter="url(#b06)"/><use href="#lipline" stroke="#5a1a14" stroke-width="0.8" opacity="0.60" filter="url(#b04)"/></g><ellipse cx="0" cy="93.2" rx="6" ry="1.2" fill="#4a2012" opacity="0.20" filter="url(#b08)"/><ellipse cx="0" cy="98" rx="8" ry="4.5" fill="#dc8c76" opacity="0.50" filter="url(#b2)"/><g filter="url(#b04)"><path d="M-19.30,54.20 Q-14.62,49.91 -8.90,54.20 Q-13.58,57.23 -19.30,54.20 Z" fill="#ada19e"/><ellipse cx="-14.10" cy="53.90" rx="2.30" ry="2.42" fill="#140806" clip-path="url(#f23e0)"/><path d="M-19.30,54.20 Q-14.62,49.91 -8.90,54.20" stroke="#1e0c06" stroke-width="1.10" fill="none" opacity="0.8"/></g><g filter="url(#b04)"><path d="M8.90,54.20 Q13.58,49.91 19.30,54.20 Q14.62,57.23 8.90,54.20 Z" fill="#ada19e"/><ellipse cx="14.10" cy="53.90" rx="2.30" ry="2.42" fill="#140806" clip-path="url(#f23e2)"/><path d="M8.90,54.20 Q13.58,49.91 19.30,54.20" stroke="#1e0c06" stroke-width="1.10" fill="none" opacity="0.8"/></g></g><g clip-path="url(#hnc)"><use href="#jaw" stroke="#2a1a10" stroke-width="1.3" opacity="0.32" filter="url(#b06)" transform="translate(0,0.2)"/></g></g>
<g transform="translate(881.00,705.00) scale(1.000,1)" filter="url(#bf)"><defs><clipPath id="f24e0"><path d="M-19.30,54.20 Q-14.62,49.91 -8.90,54.20 Q-13.58,57.23 -19.30,54.20 Z"/></clipPath><clipPath id="f24e2"><path d="M8.90,54.20 Q13.58,49.91 19.30,54.20 Q14.62,57.23 8.90,54.20 Z"/></clipPath></defs><use href="#neck" fill="#ae6a49"/><use href="#neck" fill="url(#neckg)"/><g clip-path="url(#nc)"><use href="#jaw" stroke="#2a1008" stroke-width="5" opacity="0.12" filter="url(#b2)"/></g><use href="#earL" fill="#a26344"/><use href="#earR" fill="#a26344"/><g fill="#c67953" opacity="0.8" filter="url(#b06)"><ellipse cx="-35.2" cy="57.5" rx="1.1" ry="6"/><ellipse cx="35.2" cy="57.5" rx="1.1" ry="6"/></g><use href="#earsh" fill="#3a2010" opacity="0.3" filter="url(#b05)"/><use href="#head" fill="#ca7b55"/><g clip-path="url(#hc)"><rect x="-33" y="0" width="66" height="42" fill="url(#topg)" opacity="1.00"/><use href="#head" fill="url(#rimg)" opacity="1.00"/><use href="#cran" stroke="#2a2018" stroke-width="12" opacity="0.22" filter="url(#b4)"/><use href="#head" fill="none" stroke="#2a2018" stroke-width="7" opacity="0.30" filter="url(#b2)"/><ellipse cx="0" cy="38" rx="13" ry="9" fill="#d6835a" opacity="0.60" filter="url(#b4)"/><ellipse cx="0" cy="44.5" rx="4.5" ry="3.5" fill="#d79472" opacity="0.60" filter="url(#b15)"/><g fill="#e9896d" opacity="0.50" filter="url(#b4)"><ellipse cx="-16" cy="67.0" rx="11" ry="10"/><ellipse cx="16" cy="67.0" rx="11" ry="10"/></g><g fill="#3a1a10" opacity="0.37" filter="url(#b15)"><ellipse cx="-14.10" cy="53.50" rx="7.8" ry="4.4"/><ellipse cx="14.10" cy="53.50" rx="7.8" ry="4.4"/></g><g fill="#301a0e" opacity="0.85" filter="url(#b08)" transform="translate(0,47.30) scale(1,0.77) translate(0,-46.6)"><use href="#browL" transform="rotate(3.33,-15,46.6)"/><use href="#browR" transform="rotate(-3.33,15,46.6)"/></g><path d="M0,49 L0,69" stroke="#da855c" stroke-width="3.5" opacity="0.35" filter="url(#b1)"/><use href="#nsides" stroke="#4a2010" stroke-width="2.6" opacity="0.30" filter="url(#b1)"/><ellipse cx="0" cy="71.3" rx="4.6" ry="3.6" fill="#da855c" opacity="0.45" filter="url(#b1)"/><use href="#alae" stroke="#3a140a" stroke-width="1.8" opacity="0.45" filter="url(#b1)"/><use href="#nostril" stroke="#3a140a" stroke-width="1.3" opacity="0.39" filter="url(#b08)"/><use href="#nostrils" fill="#2a0a04" opacity="0.55" filter="url(#b06)"/><g fill="#3a1208" opacity="0.35" filter="url(#b08)"><ellipse cx="-14.10" cy="52.00" rx="5.98" ry="1.4"/><ellipse cx="14.10" cy="52.00" rx="5.98" ry="1.4"/></g><ellipse cx="0" cy="77" rx="5" ry="1.3" fill="#4a2012" opacity="0.15" filter="url(#b08)"/><ellipse cx="0" cy="81.4" rx="12" ry="3" fill="#3a3028" opacity="0.15" filter="url(#b15)"/><path d="M-22,84 Q-16,100 0,104 Q16,100 22,84 Q12,90 0,95 Q-12,90 -22,84Z" fill="#3a3028" opacity="0.10" filter="url(#b3)"/><g transform="translate(0,86.3) scale(1.00,0.98) translate(0,-86.3)"><use href="#lipu" fill="#a04a46" filter="url(#b05)"/><use href="#lipl" fill="#cd6b65" opacity="0.95" filter="url(#b06)"/><use href="#lipline" stroke="#5a1a14" stroke-width="0.8" opacity="0.60" filter="url(#b04)"/></g><ellipse cx="0" cy="93.2" rx="6" ry="1.2" fill="#4a2012" opacity="0.20" filter="url(#b08)"/><ellipse cx="0" cy="98" rx="8" ry="4.5" fill="#dc8c76" opacity="0.50" filter="url(#b2)"/><g filter="url(#b04)"><path d="M-19.30,54.20 Q-14.62,49.91 -8.90,54.20 Q-13.58,57.23 -19.30,54.20 Z" fill="#ab9d98"/><ellipse cx="-14.10" cy="53.90" rx="2.30" ry="2.42" fill="#140806" clip-path="url(#f24e0)"/><path d="M-19.30,54.20 Q-14.62,49.91 -8.90,54.20" stroke="#1e0c06" stroke-width="1.10" fill="none" opacity="0.8"/></g><g filter="url(#b04)"><path d="M8.90,54.20 Q13.58,49.91 19.30,54.20 Q14.62,57.23 8.90,54.20 Z" fill="#ab9d98"/><ellipse cx="14.10" cy="53.90" rx="2.30" ry="2.42" fill="#140806" clip-path="url(#f24e2)"/><path d="M8.90,54.20 Q13.58,49.91 19.30,54.20" stroke="#1e0c06" stroke-width="1.10" fill="none" opacity="0.8"/></g></g><g clip-path="url(#hnc)"><use href="#jaw" stroke="#2a1a10" stroke-width="1.3" opacity="0.32" filter="url(#b06)" transform="translate(0,0.2)"/></g></g>
<g transform="translate(1020.10,705.00) scale(1.000,1)" filter="url(#bf)"><defs><clipPath id="f25e0"><path d="M-19.30,54.20 Q-14.62,49.91 -8.90,54.20 Q-13.58,57.23 -19.30,54.20 Z"/></clipPath><clipPath id="f25e2"><path d="M8.90,54.20 Q13.58,49.91 19.30,54.20 Q14.62,57.23 8.90,54.20 Z"/></clipPath></defs><use href="#neck" fill="#ad6745"/><use href="#neck" fill="url(#neckg)"/><g clip-path="url(#nc)"><use href="#jaw" stroke="#2a1008" stroke-width="5" opacity="0.12" filter="url(#b2)"/></g><use href="#earL" fill="#a16040"/><use href="#earR" fill="#a16040"/><g fill="#c5764e" opacity="0.8" filter="url(#b06)"><ellipse cx="-35.2" cy="57.5" rx="1.1" ry="6"/><ellipse cx="35.2" cy="57.5" rx="1.1" ry="6"/></g><use href="#earsh" fill="#3a2010" opacity="0.3" filter="url(#b05)"/><use href="#head" fill="#c97850"/><g clip-path="url(#hc)"><rect x="-33" y="0" width="66" height="42" fill="url(#topg)" opacity="1.00"/><use href="#head" fill="url(#rimg)" opacity="1.00"/><use href="#cran" stroke="#2a2018" stroke-width="12" opacity="0.22" filter="url(#b4)"/><use href="#head" fill="none" stroke="#2a2018" stroke-width="7" opacity="0.30" filter="url(#b2)"/><ellipse cx="0" cy="38" rx="13" ry="9" fill="#d57f55" opacity="0.60" filter="url(#b4)"/><ellipse cx="0" cy="44.5" rx="4.5" ry="3.5" fill="#d6916e" opacity="0.60" filter="url(#b15)"/><g fill="#e88664" opacity="0.50" filter="url(#b4)"><ellipse cx="-16" cy="67.0" rx="11" ry="10"/><ellipse cx="16" cy="67.0" rx="11" ry="10"/></g><g fill="#3a1a10" opacity="0.40" filter="url(#b15)"><ellipse cx="-14.10" cy="53.50" rx="7.8" ry="4.4"/><ellipse cx="14.10" cy="53.50" rx="7.8" ry="4.4"/></g><g fill="#301a0e" opacity="0.90" filter="url(#b08)" transform="translate(0,47.50) scale(1,0.80) translate(0,-46.6)"><use href="#browL" transform="rotate(5.00,-15,46.6)"/><use href="#browR" transform="rotate(-5.00,15,46.6)"/></g><path d="M0,49 L0,69" stroke="#d98256" stroke-width="3.5" opacity="0.35" filter="url(#b1)"/><use href="#nsides" stroke="#4a2010" stroke-width="2.6" opacity="0.30" filter="url(#b1)"/><ellipse cx="0" cy="71.3" rx="4.6" ry="3.6" fill="#d98256" opacity="0.45" filter="url(#b1)"/><use href="#alae" stroke="#3a140a" stroke-width="1.8" opacity="0.45" filter="url(#b1)"/><use href="#nostril" stroke="#3a140a" stroke-width="1.3" opacity="0.39" filter="url(#b08)"/><use href="#nostrils" fill="#2a0a04" opacity="0.55" filter="url(#b06)"/><g fill="#3a1208" opacity="0.35" filter="url(#b08)"><ellipse cx="-14.10" cy="52.00" rx="5.98" ry="1.4"/><ellipse cx="14.10" cy="52.00" rx="5.98" ry="1.4"/></g><ellipse cx="0" cy="77" rx="5" ry="1.3" fill="#4a2012" opacity="0.15" filter="url(#b08)"/><ellipse cx="0" cy="81.4" rx="12" ry="3" fill="#3a3028" opacity="0.18" filter="url(#b15)"/><path d="M-22,84 Q-16,100 0,104 Q16,100 22,84 Q12,90 0,95 Q-12,90 -22,84Z" fill="#3a3028" opacity="0.12" filter="url(#b3)"/><g transform="translate(0,86.3) scale(1.00,0.95) translate(0,-86.3)"><use href="#lipu" fill="#a04a46" filter="url(#b05)"/><use href="#lipl" fill="#c86c64" opacity="0.95" filter="url(#b06)"/><use href="#lipline" stroke="#5a1a14" stroke-width="0.8" opacity="0.60" filter="url(#b04)"/></g><ellipse cx="0" cy="93.2" rx="6" ry="1.2" fill="#4a2012" opacity="0.20" filter="url(#b08)"/><ellipse cx="0" cy="98" rx="8" ry="4.5" fill="#dc8c76" opacity="0.50" filter="url(#b2)"/><g filter="url(#b04)"><path d="M-19.30,54.20 Q-14.62,49.91 -8.90,54.20 Q-13.58,57.23 -19.30,54.20 Z" fill="#a89892"/><ellipse cx="-14.10" cy="53.90" rx="2.30" ry="2.42" fill="#140806" clip-path="url(#f25e0)"/><path d="M-19.30,54.20 Q-14.62,49.91 -8.90,54.20" stroke="#1e0c06" stroke-width="1.10" fill="none" opacity="0.8"/></g><g filter="url(#b04)"><path d="M8.90,54.20 Q13.58,49.91 19.30,54.20 Q14.62,57.23 8.90,54.20 Z" fill="#a89892"/><ellipse cx="14.10" cy="53.90" rx="2.30" ry="2.42" fill="#140806" clip-path="url(#f25e2)"/><path d="M8.90,54.20 Q13.58,49.91 19.30,54.20" stroke="#1e0c06" stroke-width="1.10" fill="none" opacity="0.8"/></g></g><g clip-path="url(#hnc)"><use href="#jaw" stroke="#2a1a10" stroke-width="1.3" opacity="0.32" filter="url(#b06)" transform="translate(0,0.2)"/></g></g>
<g transform="translate(1159.20,705.00) scale(0.990,1)" filter="url(#bf)"><defs><clipPath id="f26e0"><path d="M-19.30,54.20 Q-14.62,50.39 -8.90,54.20 Q-13.58,56.85 -19.30,54.20 Z"/></clipPath><clipPath id="f26e2"><path d="M8.90,54.20 Q13.58,50.39 19.30,54.20 Q14.62,56.85 8.90,54.20 Z"/></clipPath></defs><use href="#neck" fill="#9e5530"/><use href="#neck" fill="url(#neckg)"/><g clip-path="url(#nc)"><use href="#jaw" stroke="#2a1008" stroke-width="5" opacity="0.12" filter="url(#b2)"/></g><use href="#earL" fill="#9e5530"/><use href="#earR" fill="#9e5530"/><g fill="#c2683b" opacity="0.8" filter="url(#b06)"><ellipse cx="-35.2" cy="57.5" rx="1.1" ry="6"/><ellipse cx="35.2" cy="57.5" rx="1.1" ry="6"/></g><use href="#earsh" fill="#3a2010" opacity="0.3" filter="url(#b05)"/><use href="#head" fill="#c66a3c"/><g clip-path="url(#hc)"><rect x="-33" y="0" width="66" height="42" fill="url(#topg)" opacity="1.00"/><use href="#head" fill="url(#rimg)" opacity="1.00"/><use href="#cran" stroke="#2a2018" stroke-width="12" opacity="0.22" filter="url(#b4)"/><use href="#head" fill="none" stroke="#2a2018" stroke-width="7" opacity="0.30" filter="url(#b2)"/><ellipse cx="0" cy="38" rx="13" ry="9" fill="#d27040" opacity="0.60" filter="url(#b4)"/><ellipse cx="0" cy="44.5" rx="4.5" ry="3.5" fill="#d4865f" opacity="0.60" filter="url(#b15)"/><g fill="#ee8e60" opacity="0.55" filter="url(#b4)"><ellipse cx="-16" cy="67.0" rx="11" ry="10"/><ellipse cx="16" cy="67.0" rx="11" ry="10"/></g><g fill="#3a1a10" opacity="0.45" filter="url(#b15)"><ellipse cx="-14.10" cy="53.50" rx="7.8" ry="4.4"/><ellipse cx="14.10" cy="53.50" rx="7.8" ry="4.4"/></g><g fill="#1a0a04" opacity="1.00" filter="url(#b08)" transform="translate(0,48.50) scale(1,0.72) translate(0,-46.6)"><use href="#browL" transform="rotate(13.00,-15,46.6)"/><use href="#browR" transform="rotate(-13.00,15,46.6)"/></g><path d="M0,49 L0,69" stroke="#d67241" stroke-width="3.5" opacity="0.35" filter="url(#b1)"/><use href="#nsides" stroke="#4a2010" stroke-width="2.6" opacity="0.35" filter="url(#b1)"/><ellipse cx="0" cy="71.3" rx="4.6" ry="3.6" fill="#d67241" opacity="0.45" filter="url(#b1)"/><use href="#alae" stroke="#3a140a" stroke-width="1.8" opacity="0.45" filter="url(#b1)"/><use href="#nostril" stroke="#3a140a" stroke-width="1.3" opacity="0.39" filter="url(#b08)"/><use href="#nostrils" fill="#2a0a04" opacity="0.55" filter="url(#b06)"/><g fill="#3a1208" opacity="0.60" filter="url(#b08)"><ellipse cx="-14.10" cy="52.00" rx="5.98" ry="1.4"/><ellipse cx="14.10" cy="52.00" rx="5.98" ry="1.4"/></g><ellipse cx="0" cy="77" rx="5" ry="1.3" fill="#4a2012" opacity="0.15" filter="url(#b08)"/><ellipse cx="0" cy="81.4" rx="12" ry="3" fill="#3a3028" opacity="0.30" filter="url(#b15)"/><path d="M-22,84 Q-16,100 0,104 Q16,100 22,84 Q12,90 0,95 Q-12,90 -22,84Z" fill="#3a3028" opacity="0.35" filter="url(#b3)"/><g transform="translate(0,86.3) scale(1.00,0.85) translate(0,-86.3)"><use href="#lipu" fill="#a04a46" filter="url(#b05)"/><use href="#lipl" fill="#ba6250" opacity="0.95" filter="url(#b06)"/><use href="#lipline" stroke="#5a1a14" stroke-width="0.8" opacity="0.60" filter="url(#b04)"/></g><ellipse cx="0" cy="93.2" rx="6" ry="1.2" fill="#4a2012" opacity="0.20" filter="url(#b08)"/><ellipse cx="0" cy="98" rx="8" ry="4.5" fill="#dc8c76" opacity="0.20" filter="url(#b2)"/><g filter="url(#b04)"><path d="M-19.30,54.20 Q-14.62,50.39 -8.90,54.20 Q-13.58,56.85 -19.30,54.20 Z" fill="#a08c82"/><ellipse cx="-14.10" cy="53.90" rx="2.20" ry="2.31" fill="#140806" clip-path="url(#f26e0)"/><path d="M-19.30,54.20 Q-14.62,50.39 -8.90,54.20" stroke="#1e0c06" stroke-width="1.10" fill="none" opacity="0.8"/></g><g filter="url(#b04)"><path d="M8.90,54.20 Q13.58,50.39 19.30,54.20 Q14.62,56.85 8.90,54.20 Z" fill="#a08c82"/><ellipse cx="14.10" cy="53.90" rx="2.20" ry="2.31" fill="#140806" clip-path="url(#f26e2)"/><path d="M8.90,54.20 Q13.58,50.39 19.30,54.20" stroke="#1e0c06" stroke-width="1.10" fill="none" opacity="0.8"/></g></g><g clip-path="url(#hnc)"><use href="#jaw" stroke="#2a1a10" stroke-width="1.3" opacity="0.45" filter="url(#b06)" transform="translate(0,0.2)"/></g></g>
<g transform="translate(44.50,931.40) scale(1.020,1)" filter="url(#bf)"><defs><clipPath id="f27e0"><path d="M-21.90,55.90 Q-16.32,50.57 -9.50,55.90 Q-15.08,59.75 -21.90,55.90 Z"/></clipPath><clipPath id="f27e2"><path d="M9.50,55.90 Q15.08,50.57 21.90,55.90 Q16.32,59.75 9.50,55.90 Z"/></clipPath></defs><use href="#neck" fill="#c8a28e"/><use href="#neck" fill="url(#neckg)"/><g clip-path="url(#nc)"><use href="#jaw" stroke="#2a1008" stroke-width="5" opacity="0.12" filter="url(#b2)"/></g><use href="#earL" fill="#b2907e"/><use href="#earR" fill="#b2907e"/><g fill="#dab09b" opacity="0.8" filter="url(#b06)"><ellipse cx="-35.2" cy="57.5" rx="1.1" ry="6"/><ellipse cx="35.2" cy="57.5" rx="1.1" ry="6"/></g><use href="#earsh" fill="#3a2010" opacity="0.3" filter="url(#b05)"/><use href="#head" fill="#deb49e"/><g clip-path="url(#hc)"><rect x="-33" y="0" width="66" height="42" fill="url(#topg)" opacity="1.00"/><use href="#head" fill="url(#rimg)" opacity="1.00"/><use href="#cran" stroke="#2a2018" stroke-width="12" opacity="0.22" filter="url(#b4)"/><use href="#head" fill="none" stroke="#2a2018" stroke-width="7" opacity="0.30" filter="url(#b2)"/><ellipse cx="0" cy="38" rx="13" ry="9" fill="#ebbfa7" opacity="0.60" filter="url(#b4)"/><ellipse cx="0" cy="44.5" rx="4.5" ry="3.5" fill="#e6bea8" opacity="0.60" filter="url(#b15)"/><g fill="#dea0a5" opacity="0.45" filter="url(#b4)"><ellipse cx="-16" cy="70.0" rx="11" ry="10"/><ellipse cx="16" cy="70.0" rx="11" ry="10"/></g><g fill="#3a1a10" opacity="0.32" filter="url(#b15)"><ellipse cx="-15.70" cy="55.20" rx="7.8" ry="4.4"/><ellipse cx="15.70" cy="55.20" rx="7.8" ry="4.4"/></g><g fill="#3a2214" opacity="0.15" filter="url(#b08)" transform="translate(0,47.20) scale(1,1.00) translate(0,-46.6)"><use href="#fbrowL" transform="rotate(0.00,-15,46.6)"/><use href="#fbrowR" transform="rotate(-0.00,15,46.6)"/></g><path d="M0,49 L0,69" stroke="#f0c2ab" stroke-width="3.5" opacity="0.35" filter="url(#b1)"/><use href="#nsides" stroke="#4a2010" stroke-width="2.6" opacity="0.45" filter="url(#b1)"/><ellipse cx="0" cy="71.3" rx="4.6" ry="3.6" fill="#f0c2ab" opacity="0.45" filter="url(#b1)"/><use href="#alae" stroke="#3a140a" stroke-width="1.8" opacity="0.45" filter="url(#b1)"/><use href="#nostril" stroke="#3a140a" stroke-width="1.3" opacity="0.39" filter="url(#b08)"/><use href="#nostrils" fill="#2a0a04" opacity="0.55" filter="url(#b06)"/><g fill="#f4e4dc" opacity="0.80" filter="url(#b15)"><path d="M-25.20,52.50 Q-15.70,39.20 -7.15,52.10 Q-15.70,51.10 -25.20,52.50 Z"/><path d="M25.20,52.50 Q15.70,39.20 7.15,52.10 Q15.70,51.10 25.20,52.50 Z"/></g><g fill="#3a1208" opacity="0.35" filter="url(#b08)"><ellipse cx="-15.70" cy="53.70" rx="7.13" ry="1.4"/><ellipse cx="15.70" cy="53.70" rx="7.13" ry="1.4"/></g><ellipse cx="0" cy="77" rx="5" ry="1.3" fill="#4a2012" opacity="0.15" filter="url(#b08)"/><ellipse cx="0" cy="81.4" rx="12" ry="3" fill="#3a3028" opacity="0.00" filter="url(#b15)"/><path d="M-22,84 Q-16,100 0,104 Q16,100 22,84 Q12,90 0,95 Q-12,90 -22,84Z" fill="#3a3028" opacity="0.00" filter="url(#b3)"/><g transform="translate(0,86.3) scale(1.05,1.30) translate(0,-86.3)"><use href="#lipu" fill="#b04660" filter="url(#b05)"/><use href="#lipl" fill="#de6c86" opacity="0.95" filter="url(#b06)"/><use href="#lipline" stroke="#5a1a14" stroke-width="0.8" opacity="0.60" filter="url(#b04)"/></g><ellipse cx="0" cy="93.2" rx="6" ry="1.2" fill="#4a2012" opacity="0.20" filter="url(#b08)"/><ellipse cx="0" cy="98" rx="8" ry="4.5" fill="#ecbaaa" opacity="0.50" filter="url(#b2)"/><g filter="url(#b04)"><path d="M-21.90,55.90 Q-16.32,50.57 -9.50,55.90 Q-15.08,59.75 -21.90,55.90 Z" fill="#c4bab8"/><ellipse cx="-15.70" cy="55.60" rx="2.60" ry="2.73" fill="#140806" clip-path="url(#f27e0)"/><path d="M-21.90,55.90 Q-16.32,50.57 -9.50,55.90" stroke="#1e0c06" stroke-width="1.20" fill="none" opacity="0.8"/></g><g filter="url(#b04)"><path d="M9.50,55.90 Q15.08,50.57 21.90,55.90 Q16.32,59.75 9.50,55.90 Z" fill="#c4bab8"/><ellipse cx="15.70" cy="55.60" rx="2.60" ry="2.73" fill="#140806" clip-path="url(#f27e2)"/><path d="M9.50,55.90 Q15.08,50.57 21.90,55.90" stroke="#1e0c06" stroke-width="1.20" fill="none" opacity="0.8"/></g></g><g clip-path="url(#hnc)"><use href="#jaw" stroke="#2a1a10" stroke-width="1.3" opacity="0.32" filter="url(#b06)" transform="translate(0,0.2)"/></g></g>
<g transform="translate(183.60,931.40) scale(1.000,1)" filter="url(#bf)"><defs><clipPath id="f28e0"><path d="M-20.60,55.20 Q-15.29,50.06 -8.80,55.20 Q-14.11,58.90 -20.60,55.20 Z"/></clipPath><clipPath id="f28e2"><path d="M8.80,55.20 Q14.11,50.06 20.60,55.20 Q15.29,58.90 8.80,55.20 Z"/></clipPath></defs><use href="#neck" fill="#c6957c"/><use href="#neck" fill="url(#neckg)"/><g clip-path="url(#nc)"><use href="#jaw" stroke="#2a1008" stroke-width="5" opacity="0.12" filter="url(#b2)"/></g><use href="#earL" fill="#b0856e"/><use href="#earR" fill="#b0856e"/><g fill="#d8a387" opacity="0.8" filter="url(#b06)"><ellipse cx="-35.2" cy="57.5" rx="1.1" ry="6"/><ellipse cx="35.2" cy="57.5" rx="1.1" ry="6"/></g><use href="#earsh" fill="#3a2010" opacity="0.3" filter="url(#b05)"/><use href="#head" fill="#dca68a"/><g clip-path="url(#hc)"><rect x="-33" y="0" width="66" height="42" fill="url(#topg)" opacity="1.00"/><use href="#head" fill="url(#rimg)" opacity="1.00"/><use href="#cran" stroke="#2a2018" stroke-width="12" opacity="0.22" filter="url(#b4)"/><use href="#head" fill="none" stroke="#2a2018" stroke-width="7" opacity="0.30" filter="url(#b2)"/><ellipse cx="0" cy="38" rx="13" ry="9" fill="#e9b092" opacity="0.60" filter="url(#b4)"/><ellipse cx="0" cy="44.5" rx="4.5" ry="3.5" fill="#e5b49a" opacity="0.60" filter="url(#b15)"/><g fill="#ec968c" opacity="0.42" filter="url(#b4)"><ellipse cx="-16" cy="70.0" rx="11" ry="10"/><ellipse cx="16" cy="70.0" rx="11" ry="10"/></g><g fill="#3a1a10" opacity="0.32" filter="url(#b15)"><ellipse cx="-14.70" cy="54.50" rx="7.8" ry="4.4"/><ellipse cx="14.70" cy="54.50" rx="7.8" ry="4.4"/></g><g fill="#3a2214" opacity="0.50" filter="url(#b08)" transform="translate(0,47.20) scale(1,1.00) translate(0,-46.6)"><use href="#fbrowL" transform="rotate(0.00,-15,46.6)"/><use href="#fbrowR" transform="rotate(-0.00,15,46.6)"/></g><path d="M0,49 L0,69" stroke="#eeb395" stroke-width="3.5" opacity="0.35" filter="url(#b1)"/><use href="#nsides" stroke="#4a2010" stroke-width="2.6" opacity="0.30" filter="url(#b1)"/><ellipse cx="0" cy="71.3" rx="4.6" ry="3.6" fill="#eeb395" opacity="0.45" filter="url(#b1)"/><use href="#alae" stroke="#3a140a" stroke-width="1.8" opacity="0.45" filter="url(#b1)"/><use href="#nostril" stroke="#3a140a" stroke-width="1.3" opacity="0.39" filter="url(#b08)"/><use href="#nostrils" fill="#2a0a04" opacity="0.55" filter="url(#b06)"/><g fill="#f4e4dc" opacity="0.20" filter="url(#b15)"><path d="M-24.20,51.80 Q-14.70,38.50 -6.15,51.40 Q-14.70,50.40 -24.20,51.80 Z"/><path d="M24.20,51.80 Q14.70,38.50 6.15,51.40 Q14.70,50.40 24.20,51.80 Z"/></g><g fill="#3a1208" opacity="0.35" filter="url(#b08)"><ellipse cx="-14.70" cy="53.00" rx="6.79" ry="1.4"/><ellipse cx="14.70" cy="53.00" rx="6.79" ry="1.4"/></g><ellipse cx="0" cy="77" rx="5" ry="1.3" fill="#4a2012" opacity="0.15" filter="url(#b08)"/><ellipse cx="0" cy="81.4" rx="12" ry="3" fill="#3a3028" opacity="0.00" filter="url(#b15)"/><path d="M-22,84 Q-16,100 0,104 Q16,100 22,84 Q12,90 0,95 Q-12,90 -22,84Z" fill="#3a3028" opacity="0.00" filter="url(#b3)"/><g transform="translate(0,86.3) scale(1.04,1.15) translate(0,-86.3)"><use href="#lipu" fill="#b45260" filter="url(#b05)"/><use href="#lipl" fill="#e47682" opacity="0.95" filter="url(#b06)"/><use href="#lipline" stroke="#5a1a14" stroke-width="0.8" opacity="0.60" filter="url(#b04)"/></g><ellipse cx="0" cy="93.2" rx="6" ry="1.2" fill="#4a2012" opacity="0.20" filter="url(#b08)"/><ellipse cx="0" cy="98" rx="8" ry="4.5" fill="#e8a08c" opacity="0.50" filter="url(#b2)"/><g filter="url(#b04)"><path d="M-20.60,55.20 Q-15.29,50.06 -8.80,55.20 Q-14.11,58.90 -20.60,55.20 Z" fill="#b4aaa8"/><ellipse cx="-14.70" cy="54.90" rx="2.65" ry="2.78" fill="#140806" clip-path="url(#f28e0)"/><path d="M-20.60,55.20 Q-15.29,50.06 -8.80,55.20" stroke="#1e0c06" stroke-width="1.20" fill="none" opacity="0.8"/></g><g filter="url(#b04)"><path d="M8.80,55.20 Q14.11,50.06 20.60,55.20 Q15.29,58.90 8.80,55.20 Z" fill="#b4aaa8"/><ellipse cx="14.70" cy="54.90" rx="2.65" ry="2.78" fill="#140806" clip-path="url(#f28e2)"/><path d="M8.80,55.20 Q14.11,50.06 20.60,55.20" stroke="#1e0c06" stroke-width="1.20" fill="none" opacity="0.8"/></g></g><g clip-path="url(#hnc)"><use href="#jaw" stroke="#2a1a10" stroke-width="1.3" opacity="0.32" filter="url(#b06)" transform="translate(0,0.2)"/></g></g>
<g transform="translate(322.70,931.40) scale(1.000,1)" filter="url(#bf)"><defs><clipPath id="f29e0"><path d="M-20.60,55.20 Q-15.29,50.06 -8.80,55.20 Q-14.11,58.90 -20.60,55.20 Z"/></clipPath><clipPath id="f29e2"><path d="M8.80,55.20 Q14.11,50.06 20.60,55.20 Q15.29,58.90 8.80,55.20 Z"/></clipPath></defs><use href="#neck" fill="#c69277"/><use href="#neck" fill="url(#neckg)"/><g clip-path="url(#nc)"><use href="#jaw" stroke="#2a1008" stroke-width="5" opacity="0.12" filter="url(#b2)"/></g><use href="#earL" fill="#b0826a"/><use href="#earR" fill="#b0826a"/><g fill="#d79f82" opacity="0.8" filter="url(#b06)"><ellipse cx="-35.2" cy="57.5" rx="1.1" ry="6"/><ellipse cx="35.2" cy="57.5" rx="1.1" ry="6"/></g><use href="#earsh" fill="#3a2010" opacity="0.3" filter="url(#b05)"/><use href="#head" fill="#dca284"/><g clip-path="url(#hc)"><rect x="-33" y="0" width="66" height="42" fill="url(#topg)" opacity="1.00"/><use href="#head" fill="url(#rimg)" opacity="1.00"/><use href="#cran" stroke="#2a2018" stroke-width="12" opacity="0.22" filter="url(#b4)"/><use href="#head" fill="none" stroke="#2a2018" stroke-width="7" opacity="0.30" filter="url(#b2)"/><ellipse cx="0" cy="38" rx="13" ry="9" fill="#e9ac8c" opacity="0.60" filter="url(#b4)"/><ellipse cx="0" cy="44.5" rx="4.5" ry="3.5" fill="#e4b095" opacity="0.60" filter="url(#b15)"/><g fill="#ec968c" opacity="0.42" filter="url(#b4)"><ellipse cx="-16" cy="70.0" rx="11" ry="10"/><ellipse cx="16" cy="70.0" rx="11" ry="10"/></g><g fill="#3a1a10" opacity="0.32" filter="url(#b15)"><ellipse cx="-14.70" cy="54.50" rx="7.8" ry="4.4"/><ellipse cx="14.70" cy="54.50" rx="7.8" ry="4.4"/></g><g fill="#3a2214" opacity="0.58" filter="url(#b08)" transform="translate(0,47.20) scale(1,1.00) translate(0,-46.6)"><use href="#fbrowL" transform="rotate(0.00,-15,46.6)"/><use href="#fbrowR" transform="rotate(-0.00,15,46.6)"/></g><path d="M0,49 L0,69" stroke="#edaf8f" stroke-width="3.5" opacity="0.35" filter="url(#b1)"/><use href="#nsides" stroke="#4a2010" stroke-width="2.6" opacity="0.30" filter="url(#b1)"/><ellipse cx="0" cy="71.3" rx="4.6" ry="3.6" fill="#edaf8f" opacity="0.45" filter="url(#b1)"/><use href="#alae" stroke="#3a140a" stroke-width="1.8" opacity="0.45" filter="url(#b1)"/><use href="#nostril" stroke="#3a140a" stroke-width="1.3" opacity="0.39" filter="url(#b08)"/><use href="#nostrils" fill="#2a0a04" opacity="0.55" filter="url(#b06)"/><g fill="#f4e4dc" opacity="0.13" filter="url(#b15)"><path d="M-23.20,51.80 Q-14.70,38.50 -7.05,51.40 Q-14.70,50.40 -23.20,51.80 Z"/><path d="M23.20,51.80 Q14.70,38.50 7.05,51.40 Q14.70,50.40 23.20,51.80 Z"/></g><g fill="#3a1208" opacity="0.35" filter="url(#b08)"><ellipse cx="-14.70" cy="53.00" rx="6.79" ry="1.4"/><ellipse cx="14.70" cy="53.00" rx="6.79" ry="1.4"/></g><ellipse cx="0" cy="77" rx="5" ry="1.3" fill="#4a2012" opacity="0.15" filter="url(#b08)"/><ellipse cx="0" cy="81.4" rx="12" ry="3" fill="#3a3028" opacity="0.00" filter="url(#b15)"/><path d="M-22,84 Q-16,100 0,104 Q16,100 22,84 Q12,90 0,95 Q-12,90 -22,84Z" fill="#3a3028" opacity="0.00" filter="url(#b3)"/><g transform="translate(0,86.3) scale(1.04,1.15) translate(0,-86.3)"><use href="#lipu" fill="#b45260" filter="url(#b05)"/><use href="#lipl" fill="#e47682" opacity="0.95" filter="url(#b06)"/><use href="#lipline" stroke="#5a1a14" stroke-width="0.8" opacity="0.60" filter="url(#b04)"/></g><ellipse cx="0" cy="93.2" rx="6" ry="1.2" fill="#4a2012" opacity="0.20" filter="url(#b08)"/><ellipse cx="0" cy="98" rx="8" ry="4.5" fill="#e8a08c" opacity="0.50" filter="url(#b2)"/><g filter="url(#b04)"><path d="M-20.60,55.20 Q-15.29,50.06 -8.80,55.20 Q-14.11,58.90 -20.60,55.20 Z" fill="#b4aaa8"/><ellipse cx="-14.70" cy="54.90" rx="2.65" ry="2.78" fill="#140806" clip-path="url(#f29e0)"/><path d="M-20.60,55.20 Q-15.29,50.06 -8.80,55.20" stroke="#1e0c06" stroke-width="1.20" fill="none" opacity="0.8"/></g><g filter="url(#b04)"><path d="M8.80,55.20 Q14.11,50.06 20.60,55.20 Q15.29,58.90 8.80,55.20 Z" fill="#b4aaa8"/><ellipse cx="14.70" cy="54.90" rx="2.65" ry="2.78" fill="#140806" clip-path="url(#f29e2)"/><path d="M8.80,55.20 Q14.11,50.06 20.60,55.20" stroke="#1e0c06" stroke-width="1.20" fill="none" opacity="0.8"/></g></g><g clip-path="url(#hnc)"><use href="#jaw" stroke="#2a1a10" stroke-width="1.3" opacity="0.32" filter="url(#b06)" transform="translate(0,0.2)"/></g></g>
<g transform="translate(461.80,931.40) scale(1.000,1)" filter="url(#bf)"><defs><clipPath id="f30e0"><path d="M-20.60,55.20 Q-15.29,50.06 -8.80,55.20 Q-14.11,58.90 -20.60,55.20 Z"/></clipPath><clipPath id="f30e2"><path d="M8.80,55.20 Q14.11,50.06 20.60,55.20 Q15.29,58.90 8.80,55.20 Z"/></clipPath></defs><use href="#neck" fill="#c58e72"/><use href="#neck" fill="url(#neckg)"/><g clip-path="url(#nc)"><use href="#jaw" stroke="#2a1008" stroke-width="5" opacity="0.12" filter="url(#b2)"/></g><use href="#earL" fill="#af7e65"/><use href="#earR" fill="#af7e65"/><g fill="#d79b7c" opacity="0.8" filter="url(#b06)"><ellipse cx="-35.2" cy="57.5" rx="1.1" ry="6"/><ellipse cx="35.2" cy="57.5" rx="1.1" ry="6"/></g><use href="#earsh" fill="#3a2010" opacity="0.3" filter="url(#b05)"/><use href="#head" fill="#db9e7f"/><g clip-path="url(#hc)"><rect x="-33" y="0" width="66" height="42" fill="url(#topg)" opacity="1.00"/><use href="#head" fill="url(#rimg)" opacity="1.00"/><use href="#cran" stroke="#2a2018" stroke-width="12" opacity="0.22" filter="url(#b4)"/><use href="#head" fill="none" stroke="#2a2018" stroke-width="7" opacity="0.30" filter="url(#b2)"/><ellipse cx="0" cy="38" rx="13" ry="9" fill="#e8a786" opacity="0.60" filter="url(#b4)"/><ellipse cx="0" cy="44.5" rx="4.5" ry="3.5" fill="#e4ae91" opacity="0.60" filter="url(#b15)"/><g fill="#ec968c" opacity="0.42" filter="url(#b4)"><ellipse cx="-16" cy="70.0" rx="11" ry="10"/><ellipse cx="16" cy="70.0" rx="11" ry="10"/></g><g fill="#3a1a10" opacity="0.32" filter="url(#b15)"><ellipse cx="-14.70" cy="54.50" rx="7.8" ry="4.4"/><ellipse cx="14.70" cy="54.50" rx="7.8" ry="4.4"/></g><g fill="#3a2214" opacity="0.67" filter="url(#b08)" transform="translate(0,47.20) scale(1,1.00) translate(0,-46.6)"><use href="#fbrowL" transform="rotate(0.00,-15,46.6)"/><use href="#fbrowR" transform="rotate(-0.00,15,46.6)"/></g><path d="M0,49 L0,69" stroke="#edab89" stroke-width="3.5" opacity="0.35" filter="url(#b1)"/><use href="#nsides" stroke="#4a2010" stroke-width="2.6" opacity="0.30" filter="url(#b1)"/><ellipse cx="0" cy="71.3" rx="4.6" ry="3.6" fill="#edab89" opacity="0.45" filter="url(#b1)"/><use href="#alae" stroke="#3a140a" stroke-width="1.8" opacity="0.45" filter="url(#b1)"/><use href="#nostril" stroke="#3a140a" stroke-width="1.3" opacity="0.39" filter="url(#b08)"/><use href="#nostrils" fill="#2a0a04" opacity="0.55" filter="url(#b06)"/><g fill="#f4e4dc" opacity="0.07" filter="url(#b15)"><path d="M-23.20,51.80 Q-14.70,38.50 -7.05,51.40 Q-14.70,50.40 -23.20,51.80 Z"/><path d="M23.20,51.80 Q14.70,38.50 7.05,51.40 Q14.70,50.40 23.20,51.80 Z"/></g><g fill="#3a1208" opacity="0.35" filter="url(#b08)"><ellipse cx="-14.70" cy="53.00" rx="6.79" ry="1.4"/><ellipse cx="14.70" cy="53.00" rx="6.79" ry="1.4"/></g><ellipse cx="0" cy="77" rx="5" ry="1.3" fill="#4a2012" opacity="0.15" filter="url(#b08)"/><ellipse cx="0" cy="81.4" rx="12" ry="3" fill="#3a3028" opacity="0.00" filter="url(#b15)"/><path d="M-22,84 Q-16,100 0,104 Q16,100 22,84 Q12,90 0,95 Q-12,90 -22,84Z" fill="#3a3028" opacity="0.00" filter="url(#b3)"/><g transform="translate(0,86.3) scale(1.04,1.15) translate(0,-86.3)"><use href="#lipu" fill="#b45260" filter="url(#b05)"/><use href="#lipl" fill="#e47682" opacity="0.95" filter="url(#b06)"/><use href="#lipline" stroke="#5a1a14" stroke-width="0.8" opacity="0.60" filter="url(#b04)"/></g><ellipse cx="0" cy="93.2" rx="6" ry="1.2" fill="#4a2012" opacity="0.20" filter="url(#b08)"/><ellipse cx="0" cy="98" rx="8" ry="4.5" fill="#e8a08c" opacity="0.50" filter="url(#b2)"/><g filter="url(#b04)"><path d="M-20.60,55.20 Q-15.29,50.06 -8.80,55.20 Q-14.11,58.90 -20.60,55.20 Z" fill="#b4aaa8"/><ellipse cx="-14.70" cy="54.90" rx="2.65" ry="2.78" fill="#140806" clip-path="url(#f30e0)"/><path d="M-20.60,55.20 Q-15.29,50.06 -8.80,55.20" stroke="#1e0c06" stroke-width="1.20" fill="none" opacity="0.8"/></g><g filter="url(#b04)"><path d="M8.80,55.20 Q14.11,50.06 20.60,55.20 Q15.29,58.90 8.80,55.20 Z" fill="#b4aaa8"/><ellipse cx="14.70" cy="54.90" rx="2.65" ry="2.78" fill="#140806" clip-path="url(#f30e2)"/><path d="M8.80,55.20 Q14.11,50.06 20.60,55.20" stroke="#1e0c06" stroke-width="1.20" fill="none" opacity="0.8"/></g></g><g clip-path="url(#hnc)"><use href="#jaw" stroke="#2a1a10" stroke-width="1.3" opacity="0.32" filter="url(#b06)" transform="translate(0,0.2)"/></g></g>
<g transform="translate(600.90,931.40) scale(1.000,1)" filter="url(#bf)"><defs><clipPath id="f31e0"><path d="M-20.60,55.20 Q-15.29,50.06 -8.80,55.20 Q-14.11,58.90 -20.60,55.20 Z"/></clipPath><clipPath id="f31e2"><path d="M8.80,55.20 Q14.11,50.06 20.60,55.20 Q15.29,58.90 8.80,55.20 Z"/></clipPath></defs><use href="#neck" fill="#c58b6d"/><use href="#neck" fill="url(#neckg)"/><g clip-path="url(#nc)"><use href="#jaw" stroke="#2a1008" stroke-width="5" opacity="0.12" filter="url(#b2)"/></g><use href="#earL" fill="#af7b61"/><use href="#earR" fill="#af7b61"/><g fill="#d79777" opacity="0.8" filter="url(#b06)"><ellipse cx="-35.2" cy="57.5" rx="1.1" ry="6"/><ellipse cx="35.2" cy="57.5" rx="1.1" ry="6"/></g><use href="#earsh" fill="#3a2010" opacity="0.3" filter="url(#b05)"/><use href="#head" fill="#db9a79"/><g clip-path="url(#hc)"><rect x="-33" y="0" width="66" height="42" fill="url(#topg)" opacity="1.00"/><use href="#head" fill="url(#rimg)" opacity="1.00"/><use href="#cran" stroke="#2a2018" stroke-width="12" opacity="0.22" filter="url(#b4)"/><use href="#head" fill="none" stroke="#2a2018" stroke-width="7" opacity="0.30" filter="url(#b2)"/><ellipse cx="0" cy="38" rx="13" ry="9" fill="#e8a380" opacity="0.60" filter="url(#b4)"/><ellipse cx="0" cy="44.5" rx="4.5" ry="3.5" fill="#e4aa8d" opacity="0.60" filter="url(#b15)"/><g fill="#ec968c" opacity="0.42" filter="url(#b4)"><ellipse cx="-16" cy="70.0" rx="11" ry="10"/><ellipse cx="16" cy="70.0" rx="11" ry="10"/></g><g fill="#3a1a10" opacity="0.32" filter="url(#b15)"><ellipse cx="-14.70" cy="54.50" rx="7.8" ry="4.4"/><ellipse cx="14.70" cy="54.50" rx="7.8" ry="4.4"/></g><g fill="#3a2214" opacity="0.75" filter="url(#b08)" transform="translate(0,47.20) scale(1,1.00) translate(0,-46.6)"><use href="#fbrowL" transform="rotate(0.00,-15,46.6)"/><use href="#fbrowR" transform="rotate(-0.00,15,46.6)"/></g><path d="M0,49 L0,69" stroke="#eda683" stroke-width="3.5" opacity="0.35" filter="url(#b1)"/><use href="#nsides" stroke="#4a2010" stroke-width="2.6" opacity="0.30" filter="url(#b1)"/><ellipse cx="0" cy="71.3" rx="4.6" ry="3.6" fill="#eda683" opacity="0.45" filter="url(#b1)"/><use href="#alae" stroke="#3a140a" stroke-width="1.8" opacity="0.45" filter="url(#b1)"/><use href="#nostril" stroke="#3a140a" stroke-width="1.3" opacity="0.39" filter="url(#b08)"/><use href="#nostrils" fill="#2a0a04" opacity="0.55" filter="url(#b06)"/><g fill="#3a1208" opacity="0.35" filter="url(#b08)"><ellipse cx="-14.70" cy="53.00" rx="6.79" ry="1.4"/><ellipse cx="14.70" cy="53.00" rx="6.79" ry="1.4"/></g><ellipse cx="0" cy="77" rx="5" ry="1.3" fill="#4a2012" opacity="0.15" filter="url(#b08)"/><ellipse cx="0" cy="81.4" rx="12" ry="3" fill="#3a3028" opacity="0.00" filter="url(#b15)"/><path d="M-22,84 Q-16,100 0,104 Q16,100 22,84 Q12,90 0,95 Q-12,90 -22,84Z" fill="#3a3028" opacity="0.00" filter="url(#b3)"/><g transform="translate(0,86.3) scale(1.04,1.15) translate(0,-86.3)"><use href="#lipu" fill="#b45260" filter="url(#b05)"/><use href="#lipl" fill="#e47682" opacity="0.95" filter="url(#b06)"/><use href="#lipline" stroke="#5a1a14" stroke-width="0.8" opacity="0.60" filter="url(#b04)"/></g><ellipse cx="0" cy="93.2" rx="6" ry="1.2" fill="#4a2012" opacity="0.20" filter="url(#b08)"/><ellipse cx="0" cy="98" rx="8" ry="4.5" fill="#e8a08c" opacity="0.50" filter="url(#b2)"/><g filter="url(#b04)"><path d="M-20.60,55.20 Q-15.29,50.06 -8.80,55.20 Q-14.11,58.90 -20.60,55.20 Z" fill="#b4aaa8"/><ellipse cx="-14.70" cy="54.90" rx="2.65" ry="2.78" fill="#140806" clip-path="url(#f31e0)"/><path d="M-20.60,55.20 Q-15.29,50.06 -8.80,55.20" stroke="#1e0c06" stroke-width="1.20" fill="none" opacity="0.8"/></g><g filter="url(#b04)"><path d="M8.80,55.20 Q14.11,50.06 20.60,55.20 Q15.29,58.90 8.80,55.20 Z" fill="#b4aaa8"/><ellipse cx="14.70" cy="54.90" rx="2.65" ry="2.78" fill="#140806" clip-path="url(#f31e2)"/><path d="M8.80,55.20 Q14.11,50.06 20.60,55.20" stroke="#1e0c06" stroke-width="1.20" fill="none" opacity="0.8"/></g></g><g clip-path="url(#hnc)"><use href="#jaw" stroke="#2a1a10" stroke-width="1.3" opacity="0.32" filter="url(#b06)" transform="translate(0,0.2)"/></g></g>
<g transform="translate(740.00,931.40) scale(1.000,1)" filter="url(#bf)"><defs><clipPath id="f32e0"><path d="M-20.60,55.20 Q-15.29,50.06 -8.80,55.20 Q-14.11,58.90 -20.60,55.20 Z"/></clipPath><clipPath id="f32e2"><path d="M8.80,55.20 Q14.11,50.06 20.60,55.20 Q15.29,58.90 8.80,55.20 Z"/></clipPath></defs><use href="#neck" fill="#c48667"/><use href="#neck" fill="url(#neckg)"/><g clip-path="url(#nc)"><use href="#jaw" stroke="#2a1008" stroke-width="5" opacity="0.12" filter="url(#b2)"/></g><use href="#earL" fill="#ae775b"/><use href="#earR" fill="#ae775b"/><g fill="#d59170" opacity="0.8" filter="url(#b06)"><ellipse cx="-35.2" cy="57.5" rx="1.1" ry="6"/><ellipse cx="35.2" cy="57.5" rx="1.1" ry="6"/></g><use href="#earsh" fill="#3a2010" opacity="0.3" filter="url(#b05)"/><use href="#head" fill="#da9472"/><g clip-path="url(#hc)"><rect x="-33" y="0" width="66" height="42" fill="url(#topg)" opacity="1.00"/><use href="#head" fill="url(#rimg)" opacity="1.00"/><use href="#cran" stroke="#2a2018" stroke-width="12" opacity="0.22" filter="url(#b4)"/><use href="#head" fill="none" stroke="#2a2018" stroke-width="7" opacity="0.30" filter="url(#b2)"/><ellipse cx="0" cy="38" rx="13" ry="9" fill="#e79d79" opacity="0.60" filter="url(#b4)"/><ellipse cx="0" cy="44.5" rx="4.5" ry="3.5" fill="#e3a688" opacity="0.60" filter="url(#b15)"/><g fill="#ec968c" opacity="0.42" filter="url(#b4)"><ellipse cx="-16" cy="70.0" rx="11" ry="10"/><ellipse cx="16" cy="70.0" rx="11" ry="10"/></g><g fill="#3a1a10" opacity="0.32" filter="url(#b15)"><ellipse cx="-14.70" cy="54.50" rx="7.8" ry="4.4"/><ellipse cx="14.70" cy="54.50" rx="7.8" ry="4.4"/></g><g fill="#3a2214" opacity="0.77" filter="url(#b08)" transform="translate(0,47.20) scale(1,0.87) translate(0,-46.6)"><use href="#fbrowL" transform="rotate(0.00,-15,46.6)"/><use href="#fbrowR" transform="rotate(-0.00,15,46.6)"/></g><path d="M0,49 L0,69" stroke="#eba07b" stroke-width="3.5" opacity="0.35" filter="url(#b1)"/><use href="#nsides" stroke="#4a2010" stroke-width="2.6" opacity="0.30" filter="url(#b1)"/><ellipse cx="0" cy="71.3" rx="4.6" ry="3.6" fill="#eba07b" opacity="0.45" filter="url(#b1)"/><use href="#alae" stroke="#3a140a" stroke-width="1.8" opacity="0.45" filter="url(#b1)"/><use href="#nostril" stroke="#3a140a" stroke-width="1.3" opacity="0.39" filter="url(#b08)"/><use href="#nostrils" fill="#2a0a04" opacity="0.55" filter="url(#b06)"/><g fill="#3a1208" opacity="0.35" filter="url(#b08)"><ellipse cx="-14.70" cy="53.00" rx="6.79" ry="1.4"/><ellipse cx="14.70" cy="53.00" rx="6.79" ry="1.4"/></g><ellipse cx="0" cy="77" rx="5" ry="1.3" fill="#4a2012" opacity="0.15" filter="url(#b08)"/><ellipse cx="0" cy="81.4" rx="12" ry="3" fill="#3a3028" opacity="0.03" filter="url(#b15)"/><path d="M-22,84 Q-16,100 0,104 Q16,100 22,84 Q12,90 0,95 Q-12,90 -22,84Z" fill="#3a3028" opacity="0.01" filter="url(#b3)"/><g transform="translate(0,86.3) scale(1.03,1.10) translate(0,-86.3)"><use href="#lipu" fill="#b45260" filter="url(#b05)"/><use href="#lipl" fill="#e47682" opacity="0.95" filter="url(#b06)"/><use href="#lipline" stroke="#5a1a14" stroke-width="0.8" opacity="0.60" filter="url(#b04)"/></g><ellipse cx="0" cy="93.2" rx="6" ry="1.2" fill="#4a2012" opacity="0.20" filter="url(#b08)"/><ellipse cx="0" cy="98" rx="8" ry="4.5" fill="#e8a08c" opacity="0.50" filter="url(#b2)"/><g filter="url(#b04)"><path d="M-20.60,55.20 Q-15.29,50.06 -8.80,55.20 Q-14.11,58.90 -20.60,55.20 Z" fill="#b4aaa8"/><ellipse cx="-14.70" cy="54.90" rx="2.65" ry="2.78" fill="#140806" clip-path="url(#f32e0)"/><path d="M-20.60,55.20 Q-15.29,50.06 -8.80,55.20" stroke="#1e0c06" stroke-width="1.20" fill="none" opacity="0.8"/></g><g filter="url(#b04)"><path d="M8.80,55.20 Q14.11,50.06 20.60,55.20 Q15.29,58.90 8.80,55.20 Z" fill="#b4aaa8"/><ellipse cx="14.70" cy="54.90" rx="2.65" ry="2.78" fill="#140806" clip-path="url(#f32e2)"/><path d="M8.80,55.20 Q14.11,50.06 20.60,55.20" stroke="#1e0c06" stroke-width="1.20" fill="none" opacity="0.8"/></g></g><g clip-path="url(#hnc)"><use href="#jaw" stroke="#2a1a10" stroke-width="1.3" opacity="0.32" filter="url(#b06)" transform="translate(0,0.2)"/></g></g>
<g transform="translate(879.10,931.40) scale(1.000,1)" filter="url(#bf)"><defs><clipPath id="f33e0"><path d="M-20.60,55.20 Q-15.29,50.06 -8.80,55.20 Q-14.11,58.90 -20.60,55.20 Z"/></clipPath><clipPath id="f33e2"><path d="M8.80,55.20 Q14.11,50.06 20.60,55.20 Q15.29,58.90 8.80,55.20 Z"/></clipPath></defs><use href="#neck" fill="#c38060"/><use href="#neck" fill="url(#neckg)"/><g clip-path="url(#nc)"><use href="#jaw" stroke="#2a1008" stroke-width="5" opacity="0.12" filter="url(#b2)"/></g><use href="#earL" fill="#ad7256"/><use href="#earR" fill="#ad7256"/><g fill="#d48c69" opacity="0.8" filter="url(#b06)"><ellipse cx="-35.2" cy="57.5" rx="1.1" ry="6"/><ellipse cx="35.2" cy="57.5" rx="1.1" ry="6"/></g><use href="#earsh" fill="#3a2010" opacity="0.3" filter="url(#b05)"/><use href="#head" fill="#d88f6b"/><g clip-path="url(#hc)"><rect x="-33" y="0" width="66" height="42" fill="url(#topg)" opacity="1.00"/><use href="#head" fill="url(#rimg)" opacity="1.00"/><use href="#cran" stroke="#2a2018" stroke-width="12" opacity="0.22" filter="url(#b4)"/><use href="#head" fill="none" stroke="#2a2018" stroke-width="7" opacity="0.30" filter="url(#b2)"/><ellipse cx="0" cy="38" rx="13" ry="9" fill="#e59771" opacity="0.60" filter="url(#b4)"/><ellipse cx="0" cy="44.5" rx="4.5" ry="3.5" fill="#e2a282" opacity="0.60" filter="url(#b15)"/><g fill="#ec968c" opacity="0.42" filter="url(#b4)"><ellipse cx="-16" cy="70.0" rx="11" ry="10"/><ellipse cx="16" cy="70.0" rx="11" ry="10"/></g><g fill="#3a1a10" opacity="0.32" filter="url(#b15)"><ellipse cx="-14.70" cy="54.50" rx="7.8" ry="4.4"/><ellipse cx="14.70" cy="54.50" rx="7.8" ry="4.4"/></g><g fill="#3a2014" opacity="0.78" filter="url(#b08)" transform="translate(0,47.20) scale(1,0.73) translate(0,-46.6)"><use href="#browL" transform="rotate(0.00,-15,46.6)"/><use href="#browR" transform="rotate(-0.00,15,46.6)"/></g><path d="M0,49 L0,69" stroke="#ea9a74" stroke-width="3.5" opacity="0.35" filter="url(#b1)"/><use href="#nsides" stroke="#4a2010" stroke-width="2.6" opacity="0.30" filter="url(#b1)"/><ellipse cx="0" cy="71.3" rx="4.6" ry="3.6" fill="#ea9a74" opacity="0.45" filter="url(#b1)"/><use href="#alae" stroke="#3a140a" stroke-width="1.8" opacity="0.45" filter="url(#b1)"/><use href="#nostril" stroke="#3a140a" stroke-width="1.3" opacity="0.39" filter="url(#b08)"/><use href="#nostrils" fill="#2a0a04" opacity="0.55" filter="url(#b06)"/><g fill="#3a1208" opacity="0.35" filter="url(#b08)"><ellipse cx="-14.70" cy="53.00" rx="6.79" ry="1.4"/><ellipse cx="14.70" cy="53.00" rx="6.79" ry="1.4"/></g><ellipse cx="0" cy="77" rx="5" ry="1.3" fill="#4a2012" opacity="0.15" filter="url(#b08)"/><ellipse cx="0" cy="81.4" rx="12" ry="3" fill="#3a3028" opacity="0.05" filter="url(#b15)"/><path d="M-22,84 Q-16,100 0,104 Q16,100 22,84 Q12,90 0,95 Q-12,90 -22,84Z" fill="#3a3028" opacity="0.03" filter="url(#b3)"/><g transform="translate(0,86.3) scale(1.01,1.05) translate(0,-86.3)"><use href="#lipu" fill="#b45260" filter="url(#b05)"/><use href="#lipl" fill="#e47682" opacity="0.95" filter="url(#b06)"/><use href="#lipline" stroke="#5a1a14" stroke-width="0.8" opacity="0.60" filter="url(#b04)"/></g><ellipse cx="0" cy="93.2" rx="6" ry="1.2" fill="#4a2012" opacity="0.20" filter="url(#b08)"/><ellipse cx="0" cy="98" rx="8" ry="4.5" fill="#e8a08c" opacity="0.50" filter="url(#b2)"/><g filter="url(#b04)"><path d="M-20.60,55.20 Q-15.29,50.06 -8.80,55.20 Q-14.11,58.90 -20.60,55.20 Z" fill="#b4aaa8"/><ellipse cx="-14.70" cy="54.90" rx="2.65" ry="2.78" fill="#140806" clip-path="url(#f33e0)"/><path d="M-20.60,55.20 Q-15.29,50.06 -8.80,55.20" stroke="#1e0c06" stroke-width="1.20" fill="none" opacity="0.8"/></g><g filter="url(#b04)"><path d="M8.80,55.20 Q14.11,50.06 20.60,55.20 Q15.29,58.90 8.80,55.20 Z" fill="#b4aaa8"/><ellipse cx="14.70" cy="54.90" rx="2.65" ry="2.78" fill="#140806" clip-path="url(#f33e2)"/><path d="M8.80,55.20 Q14.11,50.06 20.60,55.20" stroke="#1e0c06" stroke-width="1.20" fill="none" opacity="0.8"/></g></g><g clip-path="url(#hnc)"><use href="#jaw" stroke="#2a1a10" stroke-width="1.3" opacity="0.32" filter="url(#b06)" transform="translate(0,0.2)"/></g></g>
<g transform="translate(1018.20,931.40) scale(1.000,1)" filter="url(#bf)"><defs><clipPath id="f34e0"><path d="M-20.60,55.20 Q-15.29,50.06 -8.80,55.20 Q-14.11,58.90 -20.60,55.20 Z"/></clipPath><clipPath id="f34e2"><path d="M8.80,55.20 Q14.11,50.06 20.60,55.20 Q15.29,58.90 8.80,55.20 Z"/></clipPath></defs><use href="#neck" fill="#c27b5a"/><use href="#neck" fill="url(#neckg)"/><g clip-path="url(#nc)"><use href="#jaw" stroke="#2a1008" stroke-width="5" opacity="0.12" filter="url(#b2)"/></g><use href="#earL" fill="#ac6e50"/><use href="#earR" fill="#ac6e50"/><g fill="#d38662" opacity="0.8" filter="url(#b06)"><ellipse cx="-35.2" cy="57.5" rx="1.1" ry="6"/><ellipse cx="35.2" cy="57.5" rx="1.1" ry="6"/></g><use href="#earsh" fill="#3a2010" opacity="0.3" filter="url(#b05)"/><use href="#head" fill="#d78964"/><g clip-path="url(#hc)"><rect x="-33" y="0" width="66" height="42" fill="url(#topg)" opacity="1.00"/><use href="#head" fill="url(#rimg)" opacity="1.00"/><use href="#cran" stroke="#2a2018" stroke-width="12" opacity="0.22" filter="url(#b4)"/><use href="#head" fill="none" stroke="#2a2018" stroke-width="7" opacity="0.30" filter="url(#b2)"/><ellipse cx="0" cy="38" rx="13" ry="9" fill="#e4916a" opacity="0.60" filter="url(#b4)"/><ellipse cx="0" cy="44.5" rx="4.5" ry="3.5" fill="#e19e7d" opacity="0.60" filter="url(#b15)"/><g fill="#ec968c" opacity="0.42" filter="url(#b4)"><ellipse cx="-16" cy="70.0" rx="11" ry="10"/><ellipse cx="16" cy="70.0" rx="11" ry="10"/></g><g fill="#3a1a10" opacity="0.32" filter="url(#b15)"><ellipse cx="-14.70" cy="54.50" rx="7.8" ry="4.4"/><ellipse cx="14.70" cy="54.50" rx="7.8" ry="4.4"/></g><g fill="#3a2014" opacity="0.80" filter="url(#b08)" transform="translate(0,47.20) scale(1,0.60) translate(0,-46.6)"><use href="#browL" transform="rotate(0.00,-15,46.6)"/><use href="#browR" transform="rotate(-0.00,15,46.6)"/></g><path d="M0,49 L0,69" stroke="#e8946c" stroke-width="3.5" opacity="0.35" filter="url(#b1)"/><use href="#nsides" stroke="#4a2010" stroke-width="2.6" opacity="0.30" filter="url(#b1)"/><ellipse cx="0" cy="71.3" rx="4.6" ry="3.6" fill="#e8946c" opacity="0.45" filter="url(#b1)"/><use href="#alae" stroke="#3a140a" stroke-width="1.8" opacity="0.45" filter="url(#b1)"/><use href="#nostril" stroke="#3a140a" stroke-width="1.3" opacity="0.39" filter="url(#b08)"/><use href="#nostrils" fill="#2a0a04" opacity="0.55" filter="url(#b06)"/><g fill="#3a1208" opacity="0.35" filter="url(#b08)"><ellipse cx="-14.70" cy="53.00" rx="6.79" ry="1.4"/><ellipse cx="14.70" cy="53.00" rx="6.79" ry="1.4"/></g><ellipse cx="0" cy="77" rx="5" ry="1.3" fill="#4a2012" opacity="0.15" filter="url(#b08)"/><ellipse cx="0" cy="81.4" rx="12" ry="3" fill="#3a3028" opacity="0.08" filter="url(#b15)"/><path d="M-22,84 Q-16,100 0,104 Q16,100 22,84 Q12,90 0,95 Q-12,90 -22,84Z" fill="#3a3028" opacity="0.04" filter="url(#b3)"/><g transform="translate(0,86.3) scale(1.00,1.00) translate(0,-86.3)"><use href="#lipu" fill="#b45260" filter="url(#b05)"/><use href="#lipl" fill="#e47682" opacity="0.95" filter="url(#b06)"/><use href="#lipline" stroke="#5a1a14" stroke-width="0.8" opacity="0.60" filter="url(#b04)"/></g><ellipse cx="0" cy="93.2" rx="6" ry="1.2" fill="#4a2012" opacity="0.20" filter="url(#b08)"/><ellipse cx="0" cy="98" rx="8" ry="4.5" fill="#e8a08c" opacity="0.50" filter="url(#b2)"/><g filter="url(#b04)"><path d="M-20.60,55.20 Q-15.29,50.06 -8.80,55.20 Q-14.11,58.90 -20.60,55.20 Z" fill="#b4aaa8"/><ellipse cx="-14.70" cy="54.90" rx="2.65" ry="2.78" fill="#140806" clip-path="url(#f34e0)"/><path d="M-20.60,55.20 Q-15.29,50.06 -8.80,55.20" stroke="#1e0c06" stroke-width="1.20" fill="none" opacity="0.8"/></g><g filter="url(#b04)"><path d="M8.80,55.20 Q14.11,50.06 20.60,55.20 Q15.29,58.90 8.80,55.20 Z" fill="#b4aaa8"/><ellipse cx="14.70" cy="54.90" rx="2.65" ry="2.78" fill="#140806" clip-path="url(#f34e2)"/><path d="M8.80,55.20 Q14.11,50.06 20.60,55.20" stroke="#1e0c06" stroke-width="1.20" fill="none" opacity="0.8"/></g></g><g clip-path="url(#hnc)"><use href="#jaw" stroke="#2a1a10" stroke-width="1.3" opacity="0.32" filter="url(#b06)" transform="translate(0,0.2)"/></g></g>
<g transform="translate(1157.30,931.40) scale(0.980,1)" filter="url(#bf)"><defs><clipPath id="f35e0"><path d="M-20.00,54.70 Q-15.23,50.32 -9.40,54.70 Q-14.17,57.80 -20.00,54.70 Z"/></clipPath><clipPath id="f35e2"><path d="M9.40,54.70 Q14.17,50.32 20.00,54.70 Q15.23,57.80 9.40,54.70 Z"/></clipPath></defs><use href="#neck" fill="#bf704a"/><use href="#neck" fill="url(#neckg)"/><g clip-path="url(#nc)"><use href="#jaw" stroke="#2a1008" stroke-width="5" opacity="0.12" filter="url(#b2)"/></g><use href="#earL" fill="#aa6342"/><use href="#earR" fill="#aa6342"/><g fill="#d07a50" opacity="0.8" filter="url(#b06)"><ellipse cx="-35.2" cy="57.5" rx="1.1" ry="6"/><ellipse cx="35.2" cy="57.5" rx="1.1" ry="6"/></g><use href="#earsh" fill="#3a2010" opacity="0.3" filter="url(#b05)"/><use href="#head" fill="#d47c52"/><g clip-path="url(#hc)"><rect x="-33" y="0" width="66" height="42" fill="url(#topg)" opacity="1.00"/><use href="#head" fill="url(#rimg)" opacity="1.00"/><use href="#cran" stroke="#2a2018" stroke-width="12" opacity="0.22" filter="url(#b4)"/><use href="#head" fill="none" stroke="#2a2018" stroke-width="7" opacity="0.30" filter="url(#b2)"/><ellipse cx="0" cy="38" rx="13" ry="9" fill="#e18357" opacity="0.60" filter="url(#b4)"/><ellipse cx="0" cy="44.5" rx="4.5" ry="3.5" fill="#df9470" opacity="0.60" filter="url(#b15)"/><g fill="#ec8c73" opacity="0.42" filter="url(#b4)"><ellipse cx="-16" cy="70.0" rx="11" ry="10"/><ellipse cx="16" cy="70.0" rx="11" ry="10"/></g><g fill="#3a1a10" opacity="0.32" filter="url(#b15)"><ellipse cx="-14.70" cy="54.00" rx="7.8" ry="4.4"/><ellipse cx="14.70" cy="54.00" rx="7.8" ry="4.4"/></g><g fill="#2a160c" opacity="0.95" filter="url(#b08)" transform="translate(0,47.40) scale(1,0.75) translate(0,-46.6)"><use href="#browL" transform="rotate(0.00,-15,46.6)"/><use href="#browR" transform="rotate(-0.00,15,46.6)"/></g><path d="M0,49 L0,69" stroke="#e58659" stroke-width="3.5" opacity="0.35" filter="url(#b1)"/><use href="#nsides" stroke="#4a2010" stroke-width="2.6" opacity="0.30" filter="url(#b1)"/><ellipse cx="0" cy="71.3" rx="4.6" ry="3.6" fill="#e58659" opacity="0.45" filter="url(#b1)"/><use href="#alae" stroke="#3a140a" stroke-width="1.8" opacity="0.45" filter="url(#b1)"/><use href="#nostril" stroke="#3a140a" stroke-width="1.3" opacity="0.39" filter="url(#b08)"/><use href="#nostrils" fill="#2a0a04" opacity="0.55" filter="url(#b06)"/><g fill="#3a1208" opacity="0.35" filter="url(#b08)"><ellipse cx="-14.70" cy="52.50" rx="6.09" ry="1.4"/><ellipse cx="14.70" cy="52.50" rx="6.09" ry="1.4"/></g><ellipse cx="0" cy="77" rx="5" ry="1.3" fill="#4a2012" opacity="0.15" filter="url(#b08)"/><ellipse cx="0" cy="81.4" rx="12" ry="3" fill="#3a3028" opacity="0.20" filter="url(#b15)"/><path d="M-22,84 Q-16,100 0,104 Q16,100 22,84 Q12,90 0,95 Q-12,90 -22,84Z" fill="#3a3028" opacity="0.12" filter="url(#b3)"/><g transform="translate(0,86.3) scale(1.00,0.95) translate(0,-86.3)"><use href="#lipu" fill="#96423c" filter="url(#b05)"/><use href="#lipl" fill="#cc6e68" opacity="0.80" filter="url(#b06)"/><use href="#lipline" stroke="#5a1a14" stroke-width="0.8" opacity="0.60" filter="url(#b04)"/></g><ellipse cx="0" cy="93.2" rx="6" ry="1.2" fill="#4a2012" opacity="0.20" filter="url(#b08)"/><ellipse cx="0" cy="98" rx="8" ry="4.5" fill="#dc8c6e" opacity="0.50" filter="url(#b2)"/><g filter="url(#b04)"><path d="M-20.00,54.70 Q-15.23,50.32 -9.40,54.70 Q-14.17,57.80 -20.00,54.70 Z" fill="#b4aaa8"/><ellipse cx="-14.70" cy="54.40" rx="2.65" ry="2.78" fill="#140806" clip-path="url(#f35e0)"/><path d="M-20.00,54.70 Q-15.23,50.32 -9.40,54.70" stroke="#1e0c06" stroke-width="1.20" fill="none" opacity="0.8"/></g><g filter="url(#b04)"><path d="M9.40,54.70 Q14.17,50.32 20.00,54.70 Q15.23,57.80 9.40,54.70 Z" fill="#b4aaa8"/><ellipse cx="14.70" cy="54.40" rx="2.65" ry="2.78" fill="#140806" clip-path="url(#f35e2)"/><path d="M9.40,54.70 Q14.17,50.32 20.00,54.70" stroke="#1e0c06" stroke-width="1.20" fill="none" opacity="0.8"/></g></g><g clip-path="url(#hnc)"><use href="#jaw" stroke="#2a1a10" stroke-width="1.3" opacity="0.32" filter="url(#b06)" transform="translate(0,0.2)"/></g></g>
</svg></body></html>
